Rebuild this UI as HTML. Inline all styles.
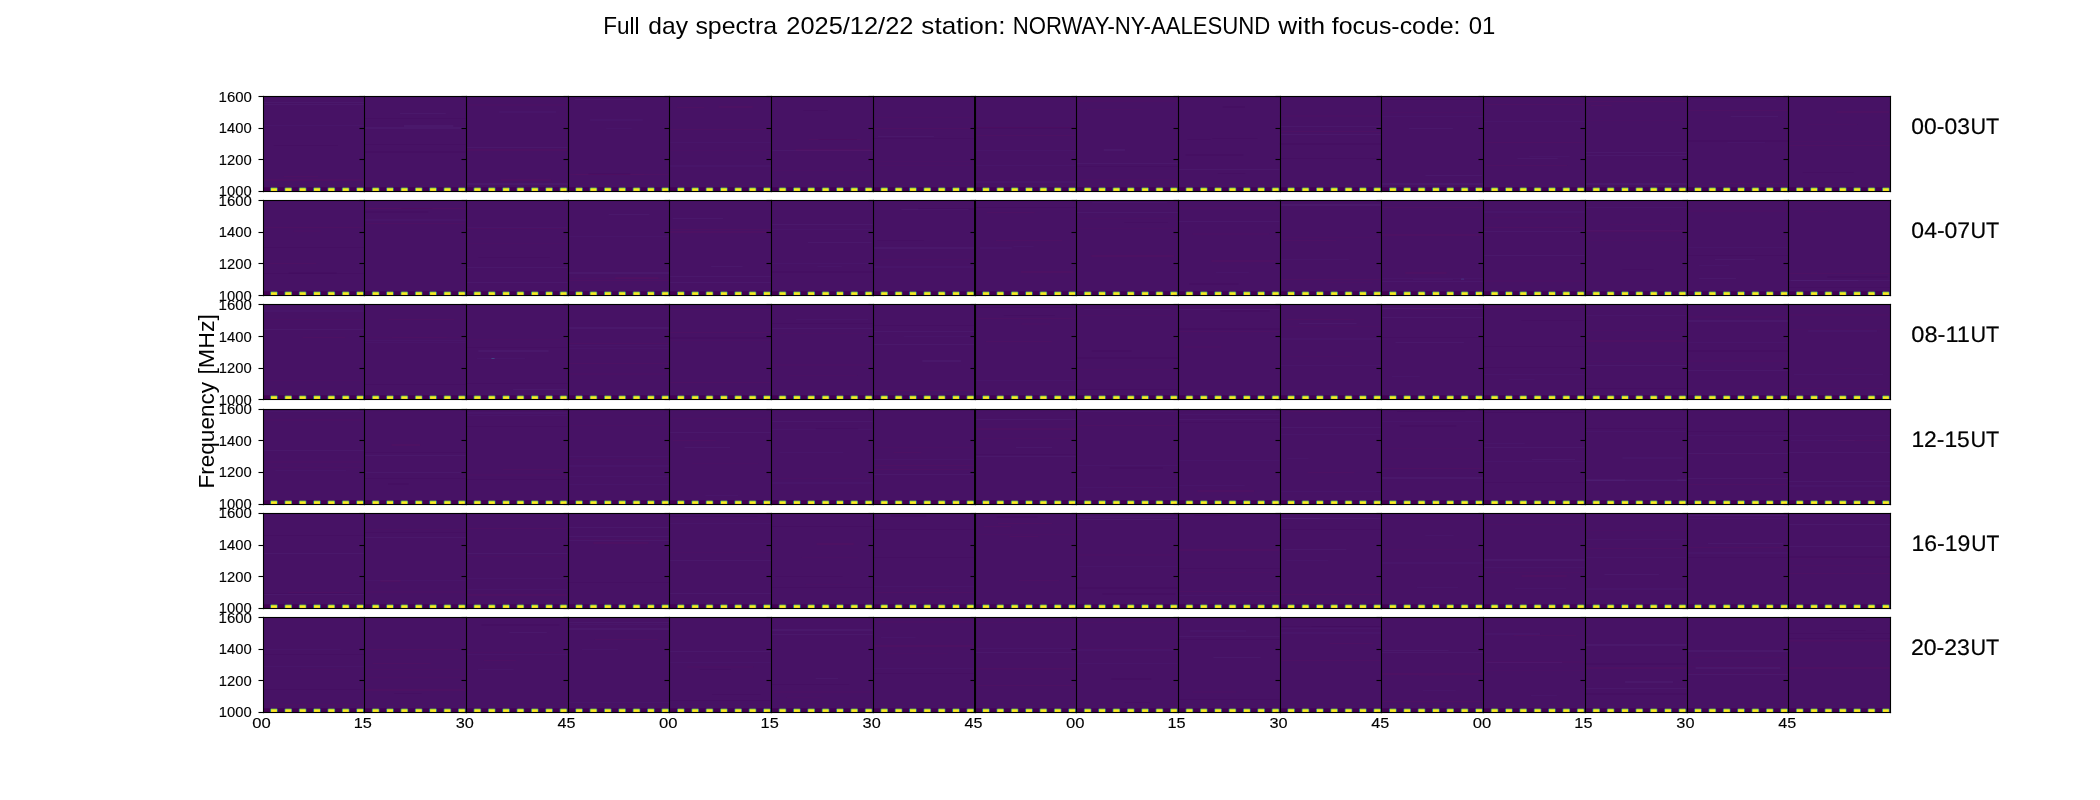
<!DOCTYPE html>
<html><head><meta charset="utf-8"><title>Full day spectra</title>
<style>html,body{margin:0;padding:0;background:#fff}body{width:2100px;height:800px;overflow:hidden;position:relative}svg{position:absolute;left:0;top:0;display:block}text{font-family:"Liberation Sans",sans-serif;fill:#000}</style>
</head><body>
<svg width="2100" height="800" viewBox="0 0 2100 800">
<rect x="0" y="0" width="2100" height="800" fill="#fff"/>
<g>
<rect x="263" y="96.5" width="1627.5" height="95" fill="#471265"/>
<rect x="263.5" y="125" width="100.7" height="1" fill="#6a5ab0" opacity="0.06"/>
<rect x="263.5" y="104" width="100.7" height="1" fill="#6a5ab0" opacity="0.09"/>
<rect x="283.4" y="176" width="34.6" height="1" fill="#8a0a58" opacity="0.1"/>
<rect x="273.7" y="145" width="64.3" height="1" fill="#3a0050" opacity="0.12"/>
<rect x="263.5" y="179" width="100.7" height="2" fill="#8a0a58" opacity="0.1"/>
<rect x="263.5" y="102" width="100.7" height="1" fill="#6a5ab0" opacity="0.09"/>
<rect x="364.2" y="144" width="101.7" height="1" fill="#3a0050" opacity="0.12"/>
<rect x="399.8" y="113" width="46.0" height="1" fill="#6a5ab0" opacity="0.09"/>
<rect x="364.2" y="151" width="101.7" height="2" fill="#3a0050" opacity="0.12"/>
<rect x="403.9" y="125" width="49.4" height="2" fill="#6a5ab0" opacity="0.09"/>
<rect x="364.2" y="118" width="101.7" height="1" fill="#3a0050" opacity="0.12"/>
<rect x="364.2" y="127" width="101.7" height="2" fill="#6a5ab0" opacity="0.09"/>
<rect x="465.9" y="104" width="101.7" height="2" fill="#8a0a58" opacity="0.06"/>
<rect x="499.3" y="111" width="56.9" height="2" fill="#6a5ab0" opacity="0.06"/>
<rect x="465.9" y="147" width="101.7" height="1" fill="#6a5ab0" opacity="0.09"/>
<rect x="465.9" y="149" width="101.7" height="2" fill="#8a0a58" opacity="0.1"/>
<rect x="501.0" y="179" width="50.2" height="2" fill="#8a0a58" opacity="0.1"/>
<rect x="465.9" y="183" width="101.7" height="2" fill="#6a5ab0" opacity="0.09"/>
<rect x="567.7" y="174" width="101.7" height="1" fill="#8a0a58" opacity="0.1"/>
<rect x="606.1" y="128" width="25.6" height="1" fill="#6a5ab0" opacity="0.06"/>
<rect x="590.1" y="119" width="52.6" height="2" fill="#6a5ab0" opacity="0.06"/>
<rect x="588.4" y="173" width="41.9" height="2" fill="#3a0050" opacity="0.12"/>
<rect x="575.2" y="174" width="68.8" height="1" fill="#8a0a58" opacity="0.06"/>
<rect x="574.9" y="99" width="59.8" height="1" fill="#6a5ab0" opacity="0.09"/>
<rect x="669.4" y="150" width="101.7" height="1" fill="#8a0a58" opacity="0.06"/>
<rect x="669.4" y="142" width="101.7" height="1" fill="#6a5ab0" opacity="0.06"/>
<rect x="669.4" y="165" width="101.7" height="2" fill="#6a5ab0" opacity="0.06"/>
<rect x="718.6" y="106" width="34.3" height="2" fill="#8a0a58" opacity="0.1"/>
<rect x="676.9" y="107" width="27.5" height="1" fill="#8a0a58" opacity="0.1"/>
<rect x="669.4" y="129" width="101.7" height="1" fill="#8a0a58" opacity="0.1"/>
<rect x="771.1" y="150" width="101.7" height="1" fill="#6a5ab0" opacity="0.09"/>
<rect x="795.5" y="149" width="76.0" height="2" fill="#8a0a58" opacity="0.1"/>
<rect x="808.6" y="139" width="52.7" height="1" fill="#8a0a58" opacity="0.1"/>
<rect x="818.6" y="139" width="38.1" height="1" fill="#3a0050" opacity="0.12"/>
<rect x="803.2" y="110" width="24.5" height="1" fill="#3a0050" opacity="0.12"/>
<rect x="771.1" y="170" width="101.7" height="1" fill="#8a0a58" opacity="0.06"/>
<rect x="872.8" y="117" width="101.7" height="1" fill="#8a0a58" opacity="0.06"/>
<rect x="872.8" y="165" width="101.7" height="1" fill="#8a0a58" opacity="0.06"/>
<rect x="872.8" y="161" width="101.7" height="1" fill="#8a0a58" opacity="0.06"/>
<rect x="872.8" y="128" width="101.7" height="1" fill="#8a0a58" opacity="0.1"/>
<rect x="872.8" y="138" width="101.7" height="1" fill="#3a0050" opacity="0.12"/>
<rect x="877.9" y="136" width="56.0" height="1" fill="#6a5ab0" opacity="0.09"/>
<rect x="974.5" y="127" width="101.7" height="2" fill="#3a0050" opacity="0.12"/>
<rect x="974.5" y="150" width="101.7" height="1" fill="#6a5ab0" opacity="0.06"/>
<rect x="974.5" y="127" width="101.7" height="1" fill="#8a0a58" opacity="0.1"/>
<rect x="974.5" y="165" width="101.7" height="1" fill="#6a5ab0" opacity="0.06"/>
<rect x="974.5" y="135" width="101.7" height="1" fill="#8a0a58" opacity="0.1"/>
<rect x="974.5" y="181" width="101.7" height="2" fill="#6a5ab0" opacity="0.06"/>
<rect x="1076.2" y="179" width="101.7" height="1" fill="#8a0a58" opacity="0.06"/>
<rect x="1076.2" y="100" width="101.7" height="2" fill="#8a0a58" opacity="0.06"/>
<rect x="1103.7" y="149" width="21.2" height="2" fill="#6a5ab0" opacity="0.09"/>
<rect x="1076.2" y="166" width="101.7" height="1" fill="#3a0050" opacity="0.12"/>
<rect x="1086.9" y="109" width="55.6" height="1" fill="#8a0a58" opacity="0.06"/>
<rect x="1076.2" y="163" width="101.7" height="1" fill="#6a5ab0" opacity="0.09"/>
<rect x="1178.0" y="169" width="101.7" height="1" fill="#6a5ab0" opacity="0.09"/>
<rect x="1185.6" y="154" width="57.8" height="2" fill="#3a0050" opacity="0.12"/>
<rect x="1217.9" y="173" width="27.2" height="1" fill="#3a0050" opacity="0.12"/>
<rect x="1212.1" y="138" width="45.3" height="1" fill="#3a0050" opacity="0.12"/>
<rect x="1187.5" y="139" width="23.0" height="1" fill="#3a0050" opacity="0.12"/>
<rect x="1222.7" y="106" width="22.3" height="2" fill="#3a0050" opacity="0.12"/>
<rect x="1279.7" y="126" width="101.7" height="1" fill="#6a5ab0" opacity="0.09"/>
<rect x="1279.7" y="143" width="101.7" height="2" fill="#3a0050" opacity="0.12"/>
<rect x="1279.7" y="158" width="101.7" height="1" fill="#3a0050" opacity="0.12"/>
<rect x="1279.7" y="115" width="101.7" height="2" fill="#8a0a58" opacity="0.06"/>
<rect x="1279.7" y="131" width="101.7" height="1" fill="#8a0a58" opacity="0.1"/>
<rect x="1279.7" y="134" width="101.7" height="1" fill="#6a5ab0" opacity="0.09"/>
<rect x="1425.5" y="175" width="56.4" height="1" fill="#6a5ab0" opacity="0.09"/>
<rect x="1381.4" y="116" width="101.7" height="1" fill="#6a5ab0" opacity="0.06"/>
<rect x="1381.4" y="112" width="101.7" height="1" fill="#8a0a58" opacity="0.06"/>
<rect x="1381.4" y="183" width="101.7" height="2" fill="#6a5ab0" opacity="0.09"/>
<rect x="1409.1" y="128" width="43.8" height="1" fill="#6a5ab0" opacity="0.09"/>
<rect x="1381.4" y="99" width="101.7" height="1" fill="#3a0050" opacity="0.12"/>
<rect x="1483.1" y="142" width="101.7" height="1" fill="#8a0a58" opacity="0.1"/>
<rect x="1485.1" y="165" width="82.1" height="1" fill="#8a0a58" opacity="0.1"/>
<rect x="1483.1" y="121" width="101.7" height="1" fill="#6a5ab0" opacity="0.06"/>
<rect x="1529.1" y="156" width="40.4" height="1" fill="#6a5ab0" opacity="0.06"/>
<rect x="1517.5" y="158" width="40.1" height="1" fill="#6a5ab0" opacity="0.09"/>
<rect x="1483.1" y="104" width="101.7" height="1" fill="#8a0a58" opacity="0.1"/>
<rect x="1590.9" y="105" width="20.9" height="1" fill="#8a0a58" opacity="0.1"/>
<rect x="1584.8" y="183" width="101.7" height="2" fill="#6a5ab0" opacity="0.09"/>
<rect x="1584.8" y="101" width="101.7" height="1" fill="#8a0a58" opacity="0.1"/>
<rect x="1584.8" y="120" width="101.7" height="1" fill="#8a0a58" opacity="0.06"/>
<rect x="1584.8" y="152" width="101.7" height="1" fill="#6a5ab0" opacity="0.09"/>
<rect x="1584.8" y="155" width="101.7" height="1" fill="#6a5ab0" opacity="0.09"/>
<rect x="1711.8" y="183" width="75.2" height="1" fill="#8a0a58" opacity="0.1"/>
<rect x="1727.5" y="142" width="37.6" height="1" fill="#6a5ab0" opacity="0.06"/>
<rect x="1686.6" y="140" width="101.7" height="2" fill="#3a0050" opacity="0.12"/>
<rect x="1730.7" y="116" width="47.4" height="1" fill="#6a5ab0" opacity="0.09"/>
<rect x="1686.6" y="110" width="101.7" height="1" fill="#8a0a58" opacity="0.1"/>
<rect x="1690.8" y="99" width="85.2" height="1" fill="#6a5ab0" opacity="0.06"/>
<rect x="1802.9" y="172" width="50.8" height="1" fill="#3a0050" opacity="0.12"/>
<rect x="1836.4" y="111" width="52.7" height="2" fill="#8a0a58" opacity="0.1"/>
<rect x="1788.3" y="145" width="101.7" height="1" fill="#8a0a58" opacity="0.1"/>
<rect x="1807.4" y="124" width="49.7" height="1" fill="#8a0a58" opacity="0.06"/>
<rect x="1788.3" y="141" width="101.7" height="1" fill="#8a0a58" opacity="0.06"/>
<rect x="1817.6" y="98" width="40.6" height="1" fill="#8a0a58" opacity="0.1"/>
<rect x="263" y="187" width="1627.5" height="1" fill="#45085b"/>
<rect x="263" y="187.8" width="1627.5" height="3.7" fill="#440154"/>
<path fill="#26828e" d="M270.15 187.80h7.55v3.7h-7.55zM284.50 187.80h7.55v3.7h-7.55zM298.85 187.80h7.55v3.7h-7.55zM313.20 187.80h7.55v3.7h-7.55zM327.55 187.80h7.55v3.7h-7.55zM341.90 187.80h7.55v3.7h-7.55zM356.25 187.80h7.55v3.7h-7.55zM371.87 187.80h7.55v3.7h-7.55zM386.22 187.80h7.55v3.7h-7.55zM400.57 187.80h7.55v3.7h-7.55zM414.92 187.80h7.55v3.7h-7.55zM429.27 187.80h7.55v3.7h-7.55zM443.62 187.80h7.55v3.7h-7.55zM457.97 187.80h7.55v3.7h-7.55zM473.59 187.80h7.55v3.7h-7.55zM487.94 187.80h7.55v3.7h-7.55zM502.29 187.80h7.55v3.7h-7.55zM516.64 187.80h7.55v3.7h-7.55zM530.99 187.80h7.55v3.7h-7.55zM545.34 187.80h7.55v3.7h-7.55zM559.69 187.80h7.55v3.7h-7.55zM575.31 187.80h7.55v3.7h-7.55zM589.66 187.80h7.55v3.7h-7.55zM604.01 187.80h7.55v3.7h-7.55zM618.36 187.80h7.55v3.7h-7.55zM632.71 187.80h7.55v3.7h-7.55zM647.06 187.80h7.55v3.7h-7.55zM661.41 187.80h7.55v3.7h-7.55zM677.02 187.80h7.55v3.7h-7.55zM691.38 187.80h7.55v3.7h-7.55zM705.73 187.80h7.55v3.7h-7.55zM720.07 187.80h7.55v3.7h-7.55zM734.42 187.80h7.55v3.7h-7.55zM748.77 187.80h7.55v3.7h-7.55zM763.12 187.80h7.55v3.7h-7.55zM778.74 187.80h7.55v3.7h-7.55zM793.09 187.80h7.55v3.7h-7.55zM807.44 187.80h7.55v3.7h-7.55zM821.79 187.80h7.55v3.7h-7.55zM836.14 187.80h7.55v3.7h-7.55zM850.49 187.80h7.55v3.7h-7.55zM864.84 187.80h7.55v3.7h-7.55zM880.46 187.80h7.55v3.7h-7.55zM894.81 187.80h7.55v3.7h-7.55zM909.16 187.80h7.55v3.7h-7.55zM923.51 187.80h7.55v3.7h-7.55zM937.86 187.80h7.55v3.7h-7.55zM952.21 187.80h7.55v3.7h-7.55zM966.56 187.80h7.55v3.7h-7.55zM982.18 187.80h7.55v3.7h-7.55zM996.53 187.80h7.55v3.7h-7.55zM1010.88 187.80h7.55v3.7h-7.55zM1025.23 187.80h7.55v3.7h-7.55zM1039.58 187.80h7.55v3.7h-7.55zM1053.93 187.80h7.55v3.7h-7.55zM1068.28 187.80h7.55v3.7h-7.55zM1083.90 187.80h7.55v3.7h-7.55zM1098.25 187.80h7.55v3.7h-7.55zM1112.60 187.80h7.55v3.7h-7.55zM1126.95 187.80h7.55v3.7h-7.55zM1141.30 187.80h7.55v3.7h-7.55zM1155.65 187.80h7.55v3.7h-7.55zM1170.00 187.80h7.55v3.7h-7.55zM1185.62 187.80h7.55v3.7h-7.55zM1199.97 187.80h7.55v3.7h-7.55zM1214.32 187.80h7.55v3.7h-7.55zM1228.67 187.80h7.55v3.7h-7.55zM1243.02 187.80h7.55v3.7h-7.55zM1257.37 187.80h7.55v3.7h-7.55zM1271.72 187.80h7.55v3.7h-7.55zM1287.34 187.80h7.55v3.7h-7.55zM1301.69 187.80h7.55v3.7h-7.55zM1316.04 187.80h7.55v3.7h-7.55zM1330.39 187.80h7.55v3.7h-7.55zM1344.74 187.80h7.55v3.7h-7.55zM1359.09 187.80h7.55v3.7h-7.55zM1373.44 187.80h7.55v3.7h-7.55zM1389.06 187.80h7.55v3.7h-7.55zM1403.41 187.80h7.55v3.7h-7.55zM1417.76 187.80h7.55v3.7h-7.55zM1432.11 187.80h7.55v3.7h-7.55zM1446.46 187.80h7.55v3.7h-7.55zM1460.81 187.80h7.55v3.7h-7.55zM1475.16 187.80h7.55v3.7h-7.55zM1490.78 187.80h7.55v3.7h-7.55zM1505.12 187.80h7.55v3.7h-7.55zM1519.48 187.80h7.55v3.7h-7.55zM1533.83 187.80h7.55v3.7h-7.55zM1548.18 187.80h7.55v3.7h-7.55zM1562.53 187.80h7.55v3.7h-7.55zM1576.88 187.80h7.55v3.7h-7.55zM1592.49 187.80h7.55v3.7h-7.55zM1606.84 187.80h7.55v3.7h-7.55zM1621.19 187.80h7.55v3.7h-7.55zM1635.54 187.80h7.55v3.7h-7.55zM1649.89 187.80h7.55v3.7h-7.55zM1664.24 187.80h7.55v3.7h-7.55zM1678.59 187.80h7.55v3.7h-7.55zM1694.21 187.80h7.55v3.7h-7.55zM1708.56 187.80h7.55v3.7h-7.55zM1722.91 187.80h7.55v3.7h-7.55zM1737.26 187.80h7.55v3.7h-7.55zM1751.61 187.80h7.55v3.7h-7.55zM1765.96 187.80h7.55v3.7h-7.55zM1780.31 187.80h7.55v3.7h-7.55zM1795.93 187.80h7.55v3.7h-7.55zM1810.28 187.80h7.55v3.7h-7.55zM1824.63 187.80h7.55v3.7h-7.55zM1838.98 187.80h7.55v3.7h-7.55zM1853.33 187.80h7.55v3.7h-7.55zM1867.68 187.80h7.55v3.7h-7.55zM1882.03 187.80h7.55v3.7h-7.55z"/><path fill="#a5db36" d="M271.00 187.80h5.95v3.7h-5.95zM285.35 187.80h5.95v3.7h-5.95zM299.70 187.80h5.95v3.7h-5.95zM314.05 187.80h5.95v3.7h-5.95zM328.40 187.80h5.95v3.7h-5.95zM342.75 187.80h5.95v3.7h-5.95zM357.10 187.80h5.95v3.7h-5.95zM372.72 187.80h5.95v3.7h-5.95zM387.07 187.80h5.95v3.7h-5.95zM401.42 187.80h5.95v3.7h-5.95zM415.77 187.80h5.95v3.7h-5.95zM430.12 187.80h5.95v3.7h-5.95zM444.47 187.80h5.95v3.7h-5.95zM458.82 187.80h5.95v3.7h-5.95zM474.44 187.80h5.95v3.7h-5.95zM488.79 187.80h5.95v3.7h-5.95zM503.14 187.80h5.95v3.7h-5.95zM517.49 187.80h5.95v3.7h-5.95zM531.84 187.80h5.95v3.7h-5.95zM546.19 187.80h5.95v3.7h-5.95zM560.54 187.80h5.95v3.7h-5.95zM576.16 187.80h5.95v3.7h-5.95zM590.51 187.80h5.95v3.7h-5.95zM604.86 187.80h5.95v3.7h-5.95zM619.21 187.80h5.95v3.7h-5.95zM633.56 187.80h5.95v3.7h-5.95zM647.91 187.80h5.95v3.7h-5.95zM662.26 187.80h5.95v3.7h-5.95zM677.88 187.80h5.95v3.7h-5.95zM692.23 187.80h5.95v3.7h-5.95zM706.58 187.80h5.95v3.7h-5.95zM720.92 187.80h5.95v3.7h-5.95zM735.27 187.80h5.95v3.7h-5.95zM749.62 187.80h5.95v3.7h-5.95zM763.98 187.80h5.95v3.7h-5.95zM779.59 187.80h5.95v3.7h-5.95zM793.94 187.80h5.95v3.7h-5.95zM808.29 187.80h5.95v3.7h-5.95zM822.64 187.80h5.95v3.7h-5.95zM836.99 187.80h5.95v3.7h-5.95zM851.34 187.80h5.95v3.7h-5.95zM865.69 187.80h5.95v3.7h-5.95zM881.31 187.80h5.95v3.7h-5.95zM895.66 187.80h5.95v3.7h-5.95zM910.01 187.80h5.95v3.7h-5.95zM924.36 187.80h5.95v3.7h-5.95zM938.71 187.80h5.95v3.7h-5.95zM953.06 187.80h5.95v3.7h-5.95zM967.41 187.80h5.95v3.7h-5.95zM983.03 187.80h5.95v3.7h-5.95zM997.38 187.80h5.95v3.7h-5.95zM1011.73 187.80h5.95v3.7h-5.95zM1026.08 187.80h5.95v3.7h-5.95zM1040.43 187.80h5.95v3.7h-5.95zM1054.78 187.80h5.95v3.7h-5.95zM1069.13 187.80h5.95v3.7h-5.95zM1084.75 187.80h5.95v3.7h-5.95zM1099.10 187.80h5.95v3.7h-5.95zM1113.45 187.80h5.95v3.7h-5.95zM1127.80 187.80h5.95v3.7h-5.95zM1142.15 187.80h5.95v3.7h-5.95zM1156.50 187.80h5.95v3.7h-5.95zM1170.85 187.80h5.95v3.7h-5.95zM1186.47 187.80h5.95v3.7h-5.95zM1200.82 187.80h5.95v3.7h-5.95zM1215.17 187.80h5.95v3.7h-5.95zM1229.52 187.80h5.95v3.7h-5.95zM1243.87 187.80h5.95v3.7h-5.95zM1258.22 187.80h5.95v3.7h-5.95zM1272.57 187.80h5.95v3.7h-5.95zM1288.19 187.80h5.95v3.7h-5.95zM1302.54 187.80h5.95v3.7h-5.95zM1316.89 187.80h5.95v3.7h-5.95zM1331.24 187.80h5.95v3.7h-5.95zM1345.59 187.80h5.95v3.7h-5.95zM1359.94 187.80h5.95v3.7h-5.95zM1374.29 187.80h5.95v3.7h-5.95zM1389.91 187.80h5.95v3.7h-5.95zM1404.26 187.80h5.95v3.7h-5.95zM1418.61 187.80h5.95v3.7h-5.95zM1432.96 187.80h5.95v3.7h-5.95zM1447.31 187.80h5.95v3.7h-5.95zM1461.66 187.80h5.95v3.7h-5.95zM1476.01 187.80h5.95v3.7h-5.95zM1491.62 187.80h5.95v3.7h-5.95zM1505.97 187.80h5.95v3.7h-5.95zM1520.33 187.80h5.95v3.7h-5.95zM1534.67 187.80h5.95v3.7h-5.95zM1549.03 187.80h5.95v3.7h-5.95zM1563.38 187.80h5.95v3.7h-5.95zM1577.72 187.80h5.95v3.7h-5.95zM1593.34 187.80h5.95v3.7h-5.95zM1607.69 187.80h5.95v3.7h-5.95zM1622.04 187.80h5.95v3.7h-5.95zM1636.39 187.80h5.95v3.7h-5.95zM1650.74 187.80h5.95v3.7h-5.95zM1665.09 187.80h5.95v3.7h-5.95zM1679.44 187.80h5.95v3.7h-5.95zM1695.06 187.80h5.95v3.7h-5.95zM1709.41 187.80h5.95v3.7h-5.95zM1723.76 187.80h5.95v3.7h-5.95zM1738.11 187.80h5.95v3.7h-5.95zM1752.46 187.80h5.95v3.7h-5.95zM1766.81 187.80h5.95v3.7h-5.95zM1781.16 187.80h5.95v3.7h-5.95zM1796.78 187.80h5.95v3.7h-5.95zM1811.13 187.80h5.95v3.7h-5.95zM1825.48 187.80h5.95v3.7h-5.95zM1839.83 187.80h5.95v3.7h-5.95zM1854.18 187.80h5.95v3.7h-5.95zM1868.53 187.80h5.95v3.7h-5.95zM1882.88 187.80h5.95v3.7h-5.95z"/><path fill="#fde725" d="M271.10 188.65h5.75v2.85h-5.75zM285.45 188.65h5.75v2.85h-5.75zM299.80 188.65h5.75v2.85h-5.75zM314.15 188.65h5.75v2.85h-5.75zM328.50 188.65h5.75v2.85h-5.75zM342.85 188.65h5.75v2.85h-5.75zM357.20 188.65h5.75v2.85h-5.75zM372.82 188.65h5.75v2.85h-5.75zM387.17 188.65h5.75v2.85h-5.75zM401.52 188.65h5.75v2.85h-5.75zM415.87 188.65h5.75v2.85h-5.75zM430.22 188.65h5.75v2.85h-5.75zM444.57 188.65h5.75v2.85h-5.75zM458.92 188.65h5.75v2.85h-5.75zM474.54 188.65h5.75v2.85h-5.75zM488.89 188.65h5.75v2.85h-5.75zM503.24 188.65h5.75v2.85h-5.75zM517.59 188.65h5.75v2.85h-5.75zM531.94 188.65h5.75v2.85h-5.75zM546.29 188.65h5.75v2.85h-5.75zM560.64 188.65h5.75v2.85h-5.75zM576.26 188.65h5.75v2.85h-5.75zM590.61 188.65h5.75v2.85h-5.75zM604.96 188.65h5.75v2.85h-5.75zM619.31 188.65h5.75v2.85h-5.75zM633.66 188.65h5.75v2.85h-5.75zM648.01 188.65h5.75v2.85h-5.75zM662.36 188.65h5.75v2.85h-5.75zM677.98 188.65h5.75v2.85h-5.75zM692.33 188.65h5.75v2.85h-5.75zM706.68 188.65h5.75v2.85h-5.75zM721.02 188.65h5.75v2.85h-5.75zM735.38 188.65h5.75v2.85h-5.75zM749.73 188.65h5.75v2.85h-5.75zM764.08 188.65h5.75v2.85h-5.75zM779.69 188.65h5.75v2.85h-5.75zM794.04 188.65h5.75v2.85h-5.75zM808.39 188.65h5.75v2.85h-5.75zM822.74 188.65h5.75v2.85h-5.75zM837.09 188.65h5.75v2.85h-5.75zM851.44 188.65h5.75v2.85h-5.75zM865.79 188.65h5.75v2.85h-5.75zM881.41 188.65h5.75v2.85h-5.75zM895.76 188.65h5.75v2.85h-5.75zM910.11 188.65h5.75v2.85h-5.75zM924.46 188.65h5.75v2.85h-5.75zM938.81 188.65h5.75v2.85h-5.75zM953.16 188.65h5.75v2.85h-5.75zM967.51 188.65h5.75v2.85h-5.75zM983.13 188.65h5.75v2.85h-5.75zM997.48 188.65h5.75v2.85h-5.75zM1011.83 188.65h5.75v2.85h-5.75zM1026.18 188.65h5.75v2.85h-5.75zM1040.53 188.65h5.75v2.85h-5.75zM1054.88 188.65h5.75v2.85h-5.75zM1069.23 188.65h5.75v2.85h-5.75zM1084.85 188.65h5.75v2.85h-5.75zM1099.20 188.65h5.75v2.85h-5.75zM1113.55 188.65h5.75v2.85h-5.75zM1127.90 188.65h5.75v2.85h-5.75zM1142.25 188.65h5.75v2.85h-5.75zM1156.60 188.65h5.75v2.85h-5.75zM1170.95 188.65h5.75v2.85h-5.75zM1186.57 188.65h5.75v2.85h-5.75zM1200.92 188.65h5.75v2.85h-5.75zM1215.27 188.65h5.75v2.85h-5.75zM1229.62 188.65h5.75v2.85h-5.75zM1243.97 188.65h5.75v2.85h-5.75zM1258.32 188.65h5.75v2.85h-5.75zM1272.67 188.65h5.75v2.85h-5.75zM1288.29 188.65h5.75v2.85h-5.75zM1302.64 188.65h5.75v2.85h-5.75zM1316.99 188.65h5.75v2.85h-5.75zM1331.34 188.65h5.75v2.85h-5.75zM1345.69 188.65h5.75v2.85h-5.75zM1360.04 188.65h5.75v2.85h-5.75zM1374.39 188.65h5.75v2.85h-5.75zM1390.01 188.65h5.75v2.85h-5.75zM1404.36 188.65h5.75v2.85h-5.75zM1418.71 188.65h5.75v2.85h-5.75zM1433.06 188.65h5.75v2.85h-5.75zM1447.41 188.65h5.75v2.85h-5.75zM1461.76 188.65h5.75v2.85h-5.75zM1476.11 188.65h5.75v2.85h-5.75zM1491.73 188.65h5.75v2.85h-5.75zM1506.08 188.65h5.75v2.85h-5.75zM1520.43 188.65h5.75v2.85h-5.75zM1534.78 188.65h5.75v2.85h-5.75zM1549.13 188.65h5.75v2.85h-5.75zM1563.48 188.65h5.75v2.85h-5.75zM1577.83 188.65h5.75v2.85h-5.75zM1593.44 188.65h5.75v2.85h-5.75zM1607.79 188.65h5.75v2.85h-5.75zM1622.14 188.65h5.75v2.85h-5.75zM1636.49 188.65h5.75v2.85h-5.75zM1650.84 188.65h5.75v2.85h-5.75zM1665.19 188.65h5.75v2.85h-5.75zM1679.54 188.65h5.75v2.85h-5.75zM1695.16 188.65h5.75v2.85h-5.75zM1709.51 188.65h5.75v2.85h-5.75zM1723.86 188.65h5.75v2.85h-5.75zM1738.21 188.65h5.75v2.85h-5.75zM1752.56 188.65h5.75v2.85h-5.75zM1766.91 188.65h5.75v2.85h-5.75zM1781.26 188.65h5.75v2.85h-5.75zM1796.88 188.65h5.75v2.85h-5.75zM1811.23 188.65h5.75v2.85h-5.75zM1825.58 188.65h5.75v2.85h-5.75zM1839.93 188.65h5.75v2.85h-5.75zM1854.28 188.65h5.75v2.85h-5.75zM1868.63 188.65h5.75v2.85h-5.75zM1882.98 188.65h5.75v2.85h-5.75z"/>
</g>
<g>
<rect x="263" y="200.5" width="1627.5" height="95" fill="#471265"/>
<rect x="263.5" y="227" width="100.7" height="1" fill="#8a0a58" opacity="0.1"/>
<rect x="263.5" y="247" width="100.7" height="1" fill="#3a0050" opacity="0.12"/>
<rect x="293.4" y="230" width="27.4" height="2" fill="#8a0a58" opacity="0.06"/>
<rect x="288.7" y="272" width="48.0" height="2" fill="#3a0050" opacity="0.12"/>
<rect x="263.5" y="273" width="100.7" height="1" fill="#3a0050" opacity="0.12"/>
<rect x="269.2" y="263" width="47.1" height="1" fill="#8a0a58" opacity="0.1"/>
<rect x="365.2" y="211" width="62.9" height="2" fill="#3a0050" opacity="0.12"/>
<rect x="364.2" y="223" width="101.7" height="1" fill="#8a0a58" opacity="0.1"/>
<rect x="401.1" y="208" width="31.3" height="1" fill="#3a0050" opacity="0.12"/>
<rect x="364.2" y="208" width="101.7" height="1" fill="#8a0a58" opacity="0.06"/>
<rect x="364.2" y="219" width="101.7" height="2" fill="#6a5ab0" opacity="0.06"/>
<rect x="364.2" y="208" width="101.7" height="1" fill="#8a0a58" opacity="0.1"/>
<rect x="478.6" y="257" width="71.3" height="1" fill="#3a0050" opacity="0.12"/>
<rect x="465.9" y="228" width="101.7" height="1" fill="#8a0a58" opacity="0.1"/>
<rect x="465.9" y="243" width="101.7" height="1" fill="#8a0a58" opacity="0.06"/>
<rect x="465.9" y="227" width="101.7" height="1" fill="#6a5ab0" opacity="0.06"/>
<rect x="465.9" y="267" width="101.7" height="1" fill="#6a5ab0" opacity="0.09"/>
<rect x="465.9" y="282" width="101.7" height="1" fill="#6a5ab0" opacity="0.09"/>
<rect x="567.7" y="272" width="101.7" height="2" fill="#6a5ab0" opacity="0.09"/>
<rect x="567.7" y="280" width="101.7" height="1" fill="#8a0a58" opacity="0.1"/>
<rect x="608.7" y="214" width="40.7" height="1" fill="#6a5ab0" opacity="0.09"/>
<rect x="567.7" y="278" width="101.7" height="1" fill="#8a0a58" opacity="0.06"/>
<rect x="615.2" y="277" width="43.3" height="2" fill="#8a0a58" opacity="0.1"/>
<rect x="567.7" y="236" width="101.7" height="1" fill="#6a5ab0" opacity="0.06"/>
<rect x="669.4" y="229" width="101.7" height="1" fill="#8a0a58" opacity="0.1"/>
<rect x="669.4" y="231" width="101.7" height="2" fill="#8a0a58" opacity="0.1"/>
<rect x="672.6" y="218" width="50.6" height="1" fill="#6a5ab0" opacity="0.09"/>
<rect x="669.4" y="276" width="101.7" height="1" fill="#6a5ab0" opacity="0.09"/>
<rect x="711.1" y="266" width="31.4" height="1" fill="#6a5ab0" opacity="0.09"/>
<rect x="669.4" y="282" width="101.7" height="1" fill="#6a5ab0" opacity="0.09"/>
<rect x="771.1" y="229" width="101.7" height="1" fill="#6a5ab0" opacity="0.06"/>
<rect x="771.1" y="271" width="101.7" height="2" fill="#3a0050" opacity="0.12"/>
<rect x="771.1" y="263" width="101.7" height="1" fill="#6a5ab0" opacity="0.06"/>
<rect x="817.4" y="266" width="24.5" height="1" fill="#6a5ab0" opacity="0.06"/>
<rect x="808.0" y="242" width="63.7" height="1" fill="#6a5ab0" opacity="0.09"/>
<rect x="771.1" y="224" width="101.7" height="1" fill="#6a5ab0" opacity="0.09"/>
<rect x="872.8" y="259" width="101.7" height="1" fill="#8a0a58" opacity="0.06"/>
<rect x="918.1" y="208" width="56.3" height="2" fill="#3a0050" opacity="0.12"/>
<rect x="877.3" y="240" width="46.4" height="1" fill="#3a0050" opacity="0.12"/>
<rect x="901.3" y="209" width="67.2" height="1" fill="#6a5ab0" opacity="0.09"/>
<rect x="872.8" y="266" width="101.7" height="2" fill="#6a5ab0" opacity="0.06"/>
<rect x="872.8" y="247" width="101.7" height="2" fill="#6a5ab0" opacity="0.09"/>
<rect x="974.5" y="207" width="101.7" height="1" fill="#3a0050" opacity="0.12"/>
<rect x="987.0" y="212" width="47.7" height="1" fill="#8a0a58" opacity="0.1"/>
<rect x="995.8" y="240" width="66.2" height="1" fill="#8a0a58" opacity="0.1"/>
<rect x="1021.0" y="271" width="52.7" height="2" fill="#8a0a58" opacity="0.1"/>
<rect x="980.0" y="247" width="31.8" height="2" fill="#6a5ab0" opacity="0.06"/>
<rect x="1013.4" y="246" width="20.1" height="1" fill="#6a5ab0" opacity="0.06"/>
<rect x="1076.2" y="212" width="101.7" height="1" fill="#6a5ab0" opacity="0.09"/>
<rect x="1091.3" y="255" width="82.9" height="2" fill="#8a0a58" opacity="0.1"/>
<rect x="1076.2" y="218" width="101.7" height="1" fill="#8a0a58" opacity="0.06"/>
<rect x="1092.1" y="202" width="75.3" height="1" fill="#6a5ab0" opacity="0.06"/>
<rect x="1124.3" y="222" width="43.7" height="1" fill="#3a0050" opacity="0.12"/>
<rect x="1076.2" y="228" width="101.7" height="1" fill="#8a0a58" opacity="0.06"/>
<rect x="1211.3" y="260" width="64.7" height="2" fill="#8a0a58" opacity="0.1"/>
<rect x="1178.0" y="221" width="101.7" height="1" fill="#6a5ab0" opacity="0.09"/>
<rect x="1192.6" y="233" width="76.7" height="2" fill="#8a0a58" opacity="0.06"/>
<rect x="1178.0" y="207" width="101.7" height="2" fill="#8a0a58" opacity="0.06"/>
<rect x="1216.0" y="272" width="32.9" height="1" fill="#6a5ab0" opacity="0.06"/>
<rect x="1189.1" y="283" width="49.4" height="2" fill="#3a0050" opacity="0.12"/>
<rect x="1280.9" y="259" width="68.0" height="1" fill="#6a5ab0" opacity="0.06"/>
<rect x="1279.7" y="237" width="101.7" height="1" fill="#8a0a58" opacity="0.06"/>
<rect x="1279.7" y="279" width="101.7" height="1" fill="#8a0a58" opacity="0.1"/>
<rect x="1326.5" y="282" width="46.1" height="1" fill="#8a0a58" opacity="0.06"/>
<rect x="1279.7" y="204" width="101.7" height="2" fill="#6a5ab0" opacity="0.09"/>
<rect x="1283.7" y="240" width="52.6" height="1" fill="#8a0a58" opacity="0.1"/>
<rect x="1381.4" y="278" width="101.7" height="1" fill="#6a5ab0" opacity="0.06"/>
<rect x="1405.1" y="272" width="41.6" height="2" fill="#8a0a58" opacity="0.1"/>
<rect x="1381.4" y="281" width="101.7" height="1" fill="#6a5ab0" opacity="0.09"/>
<rect x="1412.7" y="279" width="40.4" height="1" fill="#6a5ab0" opacity="0.06"/>
<rect x="1381.4" y="234" width="101.7" height="2" fill="#8a0a58" opacity="0.1"/>
<rect x="1381.4" y="207" width="101.7" height="1" fill="#8a0a58" opacity="0.1"/>
<rect x="1483.1" y="231" width="101.7" height="1" fill="#6a5ab0" opacity="0.09"/>
<rect x="1483.1" y="255" width="101.7" height="1" fill="#6a5ab0" opacity="0.09"/>
<rect x="1483.1" y="227" width="101.7" height="1" fill="#8a0a58" opacity="0.1"/>
<rect x="1483.1" y="211" width="101.7" height="2" fill="#6a5ab0" opacity="0.06"/>
<rect x="1483.1" y="280" width="101.7" height="2" fill="#8a0a58" opacity="0.06"/>
<rect x="1483.1" y="217" width="101.7" height="1" fill="#8a0a58" opacity="0.06"/>
<rect x="1584.8" y="230" width="101.7" height="1" fill="#6a5ab0" opacity="0.06"/>
<rect x="1622.5" y="269" width="30.9" height="1" fill="#3a0050" opacity="0.12"/>
<rect x="1584.8" y="207" width="101.7" height="1" fill="#6a5ab0" opacity="0.06"/>
<rect x="1584.8" y="230" width="101.7" height="2" fill="#8a0a58" opacity="0.1"/>
<rect x="1609.8" y="224" width="60.3" height="1" fill="#8a0a58" opacity="0.06"/>
<rect x="1584.8" y="240" width="101.7" height="1" fill="#8a0a58" opacity="0.06"/>
<rect x="1686.6" y="255" width="101.7" height="1" fill="#3a0050" opacity="0.12"/>
<rect x="1714.9" y="259" width="39.9" height="1" fill="#6a5ab0" opacity="0.09"/>
<rect x="1698.8" y="265" width="30.6" height="1" fill="#6a5ab0" opacity="0.06"/>
<rect x="1699.1" y="278" width="37.0" height="1" fill="#6a5ab0" opacity="0.09"/>
<rect x="1686.6" y="247" width="101.7" height="1" fill="#6a5ab0" opacity="0.06"/>
<rect x="1686.6" y="210" width="101.7" height="2" fill="#8a0a58" opacity="0.06"/>
<rect x="1790.8" y="280" width="67.6" height="1" fill="#6a5ab0" opacity="0.09"/>
<rect x="1788.3" y="273" width="101.7" height="1" fill="#8a0a58" opacity="0.1"/>
<rect x="1827.2" y="276" width="60.5" height="2" fill="#3a0050" opacity="0.12"/>
<rect x="1805.3" y="211" width="22.9" height="1" fill="#8a0a58" opacity="0.06"/>
<rect x="1788.3" y="287" width="101.7" height="1" fill="#3a0050" opacity="0.12"/>
<rect x="1788.3" y="280" width="101.7" height="1" fill="#6a5ab0" opacity="0.09"/>
<rect x="263" y="291" width="1627.5" height="1" fill="#45085b"/>
<rect x="263" y="291.8" width="1627.5" height="3.7" fill="#440154"/>
<path fill="#26828e" d="M270.15 291.80h7.55v3.7h-7.55zM284.50 291.80h7.55v3.7h-7.55zM298.85 291.80h7.55v3.7h-7.55zM313.20 291.80h7.55v3.7h-7.55zM327.55 291.80h7.55v3.7h-7.55zM341.90 291.80h7.55v3.7h-7.55zM356.25 291.80h7.55v3.7h-7.55zM371.87 291.80h7.55v3.7h-7.55zM386.22 291.80h7.55v3.7h-7.55zM400.57 291.80h7.55v3.7h-7.55zM414.92 291.80h7.55v3.7h-7.55zM429.27 291.80h7.55v3.7h-7.55zM443.62 291.80h7.55v3.7h-7.55zM457.97 291.80h7.55v3.7h-7.55zM473.59 291.80h7.55v3.7h-7.55zM487.94 291.80h7.55v3.7h-7.55zM502.29 291.80h7.55v3.7h-7.55zM516.64 291.80h7.55v3.7h-7.55zM530.99 291.80h7.55v3.7h-7.55zM545.34 291.80h7.55v3.7h-7.55zM559.69 291.80h7.55v3.7h-7.55zM575.31 291.80h7.55v3.7h-7.55zM589.66 291.80h7.55v3.7h-7.55zM604.01 291.80h7.55v3.7h-7.55zM618.36 291.80h7.55v3.7h-7.55zM632.71 291.80h7.55v3.7h-7.55zM647.06 291.80h7.55v3.7h-7.55zM661.41 291.80h7.55v3.7h-7.55zM677.02 291.80h7.55v3.7h-7.55zM691.38 291.80h7.55v3.7h-7.55zM705.73 291.80h7.55v3.7h-7.55zM720.07 291.80h7.55v3.7h-7.55zM734.42 291.80h7.55v3.7h-7.55zM748.77 291.80h7.55v3.7h-7.55zM763.12 291.80h7.55v3.7h-7.55zM778.74 291.80h7.55v3.7h-7.55zM793.09 291.80h7.55v3.7h-7.55zM807.44 291.80h7.55v3.7h-7.55zM821.79 291.80h7.55v3.7h-7.55zM836.14 291.80h7.55v3.7h-7.55zM850.49 291.80h7.55v3.7h-7.55zM864.84 291.80h7.55v3.7h-7.55zM880.46 291.80h7.55v3.7h-7.55zM894.81 291.80h7.55v3.7h-7.55zM909.16 291.80h7.55v3.7h-7.55zM923.51 291.80h7.55v3.7h-7.55zM937.86 291.80h7.55v3.7h-7.55zM952.21 291.80h7.55v3.7h-7.55zM966.56 291.80h7.55v3.7h-7.55zM982.18 291.80h7.55v3.7h-7.55zM996.53 291.80h7.55v3.7h-7.55zM1010.88 291.80h7.55v3.7h-7.55zM1025.23 291.80h7.55v3.7h-7.55zM1039.58 291.80h7.55v3.7h-7.55zM1053.93 291.80h7.55v3.7h-7.55zM1068.28 291.80h7.55v3.7h-7.55zM1083.90 291.80h7.55v3.7h-7.55zM1098.25 291.80h7.55v3.7h-7.55zM1112.60 291.80h7.55v3.7h-7.55zM1126.95 291.80h7.55v3.7h-7.55zM1141.30 291.80h7.55v3.7h-7.55zM1155.65 291.80h7.55v3.7h-7.55zM1170.00 291.80h7.55v3.7h-7.55zM1185.62 291.80h7.55v3.7h-7.55zM1199.97 291.80h7.55v3.7h-7.55zM1214.32 291.80h7.55v3.7h-7.55zM1228.67 291.80h7.55v3.7h-7.55zM1243.02 291.80h7.55v3.7h-7.55zM1257.37 291.80h7.55v3.7h-7.55zM1271.72 291.80h7.55v3.7h-7.55zM1287.34 291.80h7.55v3.7h-7.55zM1301.69 291.80h7.55v3.7h-7.55zM1316.04 291.80h7.55v3.7h-7.55zM1330.39 291.80h7.55v3.7h-7.55zM1344.74 291.80h7.55v3.7h-7.55zM1359.09 291.80h7.55v3.7h-7.55zM1373.44 291.80h7.55v3.7h-7.55zM1389.06 291.80h7.55v3.7h-7.55zM1403.41 291.80h7.55v3.7h-7.55zM1417.76 291.80h7.55v3.7h-7.55zM1432.11 291.80h7.55v3.7h-7.55zM1446.46 291.80h7.55v3.7h-7.55zM1460.81 291.80h7.55v3.7h-7.55zM1475.16 291.80h7.55v3.7h-7.55zM1490.78 291.80h7.55v3.7h-7.55zM1505.12 291.80h7.55v3.7h-7.55zM1519.48 291.80h7.55v3.7h-7.55zM1533.83 291.80h7.55v3.7h-7.55zM1548.18 291.80h7.55v3.7h-7.55zM1562.53 291.80h7.55v3.7h-7.55zM1576.88 291.80h7.55v3.7h-7.55zM1592.49 291.80h7.55v3.7h-7.55zM1606.84 291.80h7.55v3.7h-7.55zM1621.19 291.80h7.55v3.7h-7.55zM1635.54 291.80h7.55v3.7h-7.55zM1649.89 291.80h7.55v3.7h-7.55zM1664.24 291.80h7.55v3.7h-7.55zM1678.59 291.80h7.55v3.7h-7.55zM1694.21 291.80h7.55v3.7h-7.55zM1708.56 291.80h7.55v3.7h-7.55zM1722.91 291.80h7.55v3.7h-7.55zM1737.26 291.80h7.55v3.7h-7.55zM1751.61 291.80h7.55v3.7h-7.55zM1765.96 291.80h7.55v3.7h-7.55zM1780.31 291.80h7.55v3.7h-7.55zM1795.93 291.80h7.55v3.7h-7.55zM1810.28 291.80h7.55v3.7h-7.55zM1824.63 291.80h7.55v3.7h-7.55zM1838.98 291.80h7.55v3.7h-7.55zM1853.33 291.80h7.55v3.7h-7.55zM1867.68 291.80h7.55v3.7h-7.55zM1882.03 291.80h7.55v3.7h-7.55z"/><path fill="#a5db36" d="M271.00 291.80h5.95v3.7h-5.95zM285.35 291.80h5.95v3.7h-5.95zM299.70 291.80h5.95v3.7h-5.95zM314.05 291.80h5.95v3.7h-5.95zM328.40 291.80h5.95v3.7h-5.95zM342.75 291.80h5.95v3.7h-5.95zM357.10 291.80h5.95v3.7h-5.95zM372.72 291.80h5.95v3.7h-5.95zM387.07 291.80h5.95v3.7h-5.95zM401.42 291.80h5.95v3.7h-5.95zM415.77 291.80h5.95v3.7h-5.95zM430.12 291.80h5.95v3.7h-5.95zM444.47 291.80h5.95v3.7h-5.95zM458.82 291.80h5.95v3.7h-5.95zM474.44 291.80h5.95v3.7h-5.95zM488.79 291.80h5.95v3.7h-5.95zM503.14 291.80h5.95v3.7h-5.95zM517.49 291.80h5.95v3.7h-5.95zM531.84 291.80h5.95v3.7h-5.95zM546.19 291.80h5.95v3.7h-5.95zM560.54 291.80h5.95v3.7h-5.95zM576.16 291.80h5.95v3.7h-5.95zM590.51 291.80h5.95v3.7h-5.95zM604.86 291.80h5.95v3.7h-5.95zM619.21 291.80h5.95v3.7h-5.95zM633.56 291.80h5.95v3.7h-5.95zM647.91 291.80h5.95v3.7h-5.95zM662.26 291.80h5.95v3.7h-5.95zM677.88 291.80h5.95v3.7h-5.95zM692.23 291.80h5.95v3.7h-5.95zM706.58 291.80h5.95v3.7h-5.95zM720.92 291.80h5.95v3.7h-5.95zM735.27 291.80h5.95v3.7h-5.95zM749.62 291.80h5.95v3.7h-5.95zM763.98 291.80h5.95v3.7h-5.95zM779.59 291.80h5.95v3.7h-5.95zM793.94 291.80h5.95v3.7h-5.95zM808.29 291.80h5.95v3.7h-5.95zM822.64 291.80h5.95v3.7h-5.95zM836.99 291.80h5.95v3.7h-5.95zM851.34 291.80h5.95v3.7h-5.95zM865.69 291.80h5.95v3.7h-5.95zM881.31 291.80h5.95v3.7h-5.95zM895.66 291.80h5.95v3.7h-5.95zM910.01 291.80h5.95v3.7h-5.95zM924.36 291.80h5.95v3.7h-5.95zM938.71 291.80h5.95v3.7h-5.95zM953.06 291.80h5.95v3.7h-5.95zM967.41 291.80h5.95v3.7h-5.95zM983.03 291.80h5.95v3.7h-5.95zM997.38 291.80h5.95v3.7h-5.95zM1011.73 291.80h5.95v3.7h-5.95zM1026.08 291.80h5.95v3.7h-5.95zM1040.43 291.80h5.95v3.7h-5.95zM1054.78 291.80h5.95v3.7h-5.95zM1069.13 291.80h5.95v3.7h-5.95zM1084.75 291.80h5.95v3.7h-5.95zM1099.10 291.80h5.95v3.7h-5.95zM1113.45 291.80h5.95v3.7h-5.95zM1127.80 291.80h5.95v3.7h-5.95zM1142.15 291.80h5.95v3.7h-5.95zM1156.50 291.80h5.95v3.7h-5.95zM1170.85 291.80h5.95v3.7h-5.95zM1186.47 291.80h5.95v3.7h-5.95zM1200.82 291.80h5.95v3.7h-5.95zM1215.17 291.80h5.95v3.7h-5.95zM1229.52 291.80h5.95v3.7h-5.95zM1243.87 291.80h5.95v3.7h-5.95zM1258.22 291.80h5.95v3.7h-5.95zM1272.57 291.80h5.95v3.7h-5.95zM1288.19 291.80h5.95v3.7h-5.95zM1302.54 291.80h5.95v3.7h-5.95zM1316.89 291.80h5.95v3.7h-5.95zM1331.24 291.80h5.95v3.7h-5.95zM1345.59 291.80h5.95v3.7h-5.95zM1359.94 291.80h5.95v3.7h-5.95zM1374.29 291.80h5.95v3.7h-5.95zM1389.91 291.80h5.95v3.7h-5.95zM1404.26 291.80h5.95v3.7h-5.95zM1418.61 291.80h5.95v3.7h-5.95zM1432.96 291.80h5.95v3.7h-5.95zM1447.31 291.80h5.95v3.7h-5.95zM1461.66 291.80h5.95v3.7h-5.95zM1476.01 291.80h5.95v3.7h-5.95zM1491.62 291.80h5.95v3.7h-5.95zM1505.97 291.80h5.95v3.7h-5.95zM1520.33 291.80h5.95v3.7h-5.95zM1534.67 291.80h5.95v3.7h-5.95zM1549.03 291.80h5.95v3.7h-5.95zM1563.38 291.80h5.95v3.7h-5.95zM1577.72 291.80h5.95v3.7h-5.95zM1593.34 291.80h5.95v3.7h-5.95zM1607.69 291.80h5.95v3.7h-5.95zM1622.04 291.80h5.95v3.7h-5.95zM1636.39 291.80h5.95v3.7h-5.95zM1650.74 291.80h5.95v3.7h-5.95zM1665.09 291.80h5.95v3.7h-5.95zM1679.44 291.80h5.95v3.7h-5.95zM1695.06 291.80h5.95v3.7h-5.95zM1709.41 291.80h5.95v3.7h-5.95zM1723.76 291.80h5.95v3.7h-5.95zM1738.11 291.80h5.95v3.7h-5.95zM1752.46 291.80h5.95v3.7h-5.95zM1766.81 291.80h5.95v3.7h-5.95zM1781.16 291.80h5.95v3.7h-5.95zM1796.78 291.80h5.95v3.7h-5.95zM1811.13 291.80h5.95v3.7h-5.95zM1825.48 291.80h5.95v3.7h-5.95zM1839.83 291.80h5.95v3.7h-5.95zM1854.18 291.80h5.95v3.7h-5.95zM1868.53 291.80h5.95v3.7h-5.95zM1882.88 291.80h5.95v3.7h-5.95z"/><path fill="#fde725" d="M271.10 292.65h5.75v2.85h-5.75zM285.45 292.65h5.75v2.85h-5.75zM299.80 292.65h5.75v2.85h-5.75zM314.15 292.65h5.75v2.85h-5.75zM328.50 292.65h5.75v2.85h-5.75zM342.85 292.65h5.75v2.85h-5.75zM357.20 292.65h5.75v2.85h-5.75zM372.82 292.65h5.75v2.85h-5.75zM387.17 292.65h5.75v2.85h-5.75zM401.52 292.65h5.75v2.85h-5.75zM415.87 292.65h5.75v2.85h-5.75zM430.22 292.65h5.75v2.85h-5.75zM444.57 292.65h5.75v2.85h-5.75zM458.92 292.65h5.75v2.85h-5.75zM474.54 292.65h5.75v2.85h-5.75zM488.89 292.65h5.75v2.85h-5.75zM503.24 292.65h5.75v2.85h-5.75zM517.59 292.65h5.75v2.85h-5.75zM531.94 292.65h5.75v2.85h-5.75zM546.29 292.65h5.75v2.85h-5.75zM560.64 292.65h5.75v2.85h-5.75zM576.26 292.65h5.75v2.85h-5.75zM590.61 292.65h5.75v2.85h-5.75zM604.96 292.65h5.75v2.85h-5.75zM619.31 292.65h5.75v2.85h-5.75zM633.66 292.65h5.75v2.85h-5.75zM648.01 292.65h5.75v2.85h-5.75zM662.36 292.65h5.75v2.85h-5.75zM677.98 292.65h5.75v2.85h-5.75zM692.33 292.65h5.75v2.85h-5.75zM706.68 292.65h5.75v2.85h-5.75zM721.02 292.65h5.75v2.85h-5.75zM735.38 292.65h5.75v2.85h-5.75zM749.73 292.65h5.75v2.85h-5.75zM764.08 292.65h5.75v2.85h-5.75zM779.69 292.65h5.75v2.85h-5.75zM794.04 292.65h5.75v2.85h-5.75zM808.39 292.65h5.75v2.85h-5.75zM822.74 292.65h5.75v2.85h-5.75zM837.09 292.65h5.75v2.85h-5.75zM851.44 292.65h5.75v2.85h-5.75zM865.79 292.65h5.75v2.85h-5.75zM881.41 292.65h5.75v2.85h-5.75zM895.76 292.65h5.75v2.85h-5.75zM910.11 292.65h5.75v2.85h-5.75zM924.46 292.65h5.75v2.85h-5.75zM938.81 292.65h5.75v2.85h-5.75zM953.16 292.65h5.75v2.85h-5.75zM967.51 292.65h5.75v2.85h-5.75zM983.13 292.65h5.75v2.85h-5.75zM997.48 292.65h5.75v2.85h-5.75zM1011.83 292.65h5.75v2.85h-5.75zM1026.18 292.65h5.75v2.85h-5.75zM1040.53 292.65h5.75v2.85h-5.75zM1054.88 292.65h5.75v2.85h-5.75zM1069.23 292.65h5.75v2.85h-5.75zM1084.85 292.65h5.75v2.85h-5.75zM1099.20 292.65h5.75v2.85h-5.75zM1113.55 292.65h5.75v2.85h-5.75zM1127.90 292.65h5.75v2.85h-5.75zM1142.25 292.65h5.75v2.85h-5.75zM1156.60 292.65h5.75v2.85h-5.75zM1170.95 292.65h5.75v2.85h-5.75zM1186.57 292.65h5.75v2.85h-5.75zM1200.92 292.65h5.75v2.85h-5.75zM1215.27 292.65h5.75v2.85h-5.75zM1229.62 292.65h5.75v2.85h-5.75zM1243.97 292.65h5.75v2.85h-5.75zM1258.32 292.65h5.75v2.85h-5.75zM1272.67 292.65h5.75v2.85h-5.75zM1288.29 292.65h5.75v2.85h-5.75zM1302.64 292.65h5.75v2.85h-5.75zM1316.99 292.65h5.75v2.85h-5.75zM1331.34 292.65h5.75v2.85h-5.75zM1345.69 292.65h5.75v2.85h-5.75zM1360.04 292.65h5.75v2.85h-5.75zM1374.39 292.65h5.75v2.85h-5.75zM1390.01 292.65h5.75v2.85h-5.75zM1404.36 292.65h5.75v2.85h-5.75zM1418.71 292.65h5.75v2.85h-5.75zM1433.06 292.65h5.75v2.85h-5.75zM1447.41 292.65h5.75v2.85h-5.75zM1461.76 292.65h5.75v2.85h-5.75zM1476.11 292.65h5.75v2.85h-5.75zM1491.73 292.65h5.75v2.85h-5.75zM1506.08 292.65h5.75v2.85h-5.75zM1520.43 292.65h5.75v2.85h-5.75zM1534.78 292.65h5.75v2.85h-5.75zM1549.13 292.65h5.75v2.85h-5.75zM1563.48 292.65h5.75v2.85h-5.75zM1577.83 292.65h5.75v2.85h-5.75zM1593.44 292.65h5.75v2.85h-5.75zM1607.79 292.65h5.75v2.85h-5.75zM1622.14 292.65h5.75v2.85h-5.75zM1636.49 292.65h5.75v2.85h-5.75zM1650.84 292.65h5.75v2.85h-5.75zM1665.19 292.65h5.75v2.85h-5.75zM1679.54 292.65h5.75v2.85h-5.75zM1695.16 292.65h5.75v2.85h-5.75zM1709.51 292.65h5.75v2.85h-5.75zM1723.86 292.65h5.75v2.85h-5.75zM1738.21 292.65h5.75v2.85h-5.75zM1752.56 292.65h5.75v2.85h-5.75zM1766.91 292.65h5.75v2.85h-5.75zM1781.26 292.65h5.75v2.85h-5.75zM1796.88 292.65h5.75v2.85h-5.75zM1811.23 292.65h5.75v2.85h-5.75zM1825.58 292.65h5.75v2.85h-5.75zM1839.93 292.65h5.75v2.85h-5.75zM1854.28 292.65h5.75v2.85h-5.75zM1868.63 292.65h5.75v2.85h-5.75zM1882.98 292.65h5.75v2.85h-5.75z"/>
</g>
<g>
<rect x="263" y="304.5" width="1627.5" height="95" fill="#471265"/>
<rect x="302.3" y="337" width="43.0" height="1" fill="#8a0a58" opacity="0.1"/>
<rect x="263.5" y="311" width="100.7" height="1" fill="#6a5ab0" opacity="0.06"/>
<rect x="263.5" y="319" width="100.7" height="1" fill="#8a0a58" opacity="0.06"/>
<rect x="263.5" y="329" width="100.7" height="1" fill="#6a5ab0" opacity="0.09"/>
<rect x="263.5" y="310" width="100.7" height="1" fill="#6a5ab0" opacity="0.06"/>
<rect x="263.5" y="380" width="100.7" height="1" fill="#8a0a58" opacity="0.06"/>
<rect x="364.2" y="340" width="101.7" height="1" fill="#6a5ab0" opacity="0.06"/>
<rect x="364.2" y="342" width="101.7" height="1" fill="#6a5ab0" opacity="0.06"/>
<rect x="391.8" y="337" width="54.7" height="1" fill="#8a0a58" opacity="0.06"/>
<rect x="364.2" y="384" width="101.7" height="1" fill="#3a0050" opacity="0.12"/>
<rect x="364.2" y="337" width="101.7" height="1" fill="#8a0a58" opacity="0.06"/>
<rect x="388.7" y="319" width="66.0" height="1" fill="#8a0a58" opacity="0.1"/>
<rect x="513.1" y="389" width="53.7" height="1" fill="#6a5ab0" opacity="0.09"/>
<rect x="465.9" y="347" width="101.7" height="1" fill="#3a0050" opacity="0.12"/>
<rect x="465.9" y="339" width="101.7" height="1" fill="#8a0a58" opacity="0.06"/>
<rect x="476.8" y="358" width="48.3" height="1" fill="#6a5ab0" opacity="0.06"/>
<rect x="478.3" y="350" width="70.3" height="2" fill="#6a5ab0" opacity="0.09"/>
<rect x="465.9" y="383" width="101.7" height="1" fill="#3a0050" opacity="0.12"/>
<rect x="567.7" y="363" width="101.7" height="1" fill="#8a0a58" opacity="0.1"/>
<rect x="567.7" y="345" width="101.7" height="1" fill="#6a5ab0" opacity="0.06"/>
<rect x="567.7" y="327" width="101.7" height="2" fill="#6a5ab0" opacity="0.09"/>
<rect x="567.7" y="343" width="101.7" height="1" fill="#8a0a58" opacity="0.1"/>
<rect x="567.7" y="348" width="101.7" height="1" fill="#6a5ab0" opacity="0.06"/>
<rect x="567.7" y="373" width="101.7" height="2" fill="#8a0a58" opacity="0.06"/>
<rect x="669.4" y="340" width="101.7" height="1" fill="#8a0a58" opacity="0.06"/>
<rect x="669.4" y="337" width="101.7" height="2" fill="#3a0050" opacity="0.12"/>
<rect x="669.4" y="309" width="101.7" height="1" fill="#8a0a58" opacity="0.1"/>
<rect x="669.4" y="332" width="101.7" height="1" fill="#8a0a58" opacity="0.1"/>
<rect x="669.4" y="382" width="101.7" height="1" fill="#8a0a58" opacity="0.1"/>
<rect x="713.7" y="391" width="30.8" height="1" fill="#8a0a58" opacity="0.06"/>
<rect x="788.6" y="375" width="68.5" height="1" fill="#8a0a58" opacity="0.06"/>
<rect x="796.2" y="319" width="72.1" height="1" fill="#6a5ab0" opacity="0.06"/>
<rect x="771.1" y="323" width="101.7" height="1" fill="#3a0050" opacity="0.12"/>
<rect x="779.2" y="333" width="89.0" height="1" fill="#8a0a58" opacity="0.06"/>
<rect x="771.1" y="364" width="101.7" height="2" fill="#8a0a58" opacity="0.06"/>
<rect x="771.1" y="328" width="101.7" height="1" fill="#6a5ab0" opacity="0.09"/>
<rect x="872.8" y="344" width="101.7" height="1" fill="#6a5ab0" opacity="0.09"/>
<rect x="922.3" y="360" width="38.6" height="2" fill="#6a5ab0" opacity="0.09"/>
<rect x="903.6" y="336" width="68.8" height="1" fill="#6a5ab0" opacity="0.06"/>
<rect x="872.8" y="331" width="101.7" height="1" fill="#6a5ab0" opacity="0.09"/>
<rect x="872.8" y="390" width="101.7" height="1" fill="#8a0a58" opacity="0.1"/>
<rect x="872.8" y="325" width="101.7" height="1" fill="#3a0050" opacity="0.12"/>
<rect x="985.9" y="341" width="65.9" height="1" fill="#8a0a58" opacity="0.1"/>
<rect x="974.5" y="307" width="101.7" height="1" fill="#3a0050" opacity="0.12"/>
<rect x="1003.7" y="315" width="51.0" height="1" fill="#3a0050" opacity="0.12"/>
<rect x="1021.4" y="323" width="28.5" height="2" fill="#8a0a58" opacity="0.06"/>
<rect x="974.5" y="318" width="101.7" height="1" fill="#8a0a58" opacity="0.1"/>
<rect x="974.5" y="380" width="101.7" height="1" fill="#6a5ab0" opacity="0.06"/>
<rect x="1076.2" y="389" width="101.7" height="1" fill="#3a0050" opacity="0.12"/>
<rect x="1076.2" y="357" width="101.7" height="2" fill="#3a0050" opacity="0.12"/>
<rect x="1076.2" y="369" width="101.7" height="1" fill="#8a0a58" opacity="0.06"/>
<rect x="1084.2" y="309" width="87.2" height="1" fill="#6a5ab0" opacity="0.06"/>
<rect x="1076.2" y="315" width="101.7" height="1" fill="#8a0a58" opacity="0.06"/>
<rect x="1091.7" y="350" width="39.9" height="2" fill="#3a0050" opacity="0.12"/>
<rect x="1220.2" y="310" width="49.4" height="2" fill="#3a0050" opacity="0.12"/>
<rect x="1183.2" y="346" width="37.8" height="2" fill="#8a0a58" opacity="0.06"/>
<rect x="1178.0" y="309" width="101.7" height="1" fill="#6a5ab0" opacity="0.09"/>
<rect x="1178.0" y="328" width="101.7" height="2" fill="#3a0050" opacity="0.12"/>
<rect x="1178.0" y="331" width="101.7" height="1" fill="#8a0a58" opacity="0.1"/>
<rect x="1178.0" y="307" width="101.7" height="1" fill="#8a0a58" opacity="0.06"/>
<rect x="1299.1" y="323" width="57.4" height="1" fill="#6a5ab0" opacity="0.09"/>
<rect x="1279.7" y="338" width="101.7" height="2" fill="#6a5ab0" opacity="0.06"/>
<rect x="1279.7" y="365" width="101.7" height="1" fill="#6a5ab0" opacity="0.06"/>
<rect x="1279.7" y="326" width="101.7" height="1" fill="#8a0a58" opacity="0.06"/>
<rect x="1285.3" y="356" width="67.3" height="1" fill="#8a0a58" opacity="0.06"/>
<rect x="1286.6" y="319" width="68.1" height="1" fill="#8a0a58" opacity="0.1"/>
<rect x="1410.9" y="309" width="39.0" height="1" fill="#8a0a58" opacity="0.1"/>
<rect x="1391.7" y="376" width="28.0" height="1" fill="#6a5ab0" opacity="0.06"/>
<rect x="1381.4" y="308" width="101.7" height="1" fill="#6a5ab0" opacity="0.09"/>
<rect x="1381.4" y="317" width="101.7" height="1" fill="#6a5ab0" opacity="0.09"/>
<rect x="1395.5" y="342" width="68.4" height="1" fill="#6a5ab0" opacity="0.09"/>
<rect x="1381.4" y="337" width="101.7" height="1" fill="#3a0050" opacity="0.12"/>
<rect x="1509.1" y="379" width="25.5" height="1" fill="#6a5ab0" opacity="0.06"/>
<rect x="1483.1" y="346" width="101.7" height="1" fill="#3a0050" opacity="0.12"/>
<rect x="1483.1" y="367" width="101.7" height="1" fill="#3a0050" opacity="0.12"/>
<rect x="1521.2" y="320" width="62.6" height="1" fill="#3a0050" opacity="0.12"/>
<rect x="1483.1" y="306" width="101.7" height="2" fill="#8a0a58" opacity="0.1"/>
<rect x="1483.1" y="374" width="101.7" height="1" fill="#6a5ab0" opacity="0.06"/>
<rect x="1584.8" y="388" width="101.7" height="1" fill="#3a0050" opacity="0.12"/>
<rect x="1584.8" y="330" width="101.7" height="1" fill="#8a0a58" opacity="0.06"/>
<rect x="1584.8" y="315" width="101.7" height="1" fill="#6a5ab0" opacity="0.06"/>
<rect x="1584.8" y="365" width="101.7" height="1" fill="#6a5ab0" opacity="0.09"/>
<rect x="1584.8" y="340" width="101.7" height="2" fill="#8a0a58" opacity="0.1"/>
<rect x="1584.8" y="361" width="101.7" height="1" fill="#8a0a58" opacity="0.06"/>
<rect x="1686.6" y="342" width="101.7" height="1" fill="#6a5ab0" opacity="0.06"/>
<rect x="1686.6" y="360" width="101.7" height="2" fill="#8a0a58" opacity="0.06"/>
<rect x="1686.6" y="370" width="101.7" height="1" fill="#6a5ab0" opacity="0.09"/>
<rect x="1686.6" y="350" width="101.7" height="2" fill="#3a0050" opacity="0.12"/>
<rect x="1686.6" y="320" width="101.7" height="2" fill="#6a5ab0" opacity="0.09"/>
<rect x="1686.6" y="316" width="101.7" height="2" fill="#8a0a58" opacity="0.06"/>
<rect x="1788.3" y="329" width="101.7" height="1" fill="#8a0a58" opacity="0.06"/>
<rect x="1836.1" y="368" width="28.8" height="1" fill="#8a0a58" opacity="0.06"/>
<rect x="1788.3" y="388" width="101.7" height="1" fill="#8a0a58" opacity="0.06"/>
<rect x="1788.3" y="314" width="101.7" height="2" fill="#8a0a58" opacity="0.06"/>
<rect x="1793.7" y="374" width="89.5" height="1" fill="#6a5ab0" opacity="0.06"/>
<rect x="1808.2" y="330" width="68.9" height="2" fill="#6a5ab0" opacity="0.06"/>
<rect x="263" y="395" width="1627.5" height="1" fill="#45085b"/>
<rect x="263" y="395.8" width="1627.5" height="3.7" fill="#440154"/>
<path fill="#26828e" d="M270.15 395.80h7.55v3.7h-7.55zM284.50 395.80h7.55v3.7h-7.55zM298.85 395.80h7.55v3.7h-7.55zM313.20 395.80h7.55v3.7h-7.55zM327.55 395.80h7.55v3.7h-7.55zM341.90 395.80h7.55v3.7h-7.55zM356.25 395.80h7.55v3.7h-7.55zM371.87 395.80h7.55v3.7h-7.55zM386.22 395.80h7.55v3.7h-7.55zM400.57 395.80h7.55v3.7h-7.55zM414.92 395.80h7.55v3.7h-7.55zM429.27 395.80h7.55v3.7h-7.55zM443.62 395.80h7.55v3.7h-7.55zM457.97 395.80h7.55v3.7h-7.55zM473.59 395.80h7.55v3.7h-7.55zM487.94 395.80h7.55v3.7h-7.55zM502.29 395.80h7.55v3.7h-7.55zM516.64 395.80h7.55v3.7h-7.55zM530.99 395.80h7.55v3.7h-7.55zM545.34 395.80h7.55v3.7h-7.55zM559.69 395.80h7.55v3.7h-7.55zM575.31 395.80h7.55v3.7h-7.55zM589.66 395.80h7.55v3.7h-7.55zM604.01 395.80h7.55v3.7h-7.55zM618.36 395.80h7.55v3.7h-7.55zM632.71 395.80h7.55v3.7h-7.55zM647.06 395.80h7.55v3.7h-7.55zM661.41 395.80h7.55v3.7h-7.55zM677.02 395.80h7.55v3.7h-7.55zM691.38 395.80h7.55v3.7h-7.55zM705.73 395.80h7.55v3.7h-7.55zM720.07 395.80h7.55v3.7h-7.55zM734.42 395.80h7.55v3.7h-7.55zM748.77 395.80h7.55v3.7h-7.55zM763.12 395.80h7.55v3.7h-7.55zM778.74 395.80h7.55v3.7h-7.55zM793.09 395.80h7.55v3.7h-7.55zM807.44 395.80h7.55v3.7h-7.55zM821.79 395.80h7.55v3.7h-7.55zM836.14 395.80h7.55v3.7h-7.55zM850.49 395.80h7.55v3.7h-7.55zM864.84 395.80h7.55v3.7h-7.55zM880.46 395.80h7.55v3.7h-7.55zM894.81 395.80h7.55v3.7h-7.55zM909.16 395.80h7.55v3.7h-7.55zM923.51 395.80h7.55v3.7h-7.55zM937.86 395.80h7.55v3.7h-7.55zM952.21 395.80h7.55v3.7h-7.55zM966.56 395.80h7.55v3.7h-7.55zM982.18 395.80h7.55v3.7h-7.55zM996.53 395.80h7.55v3.7h-7.55zM1010.88 395.80h7.55v3.7h-7.55zM1025.23 395.80h7.55v3.7h-7.55zM1039.58 395.80h7.55v3.7h-7.55zM1053.93 395.80h7.55v3.7h-7.55zM1068.28 395.80h7.55v3.7h-7.55zM1083.90 395.80h7.55v3.7h-7.55zM1098.25 395.80h7.55v3.7h-7.55zM1112.60 395.80h7.55v3.7h-7.55zM1126.95 395.80h7.55v3.7h-7.55zM1141.30 395.80h7.55v3.7h-7.55zM1155.65 395.80h7.55v3.7h-7.55zM1170.00 395.80h7.55v3.7h-7.55zM1185.62 395.80h7.55v3.7h-7.55zM1199.97 395.80h7.55v3.7h-7.55zM1214.32 395.80h7.55v3.7h-7.55zM1228.67 395.80h7.55v3.7h-7.55zM1243.02 395.80h7.55v3.7h-7.55zM1257.37 395.80h7.55v3.7h-7.55zM1271.72 395.80h7.55v3.7h-7.55zM1287.34 395.80h7.55v3.7h-7.55zM1301.69 395.80h7.55v3.7h-7.55zM1316.04 395.80h7.55v3.7h-7.55zM1330.39 395.80h7.55v3.7h-7.55zM1344.74 395.80h7.55v3.7h-7.55zM1359.09 395.80h7.55v3.7h-7.55zM1373.44 395.80h7.55v3.7h-7.55zM1389.06 395.80h7.55v3.7h-7.55zM1403.41 395.80h7.55v3.7h-7.55zM1417.76 395.80h7.55v3.7h-7.55zM1432.11 395.80h7.55v3.7h-7.55zM1446.46 395.80h7.55v3.7h-7.55zM1460.81 395.80h7.55v3.7h-7.55zM1475.16 395.80h7.55v3.7h-7.55zM1490.78 395.80h7.55v3.7h-7.55zM1505.12 395.80h7.55v3.7h-7.55zM1519.48 395.80h7.55v3.7h-7.55zM1533.83 395.80h7.55v3.7h-7.55zM1548.18 395.80h7.55v3.7h-7.55zM1562.53 395.80h7.55v3.7h-7.55zM1576.88 395.80h7.55v3.7h-7.55zM1592.49 395.80h7.55v3.7h-7.55zM1606.84 395.80h7.55v3.7h-7.55zM1621.19 395.80h7.55v3.7h-7.55zM1635.54 395.80h7.55v3.7h-7.55zM1649.89 395.80h7.55v3.7h-7.55zM1664.24 395.80h7.55v3.7h-7.55zM1678.59 395.80h7.55v3.7h-7.55zM1694.21 395.80h7.55v3.7h-7.55zM1708.56 395.80h7.55v3.7h-7.55zM1722.91 395.80h7.55v3.7h-7.55zM1737.26 395.80h7.55v3.7h-7.55zM1751.61 395.80h7.55v3.7h-7.55zM1765.96 395.80h7.55v3.7h-7.55zM1780.31 395.80h7.55v3.7h-7.55zM1795.93 395.80h7.55v3.7h-7.55zM1810.28 395.80h7.55v3.7h-7.55zM1824.63 395.80h7.55v3.7h-7.55zM1838.98 395.80h7.55v3.7h-7.55zM1853.33 395.80h7.55v3.7h-7.55zM1867.68 395.80h7.55v3.7h-7.55zM1882.03 395.80h7.55v3.7h-7.55z"/><path fill="#a5db36" d="M271.00 395.80h5.95v3.7h-5.95zM285.35 395.80h5.95v3.7h-5.95zM299.70 395.80h5.95v3.7h-5.95zM314.05 395.80h5.95v3.7h-5.95zM328.40 395.80h5.95v3.7h-5.95zM342.75 395.80h5.95v3.7h-5.95zM357.10 395.80h5.95v3.7h-5.95zM372.72 395.80h5.95v3.7h-5.95zM387.07 395.80h5.95v3.7h-5.95zM401.42 395.80h5.95v3.7h-5.95zM415.77 395.80h5.95v3.7h-5.95zM430.12 395.80h5.95v3.7h-5.95zM444.47 395.80h5.95v3.7h-5.95zM458.82 395.80h5.95v3.7h-5.95zM474.44 395.80h5.95v3.7h-5.95zM488.79 395.80h5.95v3.7h-5.95zM503.14 395.80h5.95v3.7h-5.95zM517.49 395.80h5.95v3.7h-5.95zM531.84 395.80h5.95v3.7h-5.95zM546.19 395.80h5.95v3.7h-5.95zM560.54 395.80h5.95v3.7h-5.95zM576.16 395.80h5.95v3.7h-5.95zM590.51 395.80h5.95v3.7h-5.95zM604.86 395.80h5.95v3.7h-5.95zM619.21 395.80h5.95v3.7h-5.95zM633.56 395.80h5.95v3.7h-5.95zM647.91 395.80h5.95v3.7h-5.95zM662.26 395.80h5.95v3.7h-5.95zM677.88 395.80h5.95v3.7h-5.95zM692.23 395.80h5.95v3.7h-5.95zM706.58 395.80h5.95v3.7h-5.95zM720.92 395.80h5.95v3.7h-5.95zM735.27 395.80h5.95v3.7h-5.95zM749.62 395.80h5.95v3.7h-5.95zM763.98 395.80h5.95v3.7h-5.95zM779.59 395.80h5.95v3.7h-5.95zM793.94 395.80h5.95v3.7h-5.95zM808.29 395.80h5.95v3.7h-5.95zM822.64 395.80h5.95v3.7h-5.95zM836.99 395.80h5.95v3.7h-5.95zM851.34 395.80h5.95v3.7h-5.95zM865.69 395.80h5.95v3.7h-5.95zM881.31 395.80h5.95v3.7h-5.95zM895.66 395.80h5.95v3.7h-5.95zM910.01 395.80h5.95v3.7h-5.95zM924.36 395.80h5.95v3.7h-5.95zM938.71 395.80h5.95v3.7h-5.95zM953.06 395.80h5.95v3.7h-5.95zM967.41 395.80h5.95v3.7h-5.95zM983.03 395.80h5.95v3.7h-5.95zM997.38 395.80h5.95v3.7h-5.95zM1011.73 395.80h5.95v3.7h-5.95zM1026.08 395.80h5.95v3.7h-5.95zM1040.43 395.80h5.95v3.7h-5.95zM1054.78 395.80h5.95v3.7h-5.95zM1069.13 395.80h5.95v3.7h-5.95zM1084.75 395.80h5.95v3.7h-5.95zM1099.10 395.80h5.95v3.7h-5.95zM1113.45 395.80h5.95v3.7h-5.95zM1127.80 395.80h5.95v3.7h-5.95zM1142.15 395.80h5.95v3.7h-5.95zM1156.50 395.80h5.95v3.7h-5.95zM1170.85 395.80h5.95v3.7h-5.95zM1186.47 395.80h5.95v3.7h-5.95zM1200.82 395.80h5.95v3.7h-5.95zM1215.17 395.80h5.95v3.7h-5.95zM1229.52 395.80h5.95v3.7h-5.95zM1243.87 395.80h5.95v3.7h-5.95zM1258.22 395.80h5.95v3.7h-5.95zM1272.57 395.80h5.95v3.7h-5.95zM1288.19 395.80h5.95v3.7h-5.95zM1302.54 395.80h5.95v3.7h-5.95zM1316.89 395.80h5.95v3.7h-5.95zM1331.24 395.80h5.95v3.7h-5.95zM1345.59 395.80h5.95v3.7h-5.95zM1359.94 395.80h5.95v3.7h-5.95zM1374.29 395.80h5.95v3.7h-5.95zM1389.91 395.80h5.95v3.7h-5.95zM1404.26 395.80h5.95v3.7h-5.95zM1418.61 395.80h5.95v3.7h-5.95zM1432.96 395.80h5.95v3.7h-5.95zM1447.31 395.80h5.95v3.7h-5.95zM1461.66 395.80h5.95v3.7h-5.95zM1476.01 395.80h5.95v3.7h-5.95zM1491.62 395.80h5.95v3.7h-5.95zM1505.97 395.80h5.95v3.7h-5.95zM1520.33 395.80h5.95v3.7h-5.95zM1534.67 395.80h5.95v3.7h-5.95zM1549.03 395.80h5.95v3.7h-5.95zM1563.38 395.80h5.95v3.7h-5.95zM1577.72 395.80h5.95v3.7h-5.95zM1593.34 395.80h5.95v3.7h-5.95zM1607.69 395.80h5.95v3.7h-5.95zM1622.04 395.80h5.95v3.7h-5.95zM1636.39 395.80h5.95v3.7h-5.95zM1650.74 395.80h5.95v3.7h-5.95zM1665.09 395.80h5.95v3.7h-5.95zM1679.44 395.80h5.95v3.7h-5.95zM1695.06 395.80h5.95v3.7h-5.95zM1709.41 395.80h5.95v3.7h-5.95zM1723.76 395.80h5.95v3.7h-5.95zM1738.11 395.80h5.95v3.7h-5.95zM1752.46 395.80h5.95v3.7h-5.95zM1766.81 395.80h5.95v3.7h-5.95zM1781.16 395.80h5.95v3.7h-5.95zM1796.78 395.80h5.95v3.7h-5.95zM1811.13 395.80h5.95v3.7h-5.95zM1825.48 395.80h5.95v3.7h-5.95zM1839.83 395.80h5.95v3.7h-5.95zM1854.18 395.80h5.95v3.7h-5.95zM1868.53 395.80h5.95v3.7h-5.95zM1882.88 395.80h5.95v3.7h-5.95z"/><path fill="#fde725" d="M271.10 396.65h5.75v2.85h-5.75zM285.45 396.65h5.75v2.85h-5.75zM299.80 396.65h5.75v2.85h-5.75zM314.15 396.65h5.75v2.85h-5.75zM328.50 396.65h5.75v2.85h-5.75zM342.85 396.65h5.75v2.85h-5.75zM357.20 396.65h5.75v2.85h-5.75zM372.82 396.65h5.75v2.85h-5.75zM387.17 396.65h5.75v2.85h-5.75zM401.52 396.65h5.75v2.85h-5.75zM415.87 396.65h5.75v2.85h-5.75zM430.22 396.65h5.75v2.85h-5.75zM444.57 396.65h5.75v2.85h-5.75zM458.92 396.65h5.75v2.85h-5.75zM474.54 396.65h5.75v2.85h-5.75zM488.89 396.65h5.75v2.85h-5.75zM503.24 396.65h5.75v2.85h-5.75zM517.59 396.65h5.75v2.85h-5.75zM531.94 396.65h5.75v2.85h-5.75zM546.29 396.65h5.75v2.85h-5.75zM560.64 396.65h5.75v2.85h-5.75zM576.26 396.65h5.75v2.85h-5.75zM590.61 396.65h5.75v2.85h-5.75zM604.96 396.65h5.75v2.85h-5.75zM619.31 396.65h5.75v2.85h-5.75zM633.66 396.65h5.75v2.85h-5.75zM648.01 396.65h5.75v2.85h-5.75zM662.36 396.65h5.75v2.85h-5.75zM677.98 396.65h5.75v2.85h-5.75zM692.33 396.65h5.75v2.85h-5.75zM706.68 396.65h5.75v2.85h-5.75zM721.02 396.65h5.75v2.85h-5.75zM735.38 396.65h5.75v2.85h-5.75zM749.73 396.65h5.75v2.85h-5.75zM764.08 396.65h5.75v2.85h-5.75zM779.69 396.65h5.75v2.85h-5.75zM794.04 396.65h5.75v2.85h-5.75zM808.39 396.65h5.75v2.85h-5.75zM822.74 396.65h5.75v2.85h-5.75zM837.09 396.65h5.75v2.85h-5.75zM851.44 396.65h5.75v2.85h-5.75zM865.79 396.65h5.75v2.85h-5.75zM881.41 396.65h5.75v2.85h-5.75zM895.76 396.65h5.75v2.85h-5.75zM910.11 396.65h5.75v2.85h-5.75zM924.46 396.65h5.75v2.85h-5.75zM938.81 396.65h5.75v2.85h-5.75zM953.16 396.65h5.75v2.85h-5.75zM967.51 396.65h5.75v2.85h-5.75zM983.13 396.65h5.75v2.85h-5.75zM997.48 396.65h5.75v2.85h-5.75zM1011.83 396.65h5.75v2.85h-5.75zM1026.18 396.65h5.75v2.85h-5.75zM1040.53 396.65h5.75v2.85h-5.75zM1054.88 396.65h5.75v2.85h-5.75zM1069.23 396.65h5.75v2.85h-5.75zM1084.85 396.65h5.75v2.85h-5.75zM1099.20 396.65h5.75v2.85h-5.75zM1113.55 396.65h5.75v2.85h-5.75zM1127.90 396.65h5.75v2.85h-5.75zM1142.25 396.65h5.75v2.85h-5.75zM1156.60 396.65h5.75v2.85h-5.75zM1170.95 396.65h5.75v2.85h-5.75zM1186.57 396.65h5.75v2.85h-5.75zM1200.92 396.65h5.75v2.85h-5.75zM1215.27 396.65h5.75v2.85h-5.75zM1229.62 396.65h5.75v2.85h-5.75zM1243.97 396.65h5.75v2.85h-5.75zM1258.32 396.65h5.75v2.85h-5.75zM1272.67 396.65h5.75v2.85h-5.75zM1288.29 396.65h5.75v2.85h-5.75zM1302.64 396.65h5.75v2.85h-5.75zM1316.99 396.65h5.75v2.85h-5.75zM1331.34 396.65h5.75v2.85h-5.75zM1345.69 396.65h5.75v2.85h-5.75zM1360.04 396.65h5.75v2.85h-5.75zM1374.39 396.65h5.75v2.85h-5.75zM1390.01 396.65h5.75v2.85h-5.75zM1404.36 396.65h5.75v2.85h-5.75zM1418.71 396.65h5.75v2.85h-5.75zM1433.06 396.65h5.75v2.85h-5.75zM1447.41 396.65h5.75v2.85h-5.75zM1461.76 396.65h5.75v2.85h-5.75zM1476.11 396.65h5.75v2.85h-5.75zM1491.73 396.65h5.75v2.85h-5.75zM1506.08 396.65h5.75v2.85h-5.75zM1520.43 396.65h5.75v2.85h-5.75zM1534.78 396.65h5.75v2.85h-5.75zM1549.13 396.65h5.75v2.85h-5.75zM1563.48 396.65h5.75v2.85h-5.75zM1577.83 396.65h5.75v2.85h-5.75zM1593.44 396.65h5.75v2.85h-5.75zM1607.79 396.65h5.75v2.85h-5.75zM1622.14 396.65h5.75v2.85h-5.75zM1636.49 396.65h5.75v2.85h-5.75zM1650.84 396.65h5.75v2.85h-5.75zM1665.19 396.65h5.75v2.85h-5.75zM1679.54 396.65h5.75v2.85h-5.75zM1695.16 396.65h5.75v2.85h-5.75zM1709.51 396.65h5.75v2.85h-5.75zM1723.86 396.65h5.75v2.85h-5.75zM1738.21 396.65h5.75v2.85h-5.75zM1752.56 396.65h5.75v2.85h-5.75zM1766.91 396.65h5.75v2.85h-5.75zM1781.26 396.65h5.75v2.85h-5.75zM1796.88 396.65h5.75v2.85h-5.75zM1811.23 396.65h5.75v2.85h-5.75zM1825.58 396.65h5.75v2.85h-5.75zM1839.93 396.65h5.75v2.85h-5.75zM1854.28 396.65h5.75v2.85h-5.75zM1868.63 396.65h5.75v2.85h-5.75zM1882.98 396.65h5.75v2.85h-5.75z"/>
</g>
<g>
<rect x="263" y="409.5" width="1627.5" height="95" fill="#471265"/>
<rect x="275.4" y="470" width="70.8" height="1" fill="#6a5ab0" opacity="0.06"/>
<rect x="263.5" y="411" width="100.7" height="1" fill="#6a5ab0" opacity="0.06"/>
<rect x="263.5" y="461" width="100.7" height="2" fill="#8a0a58" opacity="0.06"/>
<rect x="263.5" y="467" width="100.7" height="1" fill="#8a0a58" opacity="0.06"/>
<rect x="263.5" y="450" width="100.7" height="1" fill="#6a5ab0" opacity="0.09"/>
<rect x="263.5" y="419" width="100.7" height="2" fill="#8a0a58" opacity="0.06"/>
<rect x="364.2" y="472" width="101.7" height="1" fill="#6a5ab0" opacity="0.09"/>
<rect x="364.2" y="452" width="101.7" height="1" fill="#3a0050" opacity="0.12"/>
<rect x="364.2" y="455" width="101.7" height="1" fill="#6a5ab0" opacity="0.09"/>
<rect x="391.4" y="444" width="28.8" height="2" fill="#8a0a58" opacity="0.1"/>
<rect x="364.2" y="478" width="101.7" height="1" fill="#3a0050" opacity="0.12"/>
<rect x="388.0" y="483" width="20.9" height="2" fill="#3a0050" opacity="0.12"/>
<rect x="465.9" y="479" width="101.7" height="1" fill="#3a0050" opacity="0.12"/>
<rect x="465.9" y="474" width="101.7" height="2" fill="#8a0a58" opacity="0.06"/>
<rect x="465.9" y="426" width="101.7" height="1" fill="#3a0050" opacity="0.12"/>
<rect x="465.9" y="415" width="101.7" height="1" fill="#6a5ab0" opacity="0.06"/>
<rect x="465.9" y="412" width="101.7" height="2" fill="#6a5ab0" opacity="0.06"/>
<rect x="503.0" y="469" width="62.0" height="1" fill="#8a0a58" opacity="0.1"/>
<rect x="567.7" y="456" width="101.7" height="1" fill="#6a5ab0" opacity="0.06"/>
<rect x="567.7" y="425" width="101.7" height="1" fill="#8a0a58" opacity="0.06"/>
<rect x="567.7" y="459" width="101.7" height="1" fill="#8a0a58" opacity="0.06"/>
<rect x="567.7" y="465" width="101.7" height="2" fill="#6a5ab0" opacity="0.06"/>
<rect x="567.7" y="476" width="101.7" height="1" fill="#6a5ab0" opacity="0.06"/>
<rect x="567.7" y="484" width="101.7" height="1" fill="#6a5ab0" opacity="0.06"/>
<rect x="705.5" y="495" width="32.8" height="1" fill="#6a5ab0" opacity="0.06"/>
<rect x="669.4" y="432" width="101.7" height="1" fill="#6a5ab0" opacity="0.09"/>
<rect x="684.5" y="447" width="45.6" height="1" fill="#6a5ab0" opacity="0.09"/>
<rect x="669.4" y="418" width="101.7" height="1" fill="#8a0a58" opacity="0.06"/>
<rect x="673.0" y="440" width="42.9" height="1" fill="#8a0a58" opacity="0.1"/>
<rect x="692.0" y="463" width="66.4" height="1" fill="#8a0a58" opacity="0.06"/>
<rect x="815.7" y="428" width="42.6" height="2" fill="#3a0050" opacity="0.12"/>
<rect x="771.1" y="478" width="101.7" height="1" fill="#8a0a58" opacity="0.06"/>
<rect x="771.1" y="429" width="101.7" height="1" fill="#6a5ab0" opacity="0.06"/>
<rect x="771.1" y="421" width="101.7" height="1" fill="#6a5ab0" opacity="0.09"/>
<rect x="771.1" y="482" width="101.7" height="2" fill="#6a5ab0" opacity="0.06"/>
<rect x="779.3" y="452" width="64.1" height="1" fill="#6a5ab0" opacity="0.06"/>
<rect x="872.8" y="474" width="101.7" height="1" fill="#6a5ab0" opacity="0.09"/>
<rect x="872.8" y="459" width="101.7" height="1" fill="#6a5ab0" opacity="0.06"/>
<rect x="872.8" y="447" width="101.7" height="1" fill="#8a0a58" opacity="0.06"/>
<rect x="872.8" y="465" width="101.7" height="1" fill="#8a0a58" opacity="0.1"/>
<rect x="872.8" y="469" width="101.7" height="1" fill="#8a0a58" opacity="0.1"/>
<rect x="893.6" y="452" width="27.7" height="1" fill="#8a0a58" opacity="0.1"/>
<rect x="974.5" y="419" width="101.7" height="1" fill="#6a5ab0" opacity="0.09"/>
<rect x="974.5" y="456" width="101.7" height="1" fill="#6a5ab0" opacity="0.09"/>
<rect x="1015.9" y="447" width="36.3" height="1" fill="#6a5ab0" opacity="0.09"/>
<rect x="974.5" y="454" width="101.7" height="1" fill="#3a0050" opacity="0.12"/>
<rect x="974.5" y="428" width="101.7" height="2" fill="#8a0a58" opacity="0.1"/>
<rect x="974.5" y="438" width="101.7" height="1" fill="#8a0a58" opacity="0.06"/>
<rect x="1076.2" y="465" width="101.7" height="1" fill="#6a5ab0" opacity="0.06"/>
<rect x="1076.2" y="487" width="101.7" height="1" fill="#6a5ab0" opacity="0.06"/>
<rect x="1076.2" y="411" width="101.7" height="1" fill="#6a5ab0" opacity="0.06"/>
<rect x="1109.9" y="467" width="53.1" height="2" fill="#3a0050" opacity="0.12"/>
<rect x="1107.9" y="486" width="51.3" height="1" fill="#8a0a58" opacity="0.06"/>
<rect x="1076.2" y="425" width="101.7" height="1" fill="#8a0a58" opacity="0.1"/>
<rect x="1178.0" y="419" width="101.7" height="1" fill="#6a5ab0" opacity="0.09"/>
<rect x="1178.0" y="422" width="101.7" height="1" fill="#3a0050" opacity="0.12"/>
<rect x="1179.0" y="485" width="65.7" height="1" fill="#6a5ab0" opacity="0.06"/>
<rect x="1178.0" y="460" width="101.7" height="1" fill="#6a5ab0" opacity="0.06"/>
<rect x="1178.0" y="414" width="101.7" height="1" fill="#6a5ab0" opacity="0.06"/>
<rect x="1197.3" y="490" width="56.9" height="2" fill="#8a0a58" opacity="0.1"/>
<rect x="1279.7" y="491" width="101.7" height="1" fill="#6a5ab0" opacity="0.06"/>
<rect x="1287.3" y="458" width="21.2" height="1" fill="#6a5ab0" opacity="0.06"/>
<rect x="1285.8" y="411" width="55.7" height="1" fill="#8a0a58" opacity="0.1"/>
<rect x="1279.7" y="434" width="101.7" height="1" fill="#6a5ab0" opacity="0.06"/>
<rect x="1279.7" y="427" width="101.7" height="1" fill="#6a5ab0" opacity="0.09"/>
<rect x="1307.6" y="472" width="46.8" height="1" fill="#8a0a58" opacity="0.1"/>
<rect x="1381.4" y="468" width="101.7" height="1" fill="#8a0a58" opacity="0.1"/>
<rect x="1397.0" y="411" width="68.3" height="1" fill="#3a0050" opacity="0.12"/>
<rect x="1399.8" y="425" width="56.4" height="2" fill="#3a0050" opacity="0.12"/>
<rect x="1381.4" y="448" width="101.7" height="1" fill="#8a0a58" opacity="0.06"/>
<rect x="1381.4" y="421" width="101.7" height="1" fill="#6a5ab0" opacity="0.06"/>
<rect x="1381.4" y="477" width="101.7" height="2" fill="#6a5ab0" opacity="0.09"/>
<rect x="1531.8" y="459" width="43.2" height="1" fill="#6a5ab0" opacity="0.09"/>
<rect x="1483.1" y="482" width="101.7" height="1" fill="#3a0050" opacity="0.12"/>
<rect x="1483.1" y="412" width="101.7" height="1" fill="#3a0050" opacity="0.12"/>
<rect x="1483.1" y="461" width="101.7" height="1" fill="#6a5ab0" opacity="0.06"/>
<rect x="1483.2" y="443" width="41.5" height="1" fill="#6a5ab0" opacity="0.06"/>
<rect x="1483.1" y="447" width="101.7" height="1" fill="#6a5ab0" opacity="0.09"/>
<rect x="1584.8" y="480" width="101.7" height="1" fill="#6a5ab0" opacity="0.09"/>
<rect x="1584.8" y="479" width="101.7" height="2" fill="#6a5ab0" opacity="0.09"/>
<rect x="1622.4" y="457" width="61.2" height="2" fill="#6a5ab0" opacity="0.06"/>
<rect x="1584.8" y="431" width="101.7" height="1" fill="#6a5ab0" opacity="0.06"/>
<rect x="1584.8" y="428" width="101.7" height="1" fill="#3a0050" opacity="0.12"/>
<rect x="1625.2" y="479" width="52.0" height="2" fill="#3a0050" opacity="0.12"/>
<rect x="1686.6" y="431" width="101.7" height="1" fill="#3a0050" opacity="0.12"/>
<rect x="1691.2" y="454" width="82.1" height="1" fill="#8a0a58" opacity="0.06"/>
<rect x="1686.6" y="435" width="101.7" height="1" fill="#6a5ab0" opacity="0.06"/>
<rect x="1686.6" y="484" width="101.7" height="1" fill="#8a0a58" opacity="0.1"/>
<rect x="1686.6" y="453" width="101.7" height="1" fill="#6a5ab0" opacity="0.09"/>
<rect x="1686.6" y="478" width="101.7" height="1" fill="#6a5ab0" opacity="0.09"/>
<rect x="1837.8" y="440" width="47.9" height="1" fill="#8a0a58" opacity="0.1"/>
<rect x="1788.3" y="452" width="101.7" height="1" fill="#6a5ab0" opacity="0.09"/>
<rect x="1788.3" y="435" width="101.7" height="1" fill="#6a5ab0" opacity="0.06"/>
<rect x="1788.3" y="481" width="101.7" height="1" fill="#6a5ab0" opacity="0.09"/>
<rect x="1790.8" y="440" width="64.1" height="1" fill="#6a5ab0" opacity="0.06"/>
<rect x="1788.3" y="485" width="101.7" height="2" fill="#6a5ab0" opacity="0.06"/>
<rect x="263" y="500" width="1627.5" height="1" fill="#45085b"/>
<rect x="263" y="500.8" width="1627.5" height="3.7" fill="#440154"/>
<path fill="#26828e" d="M270.15 500.80h7.55v3.7h-7.55zM284.50 500.80h7.55v3.7h-7.55zM298.85 500.80h7.55v3.7h-7.55zM313.20 500.80h7.55v3.7h-7.55zM327.55 500.80h7.55v3.7h-7.55zM341.90 500.80h7.55v3.7h-7.55zM356.25 500.80h7.55v3.7h-7.55zM371.87 500.80h7.55v3.7h-7.55zM386.22 500.80h7.55v3.7h-7.55zM400.57 500.80h7.55v3.7h-7.55zM414.92 500.80h7.55v3.7h-7.55zM429.27 500.80h7.55v3.7h-7.55zM443.62 500.80h7.55v3.7h-7.55zM457.97 500.80h7.55v3.7h-7.55zM473.59 500.80h7.55v3.7h-7.55zM487.94 500.80h7.55v3.7h-7.55zM502.29 500.80h7.55v3.7h-7.55zM516.64 500.80h7.55v3.7h-7.55zM530.99 500.80h7.55v3.7h-7.55zM545.34 500.80h7.55v3.7h-7.55zM559.69 500.80h7.55v3.7h-7.55zM575.31 500.80h7.55v3.7h-7.55zM589.66 500.80h7.55v3.7h-7.55zM604.01 500.80h7.55v3.7h-7.55zM618.36 500.80h7.55v3.7h-7.55zM632.71 500.80h7.55v3.7h-7.55zM647.06 500.80h7.55v3.7h-7.55zM661.41 500.80h7.55v3.7h-7.55zM677.02 500.80h7.55v3.7h-7.55zM691.38 500.80h7.55v3.7h-7.55zM705.73 500.80h7.55v3.7h-7.55zM720.07 500.80h7.55v3.7h-7.55zM734.42 500.80h7.55v3.7h-7.55zM748.77 500.80h7.55v3.7h-7.55zM763.12 500.80h7.55v3.7h-7.55zM778.74 500.80h7.55v3.7h-7.55zM793.09 500.80h7.55v3.7h-7.55zM807.44 500.80h7.55v3.7h-7.55zM821.79 500.80h7.55v3.7h-7.55zM836.14 500.80h7.55v3.7h-7.55zM850.49 500.80h7.55v3.7h-7.55zM864.84 500.80h7.55v3.7h-7.55zM880.46 500.80h7.55v3.7h-7.55zM894.81 500.80h7.55v3.7h-7.55zM909.16 500.80h7.55v3.7h-7.55zM923.51 500.80h7.55v3.7h-7.55zM937.86 500.80h7.55v3.7h-7.55zM952.21 500.80h7.55v3.7h-7.55zM966.56 500.80h7.55v3.7h-7.55zM982.18 500.80h7.55v3.7h-7.55zM996.53 500.80h7.55v3.7h-7.55zM1010.88 500.80h7.55v3.7h-7.55zM1025.23 500.80h7.55v3.7h-7.55zM1039.58 500.80h7.55v3.7h-7.55zM1053.93 500.80h7.55v3.7h-7.55zM1068.28 500.80h7.55v3.7h-7.55zM1083.90 500.80h7.55v3.7h-7.55zM1098.25 500.80h7.55v3.7h-7.55zM1112.60 500.80h7.55v3.7h-7.55zM1126.95 500.80h7.55v3.7h-7.55zM1141.30 500.80h7.55v3.7h-7.55zM1155.65 500.80h7.55v3.7h-7.55zM1170.00 500.80h7.55v3.7h-7.55zM1185.62 500.80h7.55v3.7h-7.55zM1199.97 500.80h7.55v3.7h-7.55zM1214.32 500.80h7.55v3.7h-7.55zM1228.67 500.80h7.55v3.7h-7.55zM1243.02 500.80h7.55v3.7h-7.55zM1257.37 500.80h7.55v3.7h-7.55zM1271.72 500.80h7.55v3.7h-7.55zM1287.34 500.80h7.55v3.7h-7.55zM1301.69 500.80h7.55v3.7h-7.55zM1316.04 500.80h7.55v3.7h-7.55zM1330.39 500.80h7.55v3.7h-7.55zM1344.74 500.80h7.55v3.7h-7.55zM1359.09 500.80h7.55v3.7h-7.55zM1373.44 500.80h7.55v3.7h-7.55zM1389.06 500.80h7.55v3.7h-7.55zM1403.41 500.80h7.55v3.7h-7.55zM1417.76 500.80h7.55v3.7h-7.55zM1432.11 500.80h7.55v3.7h-7.55zM1446.46 500.80h7.55v3.7h-7.55zM1460.81 500.80h7.55v3.7h-7.55zM1475.16 500.80h7.55v3.7h-7.55zM1490.78 500.80h7.55v3.7h-7.55zM1505.12 500.80h7.55v3.7h-7.55zM1519.48 500.80h7.55v3.7h-7.55zM1533.83 500.80h7.55v3.7h-7.55zM1548.18 500.80h7.55v3.7h-7.55zM1562.53 500.80h7.55v3.7h-7.55zM1576.88 500.80h7.55v3.7h-7.55zM1592.49 500.80h7.55v3.7h-7.55zM1606.84 500.80h7.55v3.7h-7.55zM1621.19 500.80h7.55v3.7h-7.55zM1635.54 500.80h7.55v3.7h-7.55zM1649.89 500.80h7.55v3.7h-7.55zM1664.24 500.80h7.55v3.7h-7.55zM1678.59 500.80h7.55v3.7h-7.55zM1694.21 500.80h7.55v3.7h-7.55zM1708.56 500.80h7.55v3.7h-7.55zM1722.91 500.80h7.55v3.7h-7.55zM1737.26 500.80h7.55v3.7h-7.55zM1751.61 500.80h7.55v3.7h-7.55zM1765.96 500.80h7.55v3.7h-7.55zM1780.31 500.80h7.55v3.7h-7.55zM1795.93 500.80h7.55v3.7h-7.55zM1810.28 500.80h7.55v3.7h-7.55zM1824.63 500.80h7.55v3.7h-7.55zM1838.98 500.80h7.55v3.7h-7.55zM1853.33 500.80h7.55v3.7h-7.55zM1867.68 500.80h7.55v3.7h-7.55zM1882.03 500.80h7.55v3.7h-7.55z"/><path fill="#a5db36" d="M271.00 500.80h5.95v3.7h-5.95zM285.35 500.80h5.95v3.7h-5.95zM299.70 500.80h5.95v3.7h-5.95zM314.05 500.80h5.95v3.7h-5.95zM328.40 500.80h5.95v3.7h-5.95zM342.75 500.80h5.95v3.7h-5.95zM357.10 500.80h5.95v3.7h-5.95zM372.72 500.80h5.95v3.7h-5.95zM387.07 500.80h5.95v3.7h-5.95zM401.42 500.80h5.95v3.7h-5.95zM415.77 500.80h5.95v3.7h-5.95zM430.12 500.80h5.95v3.7h-5.95zM444.47 500.80h5.95v3.7h-5.95zM458.82 500.80h5.95v3.7h-5.95zM474.44 500.80h5.95v3.7h-5.95zM488.79 500.80h5.95v3.7h-5.95zM503.14 500.80h5.95v3.7h-5.95zM517.49 500.80h5.95v3.7h-5.95zM531.84 500.80h5.95v3.7h-5.95zM546.19 500.80h5.95v3.7h-5.95zM560.54 500.80h5.95v3.7h-5.95zM576.16 500.80h5.95v3.7h-5.95zM590.51 500.80h5.95v3.7h-5.95zM604.86 500.80h5.95v3.7h-5.95zM619.21 500.80h5.95v3.7h-5.95zM633.56 500.80h5.95v3.7h-5.95zM647.91 500.80h5.95v3.7h-5.95zM662.26 500.80h5.95v3.7h-5.95zM677.88 500.80h5.95v3.7h-5.95zM692.23 500.80h5.95v3.7h-5.95zM706.58 500.80h5.95v3.7h-5.95zM720.92 500.80h5.95v3.7h-5.95zM735.27 500.80h5.95v3.7h-5.95zM749.62 500.80h5.95v3.7h-5.95zM763.98 500.80h5.95v3.7h-5.95zM779.59 500.80h5.95v3.7h-5.95zM793.94 500.80h5.95v3.7h-5.95zM808.29 500.80h5.95v3.7h-5.95zM822.64 500.80h5.95v3.7h-5.95zM836.99 500.80h5.95v3.7h-5.95zM851.34 500.80h5.95v3.7h-5.95zM865.69 500.80h5.95v3.7h-5.95zM881.31 500.80h5.95v3.7h-5.95zM895.66 500.80h5.95v3.7h-5.95zM910.01 500.80h5.95v3.7h-5.95zM924.36 500.80h5.95v3.7h-5.95zM938.71 500.80h5.95v3.7h-5.95zM953.06 500.80h5.95v3.7h-5.95zM967.41 500.80h5.95v3.7h-5.95zM983.03 500.80h5.95v3.7h-5.95zM997.38 500.80h5.95v3.7h-5.95zM1011.73 500.80h5.95v3.7h-5.95zM1026.08 500.80h5.95v3.7h-5.95zM1040.43 500.80h5.95v3.7h-5.95zM1054.78 500.80h5.95v3.7h-5.95zM1069.13 500.80h5.95v3.7h-5.95zM1084.75 500.80h5.95v3.7h-5.95zM1099.10 500.80h5.95v3.7h-5.95zM1113.45 500.80h5.95v3.7h-5.95zM1127.80 500.80h5.95v3.7h-5.95zM1142.15 500.80h5.95v3.7h-5.95zM1156.50 500.80h5.95v3.7h-5.95zM1170.85 500.80h5.95v3.7h-5.95zM1186.47 500.80h5.95v3.7h-5.95zM1200.82 500.80h5.95v3.7h-5.95zM1215.17 500.80h5.95v3.7h-5.95zM1229.52 500.80h5.95v3.7h-5.95zM1243.87 500.80h5.95v3.7h-5.95zM1258.22 500.80h5.95v3.7h-5.95zM1272.57 500.80h5.95v3.7h-5.95zM1288.19 500.80h5.95v3.7h-5.95zM1302.54 500.80h5.95v3.7h-5.95zM1316.89 500.80h5.95v3.7h-5.95zM1331.24 500.80h5.95v3.7h-5.95zM1345.59 500.80h5.95v3.7h-5.95zM1359.94 500.80h5.95v3.7h-5.95zM1374.29 500.80h5.95v3.7h-5.95zM1389.91 500.80h5.95v3.7h-5.95zM1404.26 500.80h5.95v3.7h-5.95zM1418.61 500.80h5.95v3.7h-5.95zM1432.96 500.80h5.95v3.7h-5.95zM1447.31 500.80h5.95v3.7h-5.95zM1461.66 500.80h5.95v3.7h-5.95zM1476.01 500.80h5.95v3.7h-5.95zM1491.62 500.80h5.95v3.7h-5.95zM1505.97 500.80h5.95v3.7h-5.95zM1520.33 500.80h5.95v3.7h-5.95zM1534.67 500.80h5.95v3.7h-5.95zM1549.03 500.80h5.95v3.7h-5.95zM1563.38 500.80h5.95v3.7h-5.95zM1577.72 500.80h5.95v3.7h-5.95zM1593.34 500.80h5.95v3.7h-5.95zM1607.69 500.80h5.95v3.7h-5.95zM1622.04 500.80h5.95v3.7h-5.95zM1636.39 500.80h5.95v3.7h-5.95zM1650.74 500.80h5.95v3.7h-5.95zM1665.09 500.80h5.95v3.7h-5.95zM1679.44 500.80h5.95v3.7h-5.95zM1695.06 500.80h5.95v3.7h-5.95zM1709.41 500.80h5.95v3.7h-5.95zM1723.76 500.80h5.95v3.7h-5.95zM1738.11 500.80h5.95v3.7h-5.95zM1752.46 500.80h5.95v3.7h-5.95zM1766.81 500.80h5.95v3.7h-5.95zM1781.16 500.80h5.95v3.7h-5.95zM1796.78 500.80h5.95v3.7h-5.95zM1811.13 500.80h5.95v3.7h-5.95zM1825.48 500.80h5.95v3.7h-5.95zM1839.83 500.80h5.95v3.7h-5.95zM1854.18 500.80h5.95v3.7h-5.95zM1868.53 500.80h5.95v3.7h-5.95zM1882.88 500.80h5.95v3.7h-5.95z"/><path fill="#fde725" d="M271.10 501.65h5.75v2.85h-5.75zM285.45 501.65h5.75v2.85h-5.75zM299.80 501.65h5.75v2.85h-5.75zM314.15 501.65h5.75v2.85h-5.75zM328.50 501.65h5.75v2.85h-5.75zM342.85 501.65h5.75v2.85h-5.75zM357.20 501.65h5.75v2.85h-5.75zM372.82 501.65h5.75v2.85h-5.75zM387.17 501.65h5.75v2.85h-5.75zM401.52 501.65h5.75v2.85h-5.75zM415.87 501.65h5.75v2.85h-5.75zM430.22 501.65h5.75v2.85h-5.75zM444.57 501.65h5.75v2.85h-5.75zM458.92 501.65h5.75v2.85h-5.75zM474.54 501.65h5.75v2.85h-5.75zM488.89 501.65h5.75v2.85h-5.75zM503.24 501.65h5.75v2.85h-5.75zM517.59 501.65h5.75v2.85h-5.75zM531.94 501.65h5.75v2.85h-5.75zM546.29 501.65h5.75v2.85h-5.75zM560.64 501.65h5.75v2.85h-5.75zM576.26 501.65h5.75v2.85h-5.75zM590.61 501.65h5.75v2.85h-5.75zM604.96 501.65h5.75v2.85h-5.75zM619.31 501.65h5.75v2.85h-5.75zM633.66 501.65h5.75v2.85h-5.75zM648.01 501.65h5.75v2.85h-5.75zM662.36 501.65h5.75v2.85h-5.75zM677.98 501.65h5.75v2.85h-5.75zM692.33 501.65h5.75v2.85h-5.75zM706.68 501.65h5.75v2.85h-5.75zM721.02 501.65h5.75v2.85h-5.75zM735.38 501.65h5.75v2.85h-5.75zM749.73 501.65h5.75v2.85h-5.75zM764.08 501.65h5.75v2.85h-5.75zM779.69 501.65h5.75v2.85h-5.75zM794.04 501.65h5.75v2.85h-5.75zM808.39 501.65h5.75v2.85h-5.75zM822.74 501.65h5.75v2.85h-5.75zM837.09 501.65h5.75v2.85h-5.75zM851.44 501.65h5.75v2.85h-5.75zM865.79 501.65h5.75v2.85h-5.75zM881.41 501.65h5.75v2.85h-5.75zM895.76 501.65h5.75v2.85h-5.75zM910.11 501.65h5.75v2.85h-5.75zM924.46 501.65h5.75v2.85h-5.75zM938.81 501.65h5.75v2.85h-5.75zM953.16 501.65h5.75v2.85h-5.75zM967.51 501.65h5.75v2.85h-5.75zM983.13 501.65h5.75v2.85h-5.75zM997.48 501.65h5.75v2.85h-5.75zM1011.83 501.65h5.75v2.85h-5.75zM1026.18 501.65h5.75v2.85h-5.75zM1040.53 501.65h5.75v2.85h-5.75zM1054.88 501.65h5.75v2.85h-5.75zM1069.23 501.65h5.75v2.85h-5.75zM1084.85 501.65h5.75v2.85h-5.75zM1099.20 501.65h5.75v2.85h-5.75zM1113.55 501.65h5.75v2.85h-5.75zM1127.90 501.65h5.75v2.85h-5.75zM1142.25 501.65h5.75v2.85h-5.75zM1156.60 501.65h5.75v2.85h-5.75zM1170.95 501.65h5.75v2.85h-5.75zM1186.57 501.65h5.75v2.85h-5.75zM1200.92 501.65h5.75v2.85h-5.75zM1215.27 501.65h5.75v2.85h-5.75zM1229.62 501.65h5.75v2.85h-5.75zM1243.97 501.65h5.75v2.85h-5.75zM1258.32 501.65h5.75v2.85h-5.75zM1272.67 501.65h5.75v2.85h-5.75zM1288.29 501.65h5.75v2.85h-5.75zM1302.64 501.65h5.75v2.85h-5.75zM1316.99 501.65h5.75v2.85h-5.75zM1331.34 501.65h5.75v2.85h-5.75zM1345.69 501.65h5.75v2.85h-5.75zM1360.04 501.65h5.75v2.85h-5.75zM1374.39 501.65h5.75v2.85h-5.75zM1390.01 501.65h5.75v2.85h-5.75zM1404.36 501.65h5.75v2.85h-5.75zM1418.71 501.65h5.75v2.85h-5.75zM1433.06 501.65h5.75v2.85h-5.75zM1447.41 501.65h5.75v2.85h-5.75zM1461.76 501.65h5.75v2.85h-5.75zM1476.11 501.65h5.75v2.85h-5.75zM1491.73 501.65h5.75v2.85h-5.75zM1506.08 501.65h5.75v2.85h-5.75zM1520.43 501.65h5.75v2.85h-5.75zM1534.78 501.65h5.75v2.85h-5.75zM1549.13 501.65h5.75v2.85h-5.75zM1563.48 501.65h5.75v2.85h-5.75zM1577.83 501.65h5.75v2.85h-5.75zM1593.44 501.65h5.75v2.85h-5.75zM1607.79 501.65h5.75v2.85h-5.75zM1622.14 501.65h5.75v2.85h-5.75zM1636.49 501.65h5.75v2.85h-5.75zM1650.84 501.65h5.75v2.85h-5.75zM1665.19 501.65h5.75v2.85h-5.75zM1679.54 501.65h5.75v2.85h-5.75zM1695.16 501.65h5.75v2.85h-5.75zM1709.51 501.65h5.75v2.85h-5.75zM1723.86 501.65h5.75v2.85h-5.75zM1738.21 501.65h5.75v2.85h-5.75zM1752.56 501.65h5.75v2.85h-5.75zM1766.91 501.65h5.75v2.85h-5.75zM1781.26 501.65h5.75v2.85h-5.75zM1796.88 501.65h5.75v2.85h-5.75zM1811.23 501.65h5.75v2.85h-5.75zM1825.58 501.65h5.75v2.85h-5.75zM1839.93 501.65h5.75v2.85h-5.75zM1854.28 501.65h5.75v2.85h-5.75zM1868.63 501.65h5.75v2.85h-5.75zM1882.98 501.65h5.75v2.85h-5.75z"/>
</g>
<g>
<rect x="263" y="513.5" width="1627.5" height="95" fill="#471265"/>
<rect x="263.5" y="593" width="100.7" height="1" fill="#3a0050" opacity="0.12"/>
<rect x="263.5" y="594" width="100.7" height="1" fill="#6a5ab0" opacity="0.09"/>
<rect x="263.5" y="535" width="100.7" height="1" fill="#3a0050" opacity="0.12"/>
<rect x="263.5" y="553" width="100.7" height="1" fill="#6a5ab0" opacity="0.09"/>
<rect x="275.3" y="600" width="44.3" height="1" fill="#8a0a58" opacity="0.06"/>
<rect x="288.2" y="592" width="61.5" height="1" fill="#8a0a58" opacity="0.1"/>
<rect x="380.1" y="580" width="20.4" height="2" fill="#8a0a58" opacity="0.1"/>
<rect x="364.2" y="532" width="101.7" height="1" fill="#3a0050" opacity="0.12"/>
<rect x="364.2" y="580" width="101.7" height="1" fill="#6a5ab0" opacity="0.06"/>
<rect x="364.2" y="537" width="101.7" height="1" fill="#6a5ab0" opacity="0.09"/>
<rect x="364.2" y="529" width="101.7" height="1" fill="#8a0a58" opacity="0.06"/>
<rect x="364.2" y="591" width="101.7" height="2" fill="#8a0a58" opacity="0.06"/>
<rect x="465.9" y="528" width="101.7" height="1" fill="#8a0a58" opacity="0.1"/>
<rect x="465.9" y="589" width="101.7" height="1" fill="#6a5ab0" opacity="0.06"/>
<rect x="465.9" y="594" width="101.7" height="2" fill="#8a0a58" opacity="0.1"/>
<rect x="465.9" y="553" width="101.7" height="1" fill="#6a5ab0" opacity="0.09"/>
<rect x="465.9" y="556" width="101.7" height="1" fill="#8a0a58" opacity="0.06"/>
<rect x="465.9" y="578" width="101.7" height="1" fill="#6a5ab0" opacity="0.06"/>
<rect x="567.7" y="527" width="101.7" height="1" fill="#6a5ab0" opacity="0.09"/>
<rect x="567.7" y="536" width="101.7" height="1" fill="#6a5ab0" opacity="0.09"/>
<rect x="567.7" y="540" width="101.7" height="1" fill="#6a5ab0" opacity="0.09"/>
<rect x="593.3" y="542" width="55.4" height="2" fill="#8a0a58" opacity="0.1"/>
<rect x="567.7" y="582" width="101.7" height="1" fill="#3a0050" opacity="0.12"/>
<rect x="567.7" y="539" width="101.7" height="1" fill="#8a0a58" opacity="0.06"/>
<rect x="669.4" y="552" width="101.7" height="1" fill="#8a0a58" opacity="0.06"/>
<rect x="669.4" y="523" width="101.7" height="1" fill="#6a5ab0" opacity="0.06"/>
<rect x="669.4" y="519" width="101.7" height="1" fill="#8a0a58" opacity="0.06"/>
<rect x="669.5" y="516" width="87.9" height="1" fill="#3a0050" opacity="0.12"/>
<rect x="669.4" y="560" width="101.7" height="1" fill="#6a5ab0" opacity="0.09"/>
<rect x="669.4" y="593" width="101.7" height="1" fill="#6a5ab0" opacity="0.09"/>
<rect x="771.1" y="526" width="101.7" height="1" fill="#3a0050" opacity="0.12"/>
<rect x="775.5" y="576" width="67.1" height="1" fill="#3a0050" opacity="0.12"/>
<rect x="801.7" y="557" width="56.2" height="1" fill="#8a0a58" opacity="0.06"/>
<rect x="805.7" y="584" width="44.5" height="1" fill="#8a0a58" opacity="0.06"/>
<rect x="771.1" y="587" width="101.7" height="1" fill="#3a0050" opacity="0.12"/>
<rect x="816.6" y="543" width="37.3" height="2" fill="#8a0a58" opacity="0.1"/>
<rect x="914.4" y="589" width="34.7" height="1" fill="#8a0a58" opacity="0.06"/>
<rect x="872.8" y="529" width="101.7" height="1" fill="#3a0050" opacity="0.12"/>
<rect x="890.6" y="515" width="35.6" height="2" fill="#3a0050" opacity="0.12"/>
<rect x="872.8" y="586" width="101.7" height="1" fill="#6a5ab0" opacity="0.06"/>
<rect x="872.8" y="592" width="101.7" height="1" fill="#8a0a58" opacity="0.1"/>
<rect x="872.8" y="557" width="101.7" height="1" fill="#3a0050" opacity="0.12"/>
<rect x="983.7" y="526" width="27.5" height="1" fill="#8a0a58" opacity="0.1"/>
<rect x="1009.5" y="536" width="29.1" height="1" fill="#8a0a58" opacity="0.1"/>
<rect x="996.7" y="516" width="40.9" height="2" fill="#3a0050" opacity="0.12"/>
<rect x="997.8" y="523" width="54.3" height="1" fill="#8a0a58" opacity="0.1"/>
<rect x="1018.8" y="580" width="40.3" height="1" fill="#8a0a58" opacity="0.1"/>
<rect x="974.5" y="534" width="101.7" height="1" fill="#8a0a58" opacity="0.06"/>
<rect x="1076.2" y="554" width="101.7" height="2" fill="#8a0a58" opacity="0.06"/>
<rect x="1076.2" y="516" width="101.7" height="2" fill="#6a5ab0" opacity="0.06"/>
<rect x="1076.2" y="566" width="101.7" height="1" fill="#6a5ab0" opacity="0.06"/>
<rect x="1076.2" y="519" width="101.7" height="1" fill="#6a5ab0" opacity="0.09"/>
<rect x="1076.2" y="587" width="101.7" height="2" fill="#3a0050" opacity="0.12"/>
<rect x="1102.1" y="593" width="73.5" height="2" fill="#3a0050" opacity="0.12"/>
<rect x="1178.0" y="595" width="101.7" height="1" fill="#6a5ab0" opacity="0.06"/>
<rect x="1194.2" y="515" width="33.2" height="1" fill="#3a0050" opacity="0.12"/>
<rect x="1178.0" y="572" width="101.7" height="1" fill="#8a0a58" opacity="0.06"/>
<rect x="1178.0" y="549" width="101.7" height="2" fill="#8a0a58" opacity="0.1"/>
<rect x="1178.0" y="591" width="101.7" height="1" fill="#8a0a58" opacity="0.1"/>
<rect x="1178.0" y="568" width="101.7" height="1" fill="#3a0050" opacity="0.12"/>
<rect x="1280.4" y="518" width="39.2" height="1" fill="#6a5ab0" opacity="0.09"/>
<rect x="1279.7" y="518" width="101.7" height="1" fill="#6a5ab0" opacity="0.09"/>
<rect x="1279.7" y="529" width="101.7" height="1" fill="#3a0050" opacity="0.12"/>
<rect x="1279.7" y="594" width="101.7" height="1" fill="#8a0a58" opacity="0.1"/>
<rect x="1286.3" y="560" width="42.1" height="1" fill="#6a5ab0" opacity="0.06"/>
<rect x="1284.1" y="549" width="62.2" height="1" fill="#6a5ab0" opacity="0.09"/>
<rect x="1416.9" y="587" width="41.3" height="1" fill="#6a5ab0" opacity="0.06"/>
<rect x="1381.4" y="562" width="101.7" height="2" fill="#6a5ab0" opacity="0.06"/>
<rect x="1408.7" y="517" width="72.8" height="1" fill="#8a0a58" opacity="0.06"/>
<rect x="1381.4" y="549" width="101.7" height="1" fill="#8a0a58" opacity="0.06"/>
<rect x="1425.3" y="535" width="28.2" height="1" fill="#6a5ab0" opacity="0.06"/>
<rect x="1381.4" y="519" width="101.7" height="1" fill="#8a0a58" opacity="0.06"/>
<rect x="1483.1" y="567" width="101.7" height="1" fill="#6a5ab0" opacity="0.06"/>
<rect x="1483.1" y="559" width="101.7" height="2" fill="#6a5ab0" opacity="0.09"/>
<rect x="1483.1" y="524" width="101.7" height="1" fill="#8a0a58" opacity="0.06"/>
<rect x="1483.1" y="572" width="101.7" height="1" fill="#8a0a58" opacity="0.06"/>
<rect x="1514.7" y="588" width="51.7" height="1" fill="#6a5ab0" opacity="0.06"/>
<rect x="1521.4" y="575" width="45.4" height="2" fill="#8a0a58" opacity="0.1"/>
<rect x="1584.8" y="557" width="101.7" height="1" fill="#6a5ab0" opacity="0.06"/>
<rect x="1584.8" y="539" width="101.7" height="1" fill="#6a5ab0" opacity="0.06"/>
<rect x="1604.4" y="574" width="54.5" height="1" fill="#6a5ab0" opacity="0.09"/>
<rect x="1584.8" y="548" width="101.7" height="1" fill="#8a0a58" opacity="0.1"/>
<rect x="1584.8" y="588" width="101.7" height="2" fill="#6a5ab0" opacity="0.06"/>
<rect x="1584.8" y="530" width="101.7" height="1" fill="#8a0a58" opacity="0.06"/>
<rect x="1686.6" y="547" width="101.7" height="1" fill="#8a0a58" opacity="0.1"/>
<rect x="1707.9" y="543" width="75.0" height="1" fill="#6a5ab0" opacity="0.09"/>
<rect x="1686.6" y="515" width="101.7" height="1" fill="#6a5ab0" opacity="0.09"/>
<rect x="1686.6" y="557" width="101.7" height="1" fill="#3a0050" opacity="0.12"/>
<rect x="1686.6" y="552" width="101.7" height="2" fill="#6a5ab0" opacity="0.06"/>
<rect x="1686.6" y="518" width="101.7" height="1" fill="#6a5ab0" opacity="0.06"/>
<rect x="1788.3" y="573" width="101.7" height="1" fill="#8a0a58" opacity="0.1"/>
<rect x="1788.3" y="558" width="101.7" height="1" fill="#8a0a58" opacity="0.06"/>
<rect x="1788.3" y="556" width="101.7" height="2" fill="#3a0050" opacity="0.12"/>
<rect x="1788.3" y="565" width="101.7" height="1" fill="#8a0a58" opacity="0.06"/>
<rect x="1788.3" y="546" width="101.7" height="1" fill="#6a5ab0" opacity="0.09"/>
<rect x="1788.3" y="524" width="101.7" height="1" fill="#6a5ab0" opacity="0.09"/>
<rect x="263" y="604" width="1627.5" height="1" fill="#45085b"/>
<rect x="263" y="604.8" width="1627.5" height="3.7" fill="#440154"/>
<path fill="#26828e" d="M270.15 604.80h7.55v3.7h-7.55zM284.50 604.80h7.55v3.7h-7.55zM298.85 604.80h7.55v3.7h-7.55zM313.20 604.80h7.55v3.7h-7.55zM327.55 604.80h7.55v3.7h-7.55zM341.90 604.80h7.55v3.7h-7.55zM356.25 604.80h7.55v3.7h-7.55zM371.87 604.80h7.55v3.7h-7.55zM386.22 604.80h7.55v3.7h-7.55zM400.57 604.80h7.55v3.7h-7.55zM414.92 604.80h7.55v3.7h-7.55zM429.27 604.80h7.55v3.7h-7.55zM443.62 604.80h7.55v3.7h-7.55zM457.97 604.80h7.55v3.7h-7.55zM473.59 604.80h7.55v3.7h-7.55zM487.94 604.80h7.55v3.7h-7.55zM502.29 604.80h7.55v3.7h-7.55zM516.64 604.80h7.55v3.7h-7.55zM530.99 604.80h7.55v3.7h-7.55zM545.34 604.80h7.55v3.7h-7.55zM559.69 604.80h7.55v3.7h-7.55zM575.31 604.80h7.55v3.7h-7.55zM589.66 604.80h7.55v3.7h-7.55zM604.01 604.80h7.55v3.7h-7.55zM618.36 604.80h7.55v3.7h-7.55zM632.71 604.80h7.55v3.7h-7.55zM647.06 604.80h7.55v3.7h-7.55zM661.41 604.80h7.55v3.7h-7.55zM677.02 604.80h7.55v3.7h-7.55zM691.38 604.80h7.55v3.7h-7.55zM705.73 604.80h7.55v3.7h-7.55zM720.07 604.80h7.55v3.7h-7.55zM734.42 604.80h7.55v3.7h-7.55zM748.77 604.80h7.55v3.7h-7.55zM763.12 604.80h7.55v3.7h-7.55zM778.74 604.80h7.55v3.7h-7.55zM793.09 604.80h7.55v3.7h-7.55zM807.44 604.80h7.55v3.7h-7.55zM821.79 604.80h7.55v3.7h-7.55zM836.14 604.80h7.55v3.7h-7.55zM850.49 604.80h7.55v3.7h-7.55zM864.84 604.80h7.55v3.7h-7.55zM880.46 604.80h7.55v3.7h-7.55zM894.81 604.80h7.55v3.7h-7.55zM909.16 604.80h7.55v3.7h-7.55zM923.51 604.80h7.55v3.7h-7.55zM937.86 604.80h7.55v3.7h-7.55zM952.21 604.80h7.55v3.7h-7.55zM966.56 604.80h7.55v3.7h-7.55zM982.18 604.80h7.55v3.7h-7.55zM996.53 604.80h7.55v3.7h-7.55zM1010.88 604.80h7.55v3.7h-7.55zM1025.23 604.80h7.55v3.7h-7.55zM1039.58 604.80h7.55v3.7h-7.55zM1053.93 604.80h7.55v3.7h-7.55zM1068.28 604.80h7.55v3.7h-7.55zM1083.90 604.80h7.55v3.7h-7.55zM1098.25 604.80h7.55v3.7h-7.55zM1112.60 604.80h7.55v3.7h-7.55zM1126.95 604.80h7.55v3.7h-7.55zM1141.30 604.80h7.55v3.7h-7.55zM1155.65 604.80h7.55v3.7h-7.55zM1170.00 604.80h7.55v3.7h-7.55zM1185.62 604.80h7.55v3.7h-7.55zM1199.97 604.80h7.55v3.7h-7.55zM1214.32 604.80h7.55v3.7h-7.55zM1228.67 604.80h7.55v3.7h-7.55zM1243.02 604.80h7.55v3.7h-7.55zM1257.37 604.80h7.55v3.7h-7.55zM1271.72 604.80h7.55v3.7h-7.55zM1287.34 604.80h7.55v3.7h-7.55zM1301.69 604.80h7.55v3.7h-7.55zM1316.04 604.80h7.55v3.7h-7.55zM1330.39 604.80h7.55v3.7h-7.55zM1344.74 604.80h7.55v3.7h-7.55zM1359.09 604.80h7.55v3.7h-7.55zM1373.44 604.80h7.55v3.7h-7.55zM1389.06 604.80h7.55v3.7h-7.55zM1403.41 604.80h7.55v3.7h-7.55zM1417.76 604.80h7.55v3.7h-7.55zM1432.11 604.80h7.55v3.7h-7.55zM1446.46 604.80h7.55v3.7h-7.55zM1460.81 604.80h7.55v3.7h-7.55zM1475.16 604.80h7.55v3.7h-7.55zM1490.78 604.80h7.55v3.7h-7.55zM1505.12 604.80h7.55v3.7h-7.55zM1519.48 604.80h7.55v3.7h-7.55zM1533.83 604.80h7.55v3.7h-7.55zM1548.18 604.80h7.55v3.7h-7.55zM1562.53 604.80h7.55v3.7h-7.55zM1576.88 604.80h7.55v3.7h-7.55zM1592.49 604.80h7.55v3.7h-7.55zM1606.84 604.80h7.55v3.7h-7.55zM1621.19 604.80h7.55v3.7h-7.55zM1635.54 604.80h7.55v3.7h-7.55zM1649.89 604.80h7.55v3.7h-7.55zM1664.24 604.80h7.55v3.7h-7.55zM1678.59 604.80h7.55v3.7h-7.55zM1694.21 604.80h7.55v3.7h-7.55zM1708.56 604.80h7.55v3.7h-7.55zM1722.91 604.80h7.55v3.7h-7.55zM1737.26 604.80h7.55v3.7h-7.55zM1751.61 604.80h7.55v3.7h-7.55zM1765.96 604.80h7.55v3.7h-7.55zM1780.31 604.80h7.55v3.7h-7.55zM1795.93 604.80h7.55v3.7h-7.55zM1810.28 604.80h7.55v3.7h-7.55zM1824.63 604.80h7.55v3.7h-7.55zM1838.98 604.80h7.55v3.7h-7.55zM1853.33 604.80h7.55v3.7h-7.55zM1867.68 604.80h7.55v3.7h-7.55zM1882.03 604.80h7.55v3.7h-7.55z"/><path fill="#a5db36" d="M271.00 604.80h5.95v3.7h-5.95zM285.35 604.80h5.95v3.7h-5.95zM299.70 604.80h5.95v3.7h-5.95zM314.05 604.80h5.95v3.7h-5.95zM328.40 604.80h5.95v3.7h-5.95zM342.75 604.80h5.95v3.7h-5.95zM357.10 604.80h5.95v3.7h-5.95zM372.72 604.80h5.95v3.7h-5.95zM387.07 604.80h5.95v3.7h-5.95zM401.42 604.80h5.95v3.7h-5.95zM415.77 604.80h5.95v3.7h-5.95zM430.12 604.80h5.95v3.7h-5.95zM444.47 604.80h5.95v3.7h-5.95zM458.82 604.80h5.95v3.7h-5.95zM474.44 604.80h5.95v3.7h-5.95zM488.79 604.80h5.95v3.7h-5.95zM503.14 604.80h5.95v3.7h-5.95zM517.49 604.80h5.95v3.7h-5.95zM531.84 604.80h5.95v3.7h-5.95zM546.19 604.80h5.95v3.7h-5.95zM560.54 604.80h5.95v3.7h-5.95zM576.16 604.80h5.95v3.7h-5.95zM590.51 604.80h5.95v3.7h-5.95zM604.86 604.80h5.95v3.7h-5.95zM619.21 604.80h5.95v3.7h-5.95zM633.56 604.80h5.95v3.7h-5.95zM647.91 604.80h5.95v3.7h-5.95zM662.26 604.80h5.95v3.7h-5.95zM677.88 604.80h5.95v3.7h-5.95zM692.23 604.80h5.95v3.7h-5.95zM706.58 604.80h5.95v3.7h-5.95zM720.92 604.80h5.95v3.7h-5.95zM735.27 604.80h5.95v3.7h-5.95zM749.62 604.80h5.95v3.7h-5.95zM763.98 604.80h5.95v3.7h-5.95zM779.59 604.80h5.95v3.7h-5.95zM793.94 604.80h5.95v3.7h-5.95zM808.29 604.80h5.95v3.7h-5.95zM822.64 604.80h5.95v3.7h-5.95zM836.99 604.80h5.95v3.7h-5.95zM851.34 604.80h5.95v3.7h-5.95zM865.69 604.80h5.95v3.7h-5.95zM881.31 604.80h5.95v3.7h-5.95zM895.66 604.80h5.95v3.7h-5.95zM910.01 604.80h5.95v3.7h-5.95zM924.36 604.80h5.95v3.7h-5.95zM938.71 604.80h5.95v3.7h-5.95zM953.06 604.80h5.95v3.7h-5.95zM967.41 604.80h5.95v3.7h-5.95zM983.03 604.80h5.95v3.7h-5.95zM997.38 604.80h5.95v3.7h-5.95zM1011.73 604.80h5.95v3.7h-5.95zM1026.08 604.80h5.95v3.7h-5.95zM1040.43 604.80h5.95v3.7h-5.95zM1054.78 604.80h5.95v3.7h-5.95zM1069.13 604.80h5.95v3.7h-5.95zM1084.75 604.80h5.95v3.7h-5.95zM1099.10 604.80h5.95v3.7h-5.95zM1113.45 604.80h5.95v3.7h-5.95zM1127.80 604.80h5.95v3.7h-5.95zM1142.15 604.80h5.95v3.7h-5.95zM1156.50 604.80h5.95v3.7h-5.95zM1170.85 604.80h5.95v3.7h-5.95zM1186.47 604.80h5.95v3.7h-5.95zM1200.82 604.80h5.95v3.7h-5.95zM1215.17 604.80h5.95v3.7h-5.95zM1229.52 604.80h5.95v3.7h-5.95zM1243.87 604.80h5.95v3.7h-5.95zM1258.22 604.80h5.95v3.7h-5.95zM1272.57 604.80h5.95v3.7h-5.95zM1288.19 604.80h5.95v3.7h-5.95zM1302.54 604.80h5.95v3.7h-5.95zM1316.89 604.80h5.95v3.7h-5.95zM1331.24 604.80h5.95v3.7h-5.95zM1345.59 604.80h5.95v3.7h-5.95zM1359.94 604.80h5.95v3.7h-5.95zM1374.29 604.80h5.95v3.7h-5.95zM1389.91 604.80h5.95v3.7h-5.95zM1404.26 604.80h5.95v3.7h-5.95zM1418.61 604.80h5.95v3.7h-5.95zM1432.96 604.80h5.95v3.7h-5.95zM1447.31 604.80h5.95v3.7h-5.95zM1461.66 604.80h5.95v3.7h-5.95zM1476.01 604.80h5.95v3.7h-5.95zM1491.62 604.80h5.95v3.7h-5.95zM1505.97 604.80h5.95v3.7h-5.95zM1520.33 604.80h5.95v3.7h-5.95zM1534.67 604.80h5.95v3.7h-5.95zM1549.03 604.80h5.95v3.7h-5.95zM1563.38 604.80h5.95v3.7h-5.95zM1577.72 604.80h5.95v3.7h-5.95zM1593.34 604.80h5.95v3.7h-5.95zM1607.69 604.80h5.95v3.7h-5.95zM1622.04 604.80h5.95v3.7h-5.95zM1636.39 604.80h5.95v3.7h-5.95zM1650.74 604.80h5.95v3.7h-5.95zM1665.09 604.80h5.95v3.7h-5.95zM1679.44 604.80h5.95v3.7h-5.95zM1695.06 604.80h5.95v3.7h-5.95zM1709.41 604.80h5.95v3.7h-5.95zM1723.76 604.80h5.95v3.7h-5.95zM1738.11 604.80h5.95v3.7h-5.95zM1752.46 604.80h5.95v3.7h-5.95zM1766.81 604.80h5.95v3.7h-5.95zM1781.16 604.80h5.95v3.7h-5.95zM1796.78 604.80h5.95v3.7h-5.95zM1811.13 604.80h5.95v3.7h-5.95zM1825.48 604.80h5.95v3.7h-5.95zM1839.83 604.80h5.95v3.7h-5.95zM1854.18 604.80h5.95v3.7h-5.95zM1868.53 604.80h5.95v3.7h-5.95zM1882.88 604.80h5.95v3.7h-5.95z"/><path fill="#fde725" d="M271.10 605.65h5.75v2.85h-5.75zM285.45 605.65h5.75v2.85h-5.75zM299.80 605.65h5.75v2.85h-5.75zM314.15 605.65h5.75v2.85h-5.75zM328.50 605.65h5.75v2.85h-5.75zM342.85 605.65h5.75v2.85h-5.75zM357.20 605.65h5.75v2.85h-5.75zM372.82 605.65h5.75v2.85h-5.75zM387.17 605.65h5.75v2.85h-5.75zM401.52 605.65h5.75v2.85h-5.75zM415.87 605.65h5.75v2.85h-5.75zM430.22 605.65h5.75v2.85h-5.75zM444.57 605.65h5.75v2.85h-5.75zM458.92 605.65h5.75v2.85h-5.75zM474.54 605.65h5.75v2.85h-5.75zM488.89 605.65h5.75v2.85h-5.75zM503.24 605.65h5.75v2.85h-5.75zM517.59 605.65h5.75v2.85h-5.75zM531.94 605.65h5.75v2.85h-5.75zM546.29 605.65h5.75v2.85h-5.75zM560.64 605.65h5.75v2.85h-5.75zM576.26 605.65h5.75v2.85h-5.75zM590.61 605.65h5.75v2.85h-5.75zM604.96 605.65h5.75v2.85h-5.75zM619.31 605.65h5.75v2.85h-5.75zM633.66 605.65h5.75v2.85h-5.75zM648.01 605.65h5.75v2.85h-5.75zM662.36 605.65h5.75v2.85h-5.75zM677.98 605.65h5.75v2.85h-5.75zM692.33 605.65h5.75v2.85h-5.75zM706.68 605.65h5.75v2.85h-5.75zM721.02 605.65h5.75v2.85h-5.75zM735.38 605.65h5.75v2.85h-5.75zM749.73 605.65h5.75v2.85h-5.75zM764.08 605.65h5.75v2.85h-5.75zM779.69 605.65h5.75v2.85h-5.75zM794.04 605.65h5.75v2.85h-5.75zM808.39 605.65h5.75v2.85h-5.75zM822.74 605.65h5.75v2.85h-5.75zM837.09 605.65h5.75v2.85h-5.75zM851.44 605.65h5.75v2.85h-5.75zM865.79 605.65h5.75v2.85h-5.75zM881.41 605.65h5.75v2.85h-5.75zM895.76 605.65h5.75v2.85h-5.75zM910.11 605.65h5.75v2.85h-5.75zM924.46 605.65h5.75v2.85h-5.75zM938.81 605.65h5.75v2.85h-5.75zM953.16 605.65h5.75v2.85h-5.75zM967.51 605.65h5.75v2.85h-5.75zM983.13 605.65h5.75v2.85h-5.75zM997.48 605.65h5.75v2.85h-5.75zM1011.83 605.65h5.75v2.85h-5.75zM1026.18 605.65h5.75v2.85h-5.75zM1040.53 605.65h5.75v2.85h-5.75zM1054.88 605.65h5.75v2.85h-5.75zM1069.23 605.65h5.75v2.85h-5.75zM1084.85 605.65h5.75v2.85h-5.75zM1099.20 605.65h5.75v2.85h-5.75zM1113.55 605.65h5.75v2.85h-5.75zM1127.90 605.65h5.75v2.85h-5.75zM1142.25 605.65h5.75v2.85h-5.75zM1156.60 605.65h5.75v2.85h-5.75zM1170.95 605.65h5.75v2.85h-5.75zM1186.57 605.65h5.75v2.85h-5.75zM1200.92 605.65h5.75v2.85h-5.75zM1215.27 605.65h5.75v2.85h-5.75zM1229.62 605.65h5.75v2.85h-5.75zM1243.97 605.65h5.75v2.85h-5.75zM1258.32 605.65h5.75v2.85h-5.75zM1272.67 605.65h5.75v2.85h-5.75zM1288.29 605.65h5.75v2.85h-5.75zM1302.64 605.65h5.75v2.85h-5.75zM1316.99 605.65h5.75v2.85h-5.75zM1331.34 605.65h5.75v2.85h-5.75zM1345.69 605.65h5.75v2.85h-5.75zM1360.04 605.65h5.75v2.85h-5.75zM1374.39 605.65h5.75v2.85h-5.75zM1390.01 605.65h5.75v2.85h-5.75zM1404.36 605.65h5.75v2.85h-5.75zM1418.71 605.65h5.75v2.85h-5.75zM1433.06 605.65h5.75v2.85h-5.75zM1447.41 605.65h5.75v2.85h-5.75zM1461.76 605.65h5.75v2.85h-5.75zM1476.11 605.65h5.75v2.85h-5.75zM1491.73 605.65h5.75v2.85h-5.75zM1506.08 605.65h5.75v2.85h-5.75zM1520.43 605.65h5.75v2.85h-5.75zM1534.78 605.65h5.75v2.85h-5.75zM1549.13 605.65h5.75v2.85h-5.75zM1563.48 605.65h5.75v2.85h-5.75zM1577.83 605.65h5.75v2.85h-5.75zM1593.44 605.65h5.75v2.85h-5.75zM1607.79 605.65h5.75v2.85h-5.75zM1622.14 605.65h5.75v2.85h-5.75zM1636.49 605.65h5.75v2.85h-5.75zM1650.84 605.65h5.75v2.85h-5.75zM1665.19 605.65h5.75v2.85h-5.75zM1679.54 605.65h5.75v2.85h-5.75zM1695.16 605.65h5.75v2.85h-5.75zM1709.51 605.65h5.75v2.85h-5.75zM1723.86 605.65h5.75v2.85h-5.75zM1738.21 605.65h5.75v2.85h-5.75zM1752.56 605.65h5.75v2.85h-5.75zM1766.91 605.65h5.75v2.85h-5.75zM1781.26 605.65h5.75v2.85h-5.75zM1796.88 605.65h5.75v2.85h-5.75zM1811.23 605.65h5.75v2.85h-5.75zM1825.58 605.65h5.75v2.85h-5.75zM1839.93 605.65h5.75v2.85h-5.75zM1854.28 605.65h5.75v2.85h-5.75zM1868.63 605.65h5.75v2.85h-5.75zM1882.98 605.65h5.75v2.85h-5.75z"/>
</g>
<g>
<rect x="263" y="617.5" width="1627.5" height="95" fill="#471265"/>
<rect x="263.5" y="704" width="100.7" height="2" fill="#8a0a58" opacity="0.06"/>
<rect x="263.5" y="689" width="100.7" height="1" fill="#3a0050" opacity="0.12"/>
<rect x="263.5" y="654" width="100.7" height="1" fill="#3a0050" opacity="0.12"/>
<rect x="263.5" y="649" width="77.1" height="1" fill="#6a5ab0" opacity="0.06"/>
<rect x="263.5" y="666" width="100.7" height="1" fill="#6a5ab0" opacity="0.06"/>
<rect x="300.9" y="669" width="44.5" height="1" fill="#8a0a58" opacity="0.06"/>
<rect x="394.3" y="693" width="27.5" height="1" fill="#3a0050" opacity="0.12"/>
<rect x="372.7" y="663" width="58.2" height="1" fill="#8a0a58" opacity="0.1"/>
<rect x="364.2" y="689" width="101.7" height="2" fill="#8a0a58" opacity="0.1"/>
<rect x="364.2" y="677" width="101.7" height="1" fill="#8a0a58" opacity="0.06"/>
<rect x="369.2" y="649" width="89.4" height="1" fill="#8a0a58" opacity="0.1"/>
<rect x="364.2" y="669" width="101.7" height="1" fill="#8a0a58" opacity="0.06"/>
<rect x="465.9" y="652" width="101.7" height="1" fill="#8a0a58" opacity="0.06"/>
<rect x="477.9" y="669" width="35.6" height="1" fill="#6a5ab0" opacity="0.06"/>
<rect x="509.3" y="632" width="37.5" height="1" fill="#6a5ab0" opacity="0.09"/>
<rect x="465.9" y="654" width="101.7" height="1" fill="#6a5ab0" opacity="0.06"/>
<rect x="481.4" y="624" width="78.0" height="2" fill="#3a0050" opacity="0.12"/>
<rect x="483.9" y="660" width="31.9" height="1" fill="#8a0a58" opacity="0.1"/>
<rect x="567.7" y="702" width="101.7" height="1" fill="#6a5ab0" opacity="0.06"/>
<rect x="567.7" y="628" width="101.7" height="2" fill="#6a5ab0" opacity="0.09"/>
<rect x="567.7" y="624" width="101.7" height="1" fill="#6a5ab0" opacity="0.06"/>
<rect x="581.8" y="649" width="36.0" height="1" fill="#6a5ab0" opacity="0.06"/>
<rect x="567.7" y="622" width="101.7" height="1" fill="#6a5ab0" opacity="0.09"/>
<rect x="594.9" y="639" width="62.9" height="1" fill="#8a0a58" opacity="0.1"/>
<rect x="687.0" y="666" width="66.3" height="2" fill="#8a0a58" opacity="0.06"/>
<rect x="669.4" y="651" width="101.7" height="1" fill="#6a5ab0" opacity="0.09"/>
<rect x="669.4" y="662" width="101.7" height="1" fill="#6a5ab0" opacity="0.06"/>
<rect x="669.4" y="700" width="101.7" height="1" fill="#3a0050" opacity="0.12"/>
<rect x="699.8" y="669" width="30.9" height="1" fill="#3a0050" opacity="0.12"/>
<rect x="712.0" y="694" width="48.8" height="1" fill="#3a0050" opacity="0.12"/>
<rect x="771.8" y="684" width="77.5" height="1" fill="#3a0050" opacity="0.12"/>
<rect x="815.7" y="678" width="22.5" height="1" fill="#6a5ab0" opacity="0.09"/>
<rect x="786.7" y="697" width="35.0" height="1" fill="#8a0a58" opacity="0.06"/>
<rect x="771.1" y="629" width="101.7" height="2" fill="#6a5ab0" opacity="0.09"/>
<rect x="771.1" y="691" width="101.7" height="2" fill="#8a0a58" opacity="0.06"/>
<rect x="771.1" y="634" width="101.7" height="1" fill="#6a5ab0" opacity="0.09"/>
<rect x="872.8" y="621" width="101.7" height="2" fill="#8a0a58" opacity="0.06"/>
<rect x="886.4" y="653" width="61.5" height="1" fill="#8a0a58" opacity="0.06"/>
<rect x="880.9" y="637" width="34.6" height="1" fill="#6a5ab0" opacity="0.06"/>
<rect x="872.8" y="645" width="101.7" height="2" fill="#8a0a58" opacity="0.1"/>
<rect x="872.8" y="673" width="101.7" height="1" fill="#3a0050" opacity="0.12"/>
<rect x="872.8" y="668" width="101.7" height="1" fill="#6a5ab0" opacity="0.06"/>
<rect x="974.5" y="668" width="101.7" height="1" fill="#8a0a58" opacity="0.1"/>
<rect x="974.5" y="685" width="101.7" height="1" fill="#8a0a58" opacity="0.1"/>
<rect x="974.5" y="669" width="101.7" height="1" fill="#8a0a58" opacity="0.06"/>
<rect x="974.5" y="622" width="101.7" height="1" fill="#8a0a58" opacity="0.06"/>
<rect x="974.5" y="648" width="101.7" height="1" fill="#6a5ab0" opacity="0.06"/>
<rect x="974.5" y="652" width="101.7" height="1" fill="#6a5ab0" opacity="0.09"/>
<rect x="1076.2" y="649" width="101.7" height="2" fill="#6a5ab0" opacity="0.06"/>
<rect x="1111.2" y="678" width="40.0" height="2" fill="#3a0050" opacity="0.12"/>
<rect x="1076.2" y="663" width="101.7" height="1" fill="#6a5ab0" opacity="0.06"/>
<rect x="1076.2" y="622" width="101.7" height="1" fill="#8a0a58" opacity="0.06"/>
<rect x="1124.4" y="702" width="25.6" height="1" fill="#3a0050" opacity="0.12"/>
<rect x="1076.2" y="648" width="101.7" height="1" fill="#8a0a58" opacity="0.06"/>
<rect x="1190.1" y="630" width="55.9" height="2" fill="#6a5ab0" opacity="0.06"/>
<rect x="1213.4" y="657" width="47.2" height="1" fill="#6a5ab0" opacity="0.09"/>
<rect x="1178.0" y="639" width="101.7" height="1" fill="#3a0050" opacity="0.12"/>
<rect x="1178.0" y="699" width="101.7" height="1" fill="#3a0050" opacity="0.12"/>
<rect x="1192.4" y="691" width="44.2" height="2" fill="#8a0a58" opacity="0.06"/>
<rect x="1178.0" y="636" width="101.7" height="1" fill="#6a5ab0" opacity="0.09"/>
<rect x="1279.7" y="628" width="101.7" height="1" fill="#6a5ab0" opacity="0.06"/>
<rect x="1279.7" y="632" width="101.7" height="2" fill="#6a5ab0" opacity="0.06"/>
<rect x="1329.3" y="643" width="44.1" height="1" fill="#8a0a58" opacity="0.1"/>
<rect x="1311.9" y="626" width="67.3" height="1" fill="#3a0050" opacity="0.12"/>
<rect x="1279.7" y="660" width="101.7" height="1" fill="#8a0a58" opacity="0.1"/>
<rect x="1279.7" y="626" width="101.7" height="1" fill="#3a0050" opacity="0.12"/>
<rect x="1418.8" y="675" width="21.1" height="1" fill="#8a0a58" opacity="0.06"/>
<rect x="1381.4" y="652" width="101.7" height="1" fill="#6a5ab0" opacity="0.09"/>
<rect x="1381.4" y="701" width="101.7" height="1" fill="#8a0a58" opacity="0.1"/>
<rect x="1422.7" y="690" width="33.0" height="1" fill="#6a5ab0" opacity="0.06"/>
<rect x="1383.5" y="650" width="65.2" height="1" fill="#6a5ab0" opacity="0.09"/>
<rect x="1381.4" y="673" width="101.7" height="2" fill="#8a0a58" opacity="0.1"/>
<rect x="1483.1" y="661" width="101.7" height="2" fill="#8a0a58" opacity="0.06"/>
<rect x="1483.1" y="670" width="101.7" height="1" fill="#8a0a58" opacity="0.06"/>
<rect x="1485.1" y="633" width="55.0" height="2" fill="#6a5ab0" opacity="0.06"/>
<rect x="1513.7" y="635" width="62.7" height="1" fill="#8a0a58" opacity="0.1"/>
<rect x="1485.9" y="662" width="76.1" height="1" fill="#6a5ab0" opacity="0.09"/>
<rect x="1530.9" y="695" width="26.0" height="1" fill="#6a5ab0" opacity="0.06"/>
<rect x="1625.1" y="681" width="48.0" height="2" fill="#6a5ab0" opacity="0.09"/>
<rect x="1584.8" y="667" width="101.7" height="2" fill="#8a0a58" opacity="0.1"/>
<rect x="1584.8" y="663" width="101.7" height="2" fill="#3a0050" opacity="0.12"/>
<rect x="1584.8" y="693" width="101.7" height="2" fill="#3a0050" opacity="0.12"/>
<rect x="1584.8" y="688" width="101.7" height="1" fill="#6a5ab0" opacity="0.09"/>
<rect x="1584.8" y="644" width="101.7" height="2" fill="#6a5ab0" opacity="0.09"/>
<rect x="1686.6" y="674" width="101.7" height="1" fill="#6a5ab0" opacity="0.09"/>
<rect x="1686.6" y="673" width="101.7" height="1" fill="#8a0a58" opacity="0.06"/>
<rect x="1686.6" y="657" width="101.7" height="1" fill="#8a0a58" opacity="0.06"/>
<rect x="1686.6" y="650" width="101.7" height="2" fill="#6a5ab0" opacity="0.09"/>
<rect x="1695.6" y="667" width="84.7" height="2" fill="#6a5ab0" opacity="0.09"/>
<rect x="1686.6" y="666" width="101.7" height="1" fill="#8a0a58" opacity="0.06"/>
<rect x="1788.3" y="640" width="101.7" height="1" fill="#8a0a58" opacity="0.06"/>
<rect x="1788.3" y="640" width="101.7" height="2" fill="#8a0a58" opacity="0.06"/>
<rect x="1788.3" y="638" width="101.7" height="1" fill="#3a0050" opacity="0.12"/>
<rect x="1788.3" y="667" width="101.7" height="2" fill="#8a0a58" opacity="0.1"/>
<rect x="1829.8" y="630" width="35.8" height="1" fill="#3a0050" opacity="0.12"/>
<rect x="1788.3" y="633" width="101.7" height="1" fill="#3a0050" opacity="0.12"/>
<rect x="263" y="708" width="1627.5" height="1" fill="#45085b"/>
<rect x="263" y="708.8" width="1627.5" height="3.7" fill="#440154"/>
<path fill="#26828e" d="M270.15 708.80h7.55v3.7h-7.55zM284.50 708.80h7.55v3.7h-7.55zM298.85 708.80h7.55v3.7h-7.55zM313.20 708.80h7.55v3.7h-7.55zM327.55 708.80h7.55v3.7h-7.55zM341.90 708.80h7.55v3.7h-7.55zM356.25 708.80h7.55v3.7h-7.55zM371.87 708.80h7.55v3.7h-7.55zM386.22 708.80h7.55v3.7h-7.55zM400.57 708.80h7.55v3.7h-7.55zM414.92 708.80h7.55v3.7h-7.55zM429.27 708.80h7.55v3.7h-7.55zM443.62 708.80h7.55v3.7h-7.55zM457.97 708.80h7.55v3.7h-7.55zM473.59 708.80h7.55v3.7h-7.55zM487.94 708.80h7.55v3.7h-7.55zM502.29 708.80h7.55v3.7h-7.55zM516.64 708.80h7.55v3.7h-7.55zM530.99 708.80h7.55v3.7h-7.55zM545.34 708.80h7.55v3.7h-7.55zM559.69 708.80h7.55v3.7h-7.55zM575.31 708.80h7.55v3.7h-7.55zM589.66 708.80h7.55v3.7h-7.55zM604.01 708.80h7.55v3.7h-7.55zM618.36 708.80h7.55v3.7h-7.55zM632.71 708.80h7.55v3.7h-7.55zM647.06 708.80h7.55v3.7h-7.55zM661.41 708.80h7.55v3.7h-7.55zM677.02 708.80h7.55v3.7h-7.55zM691.38 708.80h7.55v3.7h-7.55zM705.73 708.80h7.55v3.7h-7.55zM720.07 708.80h7.55v3.7h-7.55zM734.42 708.80h7.55v3.7h-7.55zM748.77 708.80h7.55v3.7h-7.55zM763.12 708.80h7.55v3.7h-7.55zM778.74 708.80h7.55v3.7h-7.55zM793.09 708.80h7.55v3.7h-7.55zM807.44 708.80h7.55v3.7h-7.55zM821.79 708.80h7.55v3.7h-7.55zM836.14 708.80h7.55v3.7h-7.55zM850.49 708.80h7.55v3.7h-7.55zM864.84 708.80h7.55v3.7h-7.55zM880.46 708.80h7.55v3.7h-7.55zM894.81 708.80h7.55v3.7h-7.55zM909.16 708.80h7.55v3.7h-7.55zM923.51 708.80h7.55v3.7h-7.55zM937.86 708.80h7.55v3.7h-7.55zM952.21 708.80h7.55v3.7h-7.55zM966.56 708.80h7.55v3.7h-7.55zM982.18 708.80h7.55v3.7h-7.55zM996.53 708.80h7.55v3.7h-7.55zM1010.88 708.80h7.55v3.7h-7.55zM1025.23 708.80h7.55v3.7h-7.55zM1039.58 708.80h7.55v3.7h-7.55zM1053.93 708.80h7.55v3.7h-7.55zM1068.28 708.80h7.55v3.7h-7.55zM1083.90 708.80h7.55v3.7h-7.55zM1098.25 708.80h7.55v3.7h-7.55zM1112.60 708.80h7.55v3.7h-7.55zM1126.95 708.80h7.55v3.7h-7.55zM1141.30 708.80h7.55v3.7h-7.55zM1155.65 708.80h7.55v3.7h-7.55zM1170.00 708.80h7.55v3.7h-7.55zM1185.62 708.80h7.55v3.7h-7.55zM1199.97 708.80h7.55v3.7h-7.55zM1214.32 708.80h7.55v3.7h-7.55zM1228.67 708.80h7.55v3.7h-7.55zM1243.02 708.80h7.55v3.7h-7.55zM1257.37 708.80h7.55v3.7h-7.55zM1271.72 708.80h7.55v3.7h-7.55zM1287.34 708.80h7.55v3.7h-7.55zM1301.69 708.80h7.55v3.7h-7.55zM1316.04 708.80h7.55v3.7h-7.55zM1330.39 708.80h7.55v3.7h-7.55zM1344.74 708.80h7.55v3.7h-7.55zM1359.09 708.80h7.55v3.7h-7.55zM1373.44 708.80h7.55v3.7h-7.55zM1389.06 708.80h7.55v3.7h-7.55zM1403.41 708.80h7.55v3.7h-7.55zM1417.76 708.80h7.55v3.7h-7.55zM1432.11 708.80h7.55v3.7h-7.55zM1446.46 708.80h7.55v3.7h-7.55zM1460.81 708.80h7.55v3.7h-7.55zM1475.16 708.80h7.55v3.7h-7.55zM1490.78 708.80h7.55v3.7h-7.55zM1505.12 708.80h7.55v3.7h-7.55zM1519.48 708.80h7.55v3.7h-7.55zM1533.83 708.80h7.55v3.7h-7.55zM1548.18 708.80h7.55v3.7h-7.55zM1562.53 708.80h7.55v3.7h-7.55zM1576.88 708.80h7.55v3.7h-7.55zM1592.49 708.80h7.55v3.7h-7.55zM1606.84 708.80h7.55v3.7h-7.55zM1621.19 708.80h7.55v3.7h-7.55zM1635.54 708.80h7.55v3.7h-7.55zM1649.89 708.80h7.55v3.7h-7.55zM1664.24 708.80h7.55v3.7h-7.55zM1678.59 708.80h7.55v3.7h-7.55zM1694.21 708.80h7.55v3.7h-7.55zM1708.56 708.80h7.55v3.7h-7.55zM1722.91 708.80h7.55v3.7h-7.55zM1737.26 708.80h7.55v3.7h-7.55zM1751.61 708.80h7.55v3.7h-7.55zM1765.96 708.80h7.55v3.7h-7.55zM1780.31 708.80h7.55v3.7h-7.55zM1795.93 708.80h7.55v3.7h-7.55zM1810.28 708.80h7.55v3.7h-7.55zM1824.63 708.80h7.55v3.7h-7.55zM1838.98 708.80h7.55v3.7h-7.55zM1853.33 708.80h7.55v3.7h-7.55zM1867.68 708.80h7.55v3.7h-7.55zM1882.03 708.80h7.55v3.7h-7.55z"/><path fill="#a5db36" d="M271.00 708.80h5.95v3.7h-5.95zM285.35 708.80h5.95v3.7h-5.95zM299.70 708.80h5.95v3.7h-5.95zM314.05 708.80h5.95v3.7h-5.95zM328.40 708.80h5.95v3.7h-5.95zM342.75 708.80h5.95v3.7h-5.95zM357.10 708.80h5.95v3.7h-5.95zM372.72 708.80h5.95v3.7h-5.95zM387.07 708.80h5.95v3.7h-5.95zM401.42 708.80h5.95v3.7h-5.95zM415.77 708.80h5.95v3.7h-5.95zM430.12 708.80h5.95v3.7h-5.95zM444.47 708.80h5.95v3.7h-5.95zM458.82 708.80h5.95v3.7h-5.95zM474.44 708.80h5.95v3.7h-5.95zM488.79 708.80h5.95v3.7h-5.95zM503.14 708.80h5.95v3.7h-5.95zM517.49 708.80h5.95v3.7h-5.95zM531.84 708.80h5.95v3.7h-5.95zM546.19 708.80h5.95v3.7h-5.95zM560.54 708.80h5.95v3.7h-5.95zM576.16 708.80h5.95v3.7h-5.95zM590.51 708.80h5.95v3.7h-5.95zM604.86 708.80h5.95v3.7h-5.95zM619.21 708.80h5.95v3.7h-5.95zM633.56 708.80h5.95v3.7h-5.95zM647.91 708.80h5.95v3.7h-5.95zM662.26 708.80h5.95v3.7h-5.95zM677.88 708.80h5.95v3.7h-5.95zM692.23 708.80h5.95v3.7h-5.95zM706.58 708.80h5.95v3.7h-5.95zM720.92 708.80h5.95v3.7h-5.95zM735.27 708.80h5.95v3.7h-5.95zM749.62 708.80h5.95v3.7h-5.95zM763.98 708.80h5.95v3.7h-5.95zM779.59 708.80h5.95v3.7h-5.95zM793.94 708.80h5.95v3.7h-5.95zM808.29 708.80h5.95v3.7h-5.95zM822.64 708.80h5.95v3.7h-5.95zM836.99 708.80h5.95v3.7h-5.95zM851.34 708.80h5.95v3.7h-5.95zM865.69 708.80h5.95v3.7h-5.95zM881.31 708.80h5.95v3.7h-5.95zM895.66 708.80h5.95v3.7h-5.95zM910.01 708.80h5.95v3.7h-5.95zM924.36 708.80h5.95v3.7h-5.95zM938.71 708.80h5.95v3.7h-5.95zM953.06 708.80h5.95v3.7h-5.95zM967.41 708.80h5.95v3.7h-5.95zM983.03 708.80h5.95v3.7h-5.95zM997.38 708.80h5.95v3.7h-5.95zM1011.73 708.80h5.95v3.7h-5.95zM1026.08 708.80h5.95v3.7h-5.95zM1040.43 708.80h5.95v3.7h-5.95zM1054.78 708.80h5.95v3.7h-5.95zM1069.13 708.80h5.95v3.7h-5.95zM1084.75 708.80h5.95v3.7h-5.95zM1099.10 708.80h5.95v3.7h-5.95zM1113.45 708.80h5.95v3.7h-5.95zM1127.80 708.80h5.95v3.7h-5.95zM1142.15 708.80h5.95v3.7h-5.95zM1156.50 708.80h5.95v3.7h-5.95zM1170.85 708.80h5.95v3.7h-5.95zM1186.47 708.80h5.95v3.7h-5.95zM1200.82 708.80h5.95v3.7h-5.95zM1215.17 708.80h5.95v3.7h-5.95zM1229.52 708.80h5.95v3.7h-5.95zM1243.87 708.80h5.95v3.7h-5.95zM1258.22 708.80h5.95v3.7h-5.95zM1272.57 708.80h5.95v3.7h-5.95zM1288.19 708.80h5.95v3.7h-5.95zM1302.54 708.80h5.95v3.7h-5.95zM1316.89 708.80h5.95v3.7h-5.95zM1331.24 708.80h5.95v3.7h-5.95zM1345.59 708.80h5.95v3.7h-5.95zM1359.94 708.80h5.95v3.7h-5.95zM1374.29 708.80h5.95v3.7h-5.95zM1389.91 708.80h5.95v3.7h-5.95zM1404.26 708.80h5.95v3.7h-5.95zM1418.61 708.80h5.95v3.7h-5.95zM1432.96 708.80h5.95v3.7h-5.95zM1447.31 708.80h5.95v3.7h-5.95zM1461.66 708.80h5.95v3.7h-5.95zM1476.01 708.80h5.95v3.7h-5.95zM1491.62 708.80h5.95v3.7h-5.95zM1505.97 708.80h5.95v3.7h-5.95zM1520.33 708.80h5.95v3.7h-5.95zM1534.67 708.80h5.95v3.7h-5.95zM1549.03 708.80h5.95v3.7h-5.95zM1563.38 708.80h5.95v3.7h-5.95zM1577.72 708.80h5.95v3.7h-5.95zM1593.34 708.80h5.95v3.7h-5.95zM1607.69 708.80h5.95v3.7h-5.95zM1622.04 708.80h5.95v3.7h-5.95zM1636.39 708.80h5.95v3.7h-5.95zM1650.74 708.80h5.95v3.7h-5.95zM1665.09 708.80h5.95v3.7h-5.95zM1679.44 708.80h5.95v3.7h-5.95zM1695.06 708.80h5.95v3.7h-5.95zM1709.41 708.80h5.95v3.7h-5.95zM1723.76 708.80h5.95v3.7h-5.95zM1738.11 708.80h5.95v3.7h-5.95zM1752.46 708.80h5.95v3.7h-5.95zM1766.81 708.80h5.95v3.7h-5.95zM1781.16 708.80h5.95v3.7h-5.95zM1796.78 708.80h5.95v3.7h-5.95zM1811.13 708.80h5.95v3.7h-5.95zM1825.48 708.80h5.95v3.7h-5.95zM1839.83 708.80h5.95v3.7h-5.95zM1854.18 708.80h5.95v3.7h-5.95zM1868.53 708.80h5.95v3.7h-5.95zM1882.88 708.80h5.95v3.7h-5.95z"/><path fill="#fde725" d="M271.10 709.65h5.75v2.85h-5.75zM285.45 709.65h5.75v2.85h-5.75zM299.80 709.65h5.75v2.85h-5.75zM314.15 709.65h5.75v2.85h-5.75zM328.50 709.65h5.75v2.85h-5.75zM342.85 709.65h5.75v2.85h-5.75zM357.20 709.65h5.75v2.85h-5.75zM372.82 709.65h5.75v2.85h-5.75zM387.17 709.65h5.75v2.85h-5.75zM401.52 709.65h5.75v2.85h-5.75zM415.87 709.65h5.75v2.85h-5.75zM430.22 709.65h5.75v2.85h-5.75zM444.57 709.65h5.75v2.85h-5.75zM458.92 709.65h5.75v2.85h-5.75zM474.54 709.65h5.75v2.85h-5.75zM488.89 709.65h5.75v2.85h-5.75zM503.24 709.65h5.75v2.85h-5.75zM517.59 709.65h5.75v2.85h-5.75zM531.94 709.65h5.75v2.85h-5.75zM546.29 709.65h5.75v2.85h-5.75zM560.64 709.65h5.75v2.85h-5.75zM576.26 709.65h5.75v2.85h-5.75zM590.61 709.65h5.75v2.85h-5.75zM604.96 709.65h5.75v2.85h-5.75zM619.31 709.65h5.75v2.85h-5.75zM633.66 709.65h5.75v2.85h-5.75zM648.01 709.65h5.75v2.85h-5.75zM662.36 709.65h5.75v2.85h-5.75zM677.98 709.65h5.75v2.85h-5.75zM692.33 709.65h5.75v2.85h-5.75zM706.68 709.65h5.75v2.85h-5.75zM721.02 709.65h5.75v2.85h-5.75zM735.38 709.65h5.75v2.85h-5.75zM749.73 709.65h5.75v2.85h-5.75zM764.08 709.65h5.75v2.85h-5.75zM779.69 709.65h5.75v2.85h-5.75zM794.04 709.65h5.75v2.85h-5.75zM808.39 709.65h5.75v2.85h-5.75zM822.74 709.65h5.75v2.85h-5.75zM837.09 709.65h5.75v2.85h-5.75zM851.44 709.65h5.75v2.85h-5.75zM865.79 709.65h5.75v2.85h-5.75zM881.41 709.65h5.75v2.85h-5.75zM895.76 709.65h5.75v2.85h-5.75zM910.11 709.65h5.75v2.85h-5.75zM924.46 709.65h5.75v2.85h-5.75zM938.81 709.65h5.75v2.85h-5.75zM953.16 709.65h5.75v2.85h-5.75zM967.51 709.65h5.75v2.85h-5.75zM983.13 709.65h5.75v2.85h-5.75zM997.48 709.65h5.75v2.85h-5.75zM1011.83 709.65h5.75v2.85h-5.75zM1026.18 709.65h5.75v2.85h-5.75zM1040.53 709.65h5.75v2.85h-5.75zM1054.88 709.65h5.75v2.85h-5.75zM1069.23 709.65h5.75v2.85h-5.75zM1084.85 709.65h5.75v2.85h-5.75zM1099.20 709.65h5.75v2.85h-5.75zM1113.55 709.65h5.75v2.85h-5.75zM1127.90 709.65h5.75v2.85h-5.75zM1142.25 709.65h5.75v2.85h-5.75zM1156.60 709.65h5.75v2.85h-5.75zM1170.95 709.65h5.75v2.85h-5.75zM1186.57 709.65h5.75v2.85h-5.75zM1200.92 709.65h5.75v2.85h-5.75zM1215.27 709.65h5.75v2.85h-5.75zM1229.62 709.65h5.75v2.85h-5.75zM1243.97 709.65h5.75v2.85h-5.75zM1258.32 709.65h5.75v2.85h-5.75zM1272.67 709.65h5.75v2.85h-5.75zM1288.29 709.65h5.75v2.85h-5.75zM1302.64 709.65h5.75v2.85h-5.75zM1316.99 709.65h5.75v2.85h-5.75zM1331.34 709.65h5.75v2.85h-5.75zM1345.69 709.65h5.75v2.85h-5.75zM1360.04 709.65h5.75v2.85h-5.75zM1374.39 709.65h5.75v2.85h-5.75zM1390.01 709.65h5.75v2.85h-5.75zM1404.36 709.65h5.75v2.85h-5.75zM1418.71 709.65h5.75v2.85h-5.75zM1433.06 709.65h5.75v2.85h-5.75zM1447.41 709.65h5.75v2.85h-5.75zM1461.76 709.65h5.75v2.85h-5.75zM1476.11 709.65h5.75v2.85h-5.75zM1491.73 709.65h5.75v2.85h-5.75zM1506.08 709.65h5.75v2.85h-5.75zM1520.43 709.65h5.75v2.85h-5.75zM1534.78 709.65h5.75v2.85h-5.75zM1549.13 709.65h5.75v2.85h-5.75zM1563.48 709.65h5.75v2.85h-5.75zM1577.83 709.65h5.75v2.85h-5.75zM1593.44 709.65h5.75v2.85h-5.75zM1607.79 709.65h5.75v2.85h-5.75zM1622.14 709.65h5.75v2.85h-5.75zM1636.49 709.65h5.75v2.85h-5.75zM1650.84 709.65h5.75v2.85h-5.75zM1665.19 709.65h5.75v2.85h-5.75zM1679.54 709.65h5.75v2.85h-5.75zM1695.16 709.65h5.75v2.85h-5.75zM1709.51 709.65h5.75v2.85h-5.75zM1723.86 709.65h5.75v2.85h-5.75zM1738.21 709.65h5.75v2.85h-5.75zM1752.56 709.65h5.75v2.85h-5.75zM1766.91 709.65h5.75v2.85h-5.75zM1781.26 709.65h5.75v2.85h-5.75zM1796.88 709.65h5.75v2.85h-5.75zM1811.23 709.65h5.75v2.85h-5.75zM1825.58 709.65h5.75v2.85h-5.75zM1839.93 709.65h5.75v2.85h-5.75zM1854.28 709.65h5.75v2.85h-5.75zM1868.63 709.65h5.75v2.85h-5.75zM1882.98 709.65h5.75v2.85h-5.75z"/>
</g>
<rect x="491.3" y="357.9" width="3.4" height="1.2" rx="0.6" fill="#3f6f9f" opacity="0.55"/>
<rect x="1461" y="278.6" width="3.2" height="1.1" rx="0.5" fill="#4a3f8f" opacity="0.6"/>
<g fill="#000">
<rect x="262.945" y="95.945" width="1628.110" height="1.111"/>
<rect x="262.945" y="190.945" width="1628.110" height="1.111"/>
<rect x="262.945" y="95.900" width="1.111" height="96.250"/>
<rect x="363.945" y="95.900" width="1.111" height="96.250"/>
<rect x="465.945" y="95.900" width="1.111" height="96.250"/>
<rect x="567.944" y="95.900" width="1.111" height="96.250"/>
<rect x="668.944" y="95.900" width="1.111" height="96.250"/>
<rect x="770.944" y="95.900" width="1.111" height="96.250"/>
<rect x="872.944" y="95.900" width="1.111" height="96.250"/>
<rect x="974.944" y="95.900" width="1.111" height="96.250"/>
<rect x="1075.945" y="95.900" width="1.111" height="96.250"/>
<rect x="1177.945" y="95.900" width="1.111" height="96.250"/>
<rect x="1279.945" y="95.900" width="1.111" height="96.250"/>
<rect x="1380.945" y="95.900" width="1.111" height="96.250"/>
<rect x="1482.945" y="95.900" width="1.111" height="96.250"/>
<rect x="1584.945" y="95.900" width="1.111" height="96.250"/>
<rect x="1686.945" y="95.900" width="1.111" height="96.250"/>
<rect x="1787.945" y="95.900" width="1.111" height="96.250"/>
<rect x="1889.945" y="95.900" width="1.111" height="96.250"/>
<rect x="974" y="96" width="1.3" height="96"/>
<rect x="258.50" y="95.945" width="5" height="1.111"/>
<rect x="258.50" y="127.945" width="5" height="1.111"/>
<rect x="258.50" y="158.945" width="5" height="1.111"/>
<rect x="258.50" y="190.945" width="5" height="1.111"/>
<rect x="359.50" y="95.945" width="5" height="1.111"/>
<rect x="359.50" y="127.945" width="5" height="1.111"/>
<rect x="359.50" y="158.945" width="5" height="1.111"/>
<rect x="359.50" y="190.945" width="5" height="1.111"/>
<rect x="461.50" y="95.945" width="5" height="1.111"/>
<rect x="461.50" y="127.945" width="5" height="1.111"/>
<rect x="461.50" y="158.945" width="5" height="1.111"/>
<rect x="461.50" y="190.945" width="5" height="1.111"/>
<rect x="563.50" y="95.945" width="5" height="1.111"/>
<rect x="563.50" y="127.945" width="5" height="1.111"/>
<rect x="563.50" y="158.945" width="5" height="1.111"/>
<rect x="563.50" y="190.945" width="5" height="1.111"/>
<rect x="664.50" y="95.945" width="5" height="1.111"/>
<rect x="664.50" y="127.945" width="5" height="1.111"/>
<rect x="664.50" y="158.945" width="5" height="1.111"/>
<rect x="664.50" y="190.945" width="5" height="1.111"/>
<rect x="766.50" y="95.945" width="5" height="1.111"/>
<rect x="766.50" y="127.945" width="5" height="1.111"/>
<rect x="766.50" y="158.945" width="5" height="1.111"/>
<rect x="766.50" y="190.945" width="5" height="1.111"/>
<rect x="868.50" y="95.945" width="5" height="1.111"/>
<rect x="868.50" y="127.945" width="5" height="1.111"/>
<rect x="868.50" y="158.945" width="5" height="1.111"/>
<rect x="868.50" y="190.945" width="5" height="1.111"/>
<rect x="970.50" y="95.945" width="5" height="1.111"/>
<rect x="970.50" y="127.945" width="5" height="1.111"/>
<rect x="970.50" y="158.945" width="5" height="1.111"/>
<rect x="970.50" y="190.945" width="5" height="1.111"/>
<rect x="1071.50" y="95.945" width="5" height="1.111"/>
<rect x="1071.50" y="127.945" width="5" height="1.111"/>
<rect x="1071.50" y="158.945" width="5" height="1.111"/>
<rect x="1071.50" y="190.945" width="5" height="1.111"/>
<rect x="1173.50" y="95.945" width="5" height="1.111"/>
<rect x="1173.50" y="127.945" width="5" height="1.111"/>
<rect x="1173.50" y="158.945" width="5" height="1.111"/>
<rect x="1173.50" y="190.945" width="5" height="1.111"/>
<rect x="1275.50" y="95.945" width="5" height="1.111"/>
<rect x="1275.50" y="127.945" width="5" height="1.111"/>
<rect x="1275.50" y="158.945" width="5" height="1.111"/>
<rect x="1275.50" y="190.945" width="5" height="1.111"/>
<rect x="1376.50" y="95.945" width="5" height="1.111"/>
<rect x="1376.50" y="127.945" width="5" height="1.111"/>
<rect x="1376.50" y="158.945" width="5" height="1.111"/>
<rect x="1376.50" y="190.945" width="5" height="1.111"/>
<rect x="1478.50" y="95.945" width="5" height="1.111"/>
<rect x="1478.50" y="127.945" width="5" height="1.111"/>
<rect x="1478.50" y="158.945" width="5" height="1.111"/>
<rect x="1478.50" y="190.945" width="5" height="1.111"/>
<rect x="1580.50" y="95.945" width="5" height="1.111"/>
<rect x="1580.50" y="127.945" width="5" height="1.111"/>
<rect x="1580.50" y="158.945" width="5" height="1.111"/>
<rect x="1580.50" y="190.945" width="5" height="1.111"/>
<rect x="1682.50" y="95.945" width="5" height="1.111"/>
<rect x="1682.50" y="127.945" width="5" height="1.111"/>
<rect x="1682.50" y="158.945" width="5" height="1.111"/>
<rect x="1682.50" y="190.945" width="5" height="1.111"/>
<rect x="1783.50" y="95.945" width="5" height="1.111"/>
<rect x="1783.50" y="127.945" width="5" height="1.111"/>
<rect x="1783.50" y="158.945" width="5" height="1.111"/>
<rect x="1783.50" y="190.945" width="5" height="1.111"/>
<rect x="262.945" y="199.945" width="1628.110" height="1.111"/>
<rect x="262.945" y="294.945" width="1628.110" height="1.111"/>
<rect x="262.945" y="199.900" width="1.111" height="96.250"/>
<rect x="363.945" y="199.900" width="1.111" height="96.250"/>
<rect x="465.945" y="199.900" width="1.111" height="96.250"/>
<rect x="567.944" y="199.900" width="1.111" height="96.250"/>
<rect x="668.944" y="199.900" width="1.111" height="96.250"/>
<rect x="770.944" y="199.900" width="1.111" height="96.250"/>
<rect x="872.944" y="199.900" width="1.111" height="96.250"/>
<rect x="974.944" y="199.900" width="1.111" height="96.250"/>
<rect x="1075.945" y="199.900" width="1.111" height="96.250"/>
<rect x="1177.945" y="199.900" width="1.111" height="96.250"/>
<rect x="1279.945" y="199.900" width="1.111" height="96.250"/>
<rect x="1380.945" y="199.900" width="1.111" height="96.250"/>
<rect x="1482.945" y="199.900" width="1.111" height="96.250"/>
<rect x="1584.945" y="199.900" width="1.111" height="96.250"/>
<rect x="1686.945" y="199.900" width="1.111" height="96.250"/>
<rect x="1787.945" y="199.900" width="1.111" height="96.250"/>
<rect x="1889.945" y="199.900" width="1.111" height="96.250"/>
<rect x="974" y="200" width="1.3" height="96"/>
<rect x="258.50" y="199.945" width="5" height="1.111"/>
<rect x="258.50" y="231.945" width="5" height="1.111"/>
<rect x="258.50" y="262.945" width="5" height="1.111"/>
<rect x="258.50" y="294.945" width="5" height="1.111"/>
<rect x="359.50" y="199.945" width="5" height="1.111"/>
<rect x="359.50" y="231.945" width="5" height="1.111"/>
<rect x="359.50" y="262.945" width="5" height="1.111"/>
<rect x="359.50" y="294.945" width="5" height="1.111"/>
<rect x="461.50" y="199.945" width="5" height="1.111"/>
<rect x="461.50" y="231.945" width="5" height="1.111"/>
<rect x="461.50" y="262.945" width="5" height="1.111"/>
<rect x="461.50" y="294.945" width="5" height="1.111"/>
<rect x="563.50" y="199.945" width="5" height="1.111"/>
<rect x="563.50" y="231.945" width="5" height="1.111"/>
<rect x="563.50" y="262.945" width="5" height="1.111"/>
<rect x="563.50" y="294.945" width="5" height="1.111"/>
<rect x="664.50" y="199.945" width="5" height="1.111"/>
<rect x="664.50" y="231.945" width="5" height="1.111"/>
<rect x="664.50" y="262.945" width="5" height="1.111"/>
<rect x="664.50" y="294.945" width="5" height="1.111"/>
<rect x="766.50" y="199.945" width="5" height="1.111"/>
<rect x="766.50" y="231.945" width="5" height="1.111"/>
<rect x="766.50" y="262.945" width="5" height="1.111"/>
<rect x="766.50" y="294.945" width="5" height="1.111"/>
<rect x="868.50" y="199.945" width="5" height="1.111"/>
<rect x="868.50" y="231.945" width="5" height="1.111"/>
<rect x="868.50" y="262.945" width="5" height="1.111"/>
<rect x="868.50" y="294.945" width="5" height="1.111"/>
<rect x="970.50" y="199.945" width="5" height="1.111"/>
<rect x="970.50" y="231.945" width="5" height="1.111"/>
<rect x="970.50" y="262.945" width="5" height="1.111"/>
<rect x="970.50" y="294.945" width="5" height="1.111"/>
<rect x="1071.50" y="199.945" width="5" height="1.111"/>
<rect x="1071.50" y="231.945" width="5" height="1.111"/>
<rect x="1071.50" y="262.945" width="5" height="1.111"/>
<rect x="1071.50" y="294.945" width="5" height="1.111"/>
<rect x="1173.50" y="199.945" width="5" height="1.111"/>
<rect x="1173.50" y="231.945" width="5" height="1.111"/>
<rect x="1173.50" y="262.945" width="5" height="1.111"/>
<rect x="1173.50" y="294.945" width="5" height="1.111"/>
<rect x="1275.50" y="199.945" width="5" height="1.111"/>
<rect x="1275.50" y="231.945" width="5" height="1.111"/>
<rect x="1275.50" y="262.945" width="5" height="1.111"/>
<rect x="1275.50" y="294.945" width="5" height="1.111"/>
<rect x="1376.50" y="199.945" width="5" height="1.111"/>
<rect x="1376.50" y="231.945" width="5" height="1.111"/>
<rect x="1376.50" y="262.945" width="5" height="1.111"/>
<rect x="1376.50" y="294.945" width="5" height="1.111"/>
<rect x="1478.50" y="199.945" width="5" height="1.111"/>
<rect x="1478.50" y="231.945" width="5" height="1.111"/>
<rect x="1478.50" y="262.945" width="5" height="1.111"/>
<rect x="1478.50" y="294.945" width="5" height="1.111"/>
<rect x="1580.50" y="199.945" width="5" height="1.111"/>
<rect x="1580.50" y="231.945" width="5" height="1.111"/>
<rect x="1580.50" y="262.945" width="5" height="1.111"/>
<rect x="1580.50" y="294.945" width="5" height="1.111"/>
<rect x="1682.50" y="199.945" width="5" height="1.111"/>
<rect x="1682.50" y="231.945" width="5" height="1.111"/>
<rect x="1682.50" y="262.945" width="5" height="1.111"/>
<rect x="1682.50" y="294.945" width="5" height="1.111"/>
<rect x="1783.50" y="199.945" width="5" height="1.111"/>
<rect x="1783.50" y="231.945" width="5" height="1.111"/>
<rect x="1783.50" y="262.945" width="5" height="1.111"/>
<rect x="1783.50" y="294.945" width="5" height="1.111"/>
<rect x="262.945" y="303.945" width="1628.110" height="1.111"/>
<rect x="262.945" y="398.945" width="1628.110" height="1.111"/>
<rect x="262.945" y="303.900" width="1.111" height="96.250"/>
<rect x="363.945" y="303.900" width="1.111" height="96.250"/>
<rect x="465.945" y="303.900" width="1.111" height="96.250"/>
<rect x="567.944" y="303.900" width="1.111" height="96.250"/>
<rect x="668.944" y="303.900" width="1.111" height="96.250"/>
<rect x="770.944" y="303.900" width="1.111" height="96.250"/>
<rect x="872.944" y="303.900" width="1.111" height="96.250"/>
<rect x="974.944" y="303.900" width="1.111" height="96.250"/>
<rect x="1075.945" y="303.900" width="1.111" height="96.250"/>
<rect x="1177.945" y="303.900" width="1.111" height="96.250"/>
<rect x="1279.945" y="303.900" width="1.111" height="96.250"/>
<rect x="1380.945" y="303.900" width="1.111" height="96.250"/>
<rect x="1482.945" y="303.900" width="1.111" height="96.250"/>
<rect x="1584.945" y="303.900" width="1.111" height="96.250"/>
<rect x="1686.945" y="303.900" width="1.111" height="96.250"/>
<rect x="1787.945" y="303.900" width="1.111" height="96.250"/>
<rect x="1889.945" y="303.900" width="1.111" height="96.250"/>
<rect x="974" y="304" width="1.3" height="96"/>
<rect x="258.50" y="303.945" width="5" height="1.111"/>
<rect x="258.50" y="335.945" width="5" height="1.111"/>
<rect x="258.50" y="367.945" width="5" height="1.111"/>
<rect x="258.50" y="398.945" width="5" height="1.111"/>
<rect x="359.50" y="303.945" width="5" height="1.111"/>
<rect x="359.50" y="335.945" width="5" height="1.111"/>
<rect x="359.50" y="367.945" width="5" height="1.111"/>
<rect x="359.50" y="398.945" width="5" height="1.111"/>
<rect x="461.50" y="303.945" width="5" height="1.111"/>
<rect x="461.50" y="335.945" width="5" height="1.111"/>
<rect x="461.50" y="367.945" width="5" height="1.111"/>
<rect x="461.50" y="398.945" width="5" height="1.111"/>
<rect x="563.50" y="303.945" width="5" height="1.111"/>
<rect x="563.50" y="335.945" width="5" height="1.111"/>
<rect x="563.50" y="367.945" width="5" height="1.111"/>
<rect x="563.50" y="398.945" width="5" height="1.111"/>
<rect x="664.50" y="303.945" width="5" height="1.111"/>
<rect x="664.50" y="335.945" width="5" height="1.111"/>
<rect x="664.50" y="367.945" width="5" height="1.111"/>
<rect x="664.50" y="398.945" width="5" height="1.111"/>
<rect x="766.50" y="303.945" width="5" height="1.111"/>
<rect x="766.50" y="335.945" width="5" height="1.111"/>
<rect x="766.50" y="367.945" width="5" height="1.111"/>
<rect x="766.50" y="398.945" width="5" height="1.111"/>
<rect x="868.50" y="303.945" width="5" height="1.111"/>
<rect x="868.50" y="335.945" width="5" height="1.111"/>
<rect x="868.50" y="367.945" width="5" height="1.111"/>
<rect x="868.50" y="398.945" width="5" height="1.111"/>
<rect x="970.50" y="303.945" width="5" height="1.111"/>
<rect x="970.50" y="335.945" width="5" height="1.111"/>
<rect x="970.50" y="367.945" width="5" height="1.111"/>
<rect x="970.50" y="398.945" width="5" height="1.111"/>
<rect x="1071.50" y="303.945" width="5" height="1.111"/>
<rect x="1071.50" y="335.945" width="5" height="1.111"/>
<rect x="1071.50" y="367.945" width="5" height="1.111"/>
<rect x="1071.50" y="398.945" width="5" height="1.111"/>
<rect x="1173.50" y="303.945" width="5" height="1.111"/>
<rect x="1173.50" y="335.945" width="5" height="1.111"/>
<rect x="1173.50" y="367.945" width="5" height="1.111"/>
<rect x="1173.50" y="398.945" width="5" height="1.111"/>
<rect x="1275.50" y="303.945" width="5" height="1.111"/>
<rect x="1275.50" y="335.945" width="5" height="1.111"/>
<rect x="1275.50" y="367.945" width="5" height="1.111"/>
<rect x="1275.50" y="398.945" width="5" height="1.111"/>
<rect x="1376.50" y="303.945" width="5" height="1.111"/>
<rect x="1376.50" y="335.945" width="5" height="1.111"/>
<rect x="1376.50" y="367.945" width="5" height="1.111"/>
<rect x="1376.50" y="398.945" width="5" height="1.111"/>
<rect x="1478.50" y="303.945" width="5" height="1.111"/>
<rect x="1478.50" y="335.945" width="5" height="1.111"/>
<rect x="1478.50" y="367.945" width="5" height="1.111"/>
<rect x="1478.50" y="398.945" width="5" height="1.111"/>
<rect x="1580.50" y="303.945" width="5" height="1.111"/>
<rect x="1580.50" y="335.945" width="5" height="1.111"/>
<rect x="1580.50" y="367.945" width="5" height="1.111"/>
<rect x="1580.50" y="398.945" width="5" height="1.111"/>
<rect x="1682.50" y="303.945" width="5" height="1.111"/>
<rect x="1682.50" y="335.945" width="5" height="1.111"/>
<rect x="1682.50" y="367.945" width="5" height="1.111"/>
<rect x="1682.50" y="398.945" width="5" height="1.111"/>
<rect x="1783.50" y="303.945" width="5" height="1.111"/>
<rect x="1783.50" y="335.945" width="5" height="1.111"/>
<rect x="1783.50" y="367.945" width="5" height="1.111"/>
<rect x="1783.50" y="398.945" width="5" height="1.111"/>
<rect x="262.945" y="408.945" width="1628.110" height="1.111"/>
<rect x="262.945" y="503.945" width="1628.110" height="1.111"/>
<rect x="262.945" y="408.900" width="1.111" height="96.250"/>
<rect x="363.945" y="408.900" width="1.111" height="96.250"/>
<rect x="465.945" y="408.900" width="1.111" height="96.250"/>
<rect x="567.944" y="408.900" width="1.111" height="96.250"/>
<rect x="668.944" y="408.900" width="1.111" height="96.250"/>
<rect x="770.944" y="408.900" width="1.111" height="96.250"/>
<rect x="872.944" y="408.900" width="1.111" height="96.250"/>
<rect x="974.944" y="408.900" width="1.111" height="96.250"/>
<rect x="1075.945" y="408.900" width="1.111" height="96.250"/>
<rect x="1177.945" y="408.900" width="1.111" height="96.250"/>
<rect x="1279.945" y="408.900" width="1.111" height="96.250"/>
<rect x="1380.945" y="408.900" width="1.111" height="96.250"/>
<rect x="1482.945" y="408.900" width="1.111" height="96.250"/>
<rect x="1584.945" y="408.900" width="1.111" height="96.250"/>
<rect x="1686.945" y="408.900" width="1.111" height="96.250"/>
<rect x="1787.945" y="408.900" width="1.111" height="96.250"/>
<rect x="1889.945" y="408.900" width="1.111" height="96.250"/>
<rect x="974" y="409" width="1.3" height="96"/>
<rect x="258.50" y="408.945" width="5" height="1.111"/>
<rect x="258.50" y="439.945" width="5" height="1.111"/>
<rect x="258.50" y="471.945" width="5" height="1.111"/>
<rect x="258.50" y="503.945" width="5" height="1.111"/>
<rect x="359.50" y="408.945" width="5" height="1.111"/>
<rect x="359.50" y="439.945" width="5" height="1.111"/>
<rect x="359.50" y="471.945" width="5" height="1.111"/>
<rect x="359.50" y="503.945" width="5" height="1.111"/>
<rect x="461.50" y="408.945" width="5" height="1.111"/>
<rect x="461.50" y="439.945" width="5" height="1.111"/>
<rect x="461.50" y="471.945" width="5" height="1.111"/>
<rect x="461.50" y="503.945" width="5" height="1.111"/>
<rect x="563.50" y="408.945" width="5" height="1.111"/>
<rect x="563.50" y="439.945" width="5" height="1.111"/>
<rect x="563.50" y="471.945" width="5" height="1.111"/>
<rect x="563.50" y="503.945" width="5" height="1.111"/>
<rect x="664.50" y="408.945" width="5" height="1.111"/>
<rect x="664.50" y="439.945" width="5" height="1.111"/>
<rect x="664.50" y="471.945" width="5" height="1.111"/>
<rect x="664.50" y="503.945" width="5" height="1.111"/>
<rect x="766.50" y="408.945" width="5" height="1.111"/>
<rect x="766.50" y="439.945" width="5" height="1.111"/>
<rect x="766.50" y="471.945" width="5" height="1.111"/>
<rect x="766.50" y="503.945" width="5" height="1.111"/>
<rect x="868.50" y="408.945" width="5" height="1.111"/>
<rect x="868.50" y="439.945" width="5" height="1.111"/>
<rect x="868.50" y="471.945" width="5" height="1.111"/>
<rect x="868.50" y="503.945" width="5" height="1.111"/>
<rect x="970.50" y="408.945" width="5" height="1.111"/>
<rect x="970.50" y="439.945" width="5" height="1.111"/>
<rect x="970.50" y="471.945" width="5" height="1.111"/>
<rect x="970.50" y="503.945" width="5" height="1.111"/>
<rect x="1071.50" y="408.945" width="5" height="1.111"/>
<rect x="1071.50" y="439.945" width="5" height="1.111"/>
<rect x="1071.50" y="471.945" width="5" height="1.111"/>
<rect x="1071.50" y="503.945" width="5" height="1.111"/>
<rect x="1173.50" y="408.945" width="5" height="1.111"/>
<rect x="1173.50" y="439.945" width="5" height="1.111"/>
<rect x="1173.50" y="471.945" width="5" height="1.111"/>
<rect x="1173.50" y="503.945" width="5" height="1.111"/>
<rect x="1275.50" y="408.945" width="5" height="1.111"/>
<rect x="1275.50" y="439.945" width="5" height="1.111"/>
<rect x="1275.50" y="471.945" width="5" height="1.111"/>
<rect x="1275.50" y="503.945" width="5" height="1.111"/>
<rect x="1376.50" y="408.945" width="5" height="1.111"/>
<rect x="1376.50" y="439.945" width="5" height="1.111"/>
<rect x="1376.50" y="471.945" width="5" height="1.111"/>
<rect x="1376.50" y="503.945" width="5" height="1.111"/>
<rect x="1478.50" y="408.945" width="5" height="1.111"/>
<rect x="1478.50" y="439.945" width="5" height="1.111"/>
<rect x="1478.50" y="471.945" width="5" height="1.111"/>
<rect x="1478.50" y="503.945" width="5" height="1.111"/>
<rect x="1580.50" y="408.945" width="5" height="1.111"/>
<rect x="1580.50" y="439.945" width="5" height="1.111"/>
<rect x="1580.50" y="471.945" width="5" height="1.111"/>
<rect x="1580.50" y="503.945" width="5" height="1.111"/>
<rect x="1682.50" y="408.945" width="5" height="1.111"/>
<rect x="1682.50" y="439.945" width="5" height="1.111"/>
<rect x="1682.50" y="471.945" width="5" height="1.111"/>
<rect x="1682.50" y="503.945" width="5" height="1.111"/>
<rect x="1783.50" y="408.945" width="5" height="1.111"/>
<rect x="1783.50" y="439.945" width="5" height="1.111"/>
<rect x="1783.50" y="471.945" width="5" height="1.111"/>
<rect x="1783.50" y="503.945" width="5" height="1.111"/>
<rect x="262.945" y="512.944" width="1628.110" height="1.111"/>
<rect x="262.945" y="607.944" width="1628.110" height="1.111"/>
<rect x="262.945" y="512.900" width="1.111" height="96.250"/>
<rect x="363.945" y="512.900" width="1.111" height="96.250"/>
<rect x="465.945" y="512.900" width="1.111" height="96.250"/>
<rect x="567.944" y="512.900" width="1.111" height="96.250"/>
<rect x="668.944" y="512.900" width="1.111" height="96.250"/>
<rect x="770.944" y="512.900" width="1.111" height="96.250"/>
<rect x="872.944" y="512.900" width="1.111" height="96.250"/>
<rect x="974.944" y="512.900" width="1.111" height="96.250"/>
<rect x="1075.945" y="512.900" width="1.111" height="96.250"/>
<rect x="1177.945" y="512.900" width="1.111" height="96.250"/>
<rect x="1279.945" y="512.900" width="1.111" height="96.250"/>
<rect x="1380.945" y="512.900" width="1.111" height="96.250"/>
<rect x="1482.945" y="512.900" width="1.111" height="96.250"/>
<rect x="1584.945" y="512.900" width="1.111" height="96.250"/>
<rect x="1686.945" y="512.900" width="1.111" height="96.250"/>
<rect x="1787.945" y="512.900" width="1.111" height="96.250"/>
<rect x="1889.945" y="512.900" width="1.111" height="96.250"/>
<rect x="974" y="513" width="1.3" height="96"/>
<rect x="258.50" y="512.944" width="5" height="1.111"/>
<rect x="258.50" y="544.944" width="5" height="1.111"/>
<rect x="258.50" y="575.944" width="5" height="1.111"/>
<rect x="258.50" y="607.944" width="5" height="1.111"/>
<rect x="359.50" y="512.944" width="5" height="1.111"/>
<rect x="359.50" y="544.944" width="5" height="1.111"/>
<rect x="359.50" y="575.944" width="5" height="1.111"/>
<rect x="359.50" y="607.944" width="5" height="1.111"/>
<rect x="461.50" y="512.944" width="5" height="1.111"/>
<rect x="461.50" y="544.944" width="5" height="1.111"/>
<rect x="461.50" y="575.944" width="5" height="1.111"/>
<rect x="461.50" y="607.944" width="5" height="1.111"/>
<rect x="563.50" y="512.944" width="5" height="1.111"/>
<rect x="563.50" y="544.944" width="5" height="1.111"/>
<rect x="563.50" y="575.944" width="5" height="1.111"/>
<rect x="563.50" y="607.944" width="5" height="1.111"/>
<rect x="664.50" y="512.944" width="5" height="1.111"/>
<rect x="664.50" y="544.944" width="5" height="1.111"/>
<rect x="664.50" y="575.944" width="5" height="1.111"/>
<rect x="664.50" y="607.944" width="5" height="1.111"/>
<rect x="766.50" y="512.944" width="5" height="1.111"/>
<rect x="766.50" y="544.944" width="5" height="1.111"/>
<rect x="766.50" y="575.944" width="5" height="1.111"/>
<rect x="766.50" y="607.944" width="5" height="1.111"/>
<rect x="868.50" y="512.944" width="5" height="1.111"/>
<rect x="868.50" y="544.944" width="5" height="1.111"/>
<rect x="868.50" y="575.944" width="5" height="1.111"/>
<rect x="868.50" y="607.944" width="5" height="1.111"/>
<rect x="970.50" y="512.944" width="5" height="1.111"/>
<rect x="970.50" y="544.944" width="5" height="1.111"/>
<rect x="970.50" y="575.944" width="5" height="1.111"/>
<rect x="970.50" y="607.944" width="5" height="1.111"/>
<rect x="1071.50" y="512.944" width="5" height="1.111"/>
<rect x="1071.50" y="544.944" width="5" height="1.111"/>
<rect x="1071.50" y="575.944" width="5" height="1.111"/>
<rect x="1071.50" y="607.944" width="5" height="1.111"/>
<rect x="1173.50" y="512.944" width="5" height="1.111"/>
<rect x="1173.50" y="544.944" width="5" height="1.111"/>
<rect x="1173.50" y="575.944" width="5" height="1.111"/>
<rect x="1173.50" y="607.944" width="5" height="1.111"/>
<rect x="1275.50" y="512.944" width="5" height="1.111"/>
<rect x="1275.50" y="544.944" width="5" height="1.111"/>
<rect x="1275.50" y="575.944" width="5" height="1.111"/>
<rect x="1275.50" y="607.944" width="5" height="1.111"/>
<rect x="1376.50" y="512.944" width="5" height="1.111"/>
<rect x="1376.50" y="544.944" width="5" height="1.111"/>
<rect x="1376.50" y="575.944" width="5" height="1.111"/>
<rect x="1376.50" y="607.944" width="5" height="1.111"/>
<rect x="1478.50" y="512.944" width="5" height="1.111"/>
<rect x="1478.50" y="544.944" width="5" height="1.111"/>
<rect x="1478.50" y="575.944" width="5" height="1.111"/>
<rect x="1478.50" y="607.944" width="5" height="1.111"/>
<rect x="1580.50" y="512.944" width="5" height="1.111"/>
<rect x="1580.50" y="544.944" width="5" height="1.111"/>
<rect x="1580.50" y="575.944" width="5" height="1.111"/>
<rect x="1580.50" y="607.944" width="5" height="1.111"/>
<rect x="1682.50" y="512.944" width="5" height="1.111"/>
<rect x="1682.50" y="544.944" width="5" height="1.111"/>
<rect x="1682.50" y="575.944" width="5" height="1.111"/>
<rect x="1682.50" y="607.944" width="5" height="1.111"/>
<rect x="1783.50" y="512.944" width="5" height="1.111"/>
<rect x="1783.50" y="544.944" width="5" height="1.111"/>
<rect x="1783.50" y="575.944" width="5" height="1.111"/>
<rect x="1783.50" y="607.944" width="5" height="1.111"/>
<rect x="262.945" y="616.944" width="1628.110" height="1.111"/>
<rect x="262.945" y="711.944" width="1628.110" height="1.111"/>
<rect x="262.945" y="616.900" width="1.111" height="96.250"/>
<rect x="363.945" y="616.900" width="1.111" height="96.250"/>
<rect x="465.945" y="616.900" width="1.111" height="96.250"/>
<rect x="567.944" y="616.900" width="1.111" height="96.250"/>
<rect x="668.944" y="616.900" width="1.111" height="96.250"/>
<rect x="770.944" y="616.900" width="1.111" height="96.250"/>
<rect x="872.944" y="616.900" width="1.111" height="96.250"/>
<rect x="974.944" y="616.900" width="1.111" height="96.250"/>
<rect x="1075.945" y="616.900" width="1.111" height="96.250"/>
<rect x="1177.945" y="616.900" width="1.111" height="96.250"/>
<rect x="1279.945" y="616.900" width="1.111" height="96.250"/>
<rect x="1380.945" y="616.900" width="1.111" height="96.250"/>
<rect x="1482.945" y="616.900" width="1.111" height="96.250"/>
<rect x="1584.945" y="616.900" width="1.111" height="96.250"/>
<rect x="1686.945" y="616.900" width="1.111" height="96.250"/>
<rect x="1787.945" y="616.900" width="1.111" height="96.250"/>
<rect x="1889.945" y="616.900" width="1.111" height="96.250"/>
<rect x="974" y="617" width="1.3" height="96"/>
<rect x="258.50" y="616.944" width="5" height="1.111"/>
<rect x="258.50" y="648.944" width="5" height="1.111"/>
<rect x="258.50" y="679.944" width="5" height="1.111"/>
<rect x="258.50" y="711.944" width="5" height="1.111"/>
<rect x="359.50" y="616.944" width="5" height="1.111"/>
<rect x="359.50" y="648.944" width="5" height="1.111"/>
<rect x="359.50" y="679.944" width="5" height="1.111"/>
<rect x="359.50" y="711.944" width="5" height="1.111"/>
<rect x="461.50" y="616.944" width="5" height="1.111"/>
<rect x="461.50" y="648.944" width="5" height="1.111"/>
<rect x="461.50" y="679.944" width="5" height="1.111"/>
<rect x="461.50" y="711.944" width="5" height="1.111"/>
<rect x="563.50" y="616.944" width="5" height="1.111"/>
<rect x="563.50" y="648.944" width="5" height="1.111"/>
<rect x="563.50" y="679.944" width="5" height="1.111"/>
<rect x="563.50" y="711.944" width="5" height="1.111"/>
<rect x="664.50" y="616.944" width="5" height="1.111"/>
<rect x="664.50" y="648.944" width="5" height="1.111"/>
<rect x="664.50" y="679.944" width="5" height="1.111"/>
<rect x="664.50" y="711.944" width="5" height="1.111"/>
<rect x="766.50" y="616.944" width="5" height="1.111"/>
<rect x="766.50" y="648.944" width="5" height="1.111"/>
<rect x="766.50" y="679.944" width="5" height="1.111"/>
<rect x="766.50" y="711.944" width="5" height="1.111"/>
<rect x="868.50" y="616.944" width="5" height="1.111"/>
<rect x="868.50" y="648.944" width="5" height="1.111"/>
<rect x="868.50" y="679.944" width="5" height="1.111"/>
<rect x="868.50" y="711.944" width="5" height="1.111"/>
<rect x="970.50" y="616.944" width="5" height="1.111"/>
<rect x="970.50" y="648.944" width="5" height="1.111"/>
<rect x="970.50" y="679.944" width="5" height="1.111"/>
<rect x="970.50" y="711.944" width="5" height="1.111"/>
<rect x="1071.50" y="616.944" width="5" height="1.111"/>
<rect x="1071.50" y="648.944" width="5" height="1.111"/>
<rect x="1071.50" y="679.944" width="5" height="1.111"/>
<rect x="1071.50" y="711.944" width="5" height="1.111"/>
<rect x="1173.50" y="616.944" width="5" height="1.111"/>
<rect x="1173.50" y="648.944" width="5" height="1.111"/>
<rect x="1173.50" y="679.944" width="5" height="1.111"/>
<rect x="1173.50" y="711.944" width="5" height="1.111"/>
<rect x="1275.50" y="616.944" width="5" height="1.111"/>
<rect x="1275.50" y="648.944" width="5" height="1.111"/>
<rect x="1275.50" y="679.944" width="5" height="1.111"/>
<rect x="1275.50" y="711.944" width="5" height="1.111"/>
<rect x="1376.50" y="616.944" width="5" height="1.111"/>
<rect x="1376.50" y="648.944" width="5" height="1.111"/>
<rect x="1376.50" y="679.944" width="5" height="1.111"/>
<rect x="1376.50" y="711.944" width="5" height="1.111"/>
<rect x="1478.50" y="616.944" width="5" height="1.111"/>
<rect x="1478.50" y="648.944" width="5" height="1.111"/>
<rect x="1478.50" y="679.944" width="5" height="1.111"/>
<rect x="1478.50" y="711.944" width="5" height="1.111"/>
<rect x="1580.50" y="616.944" width="5" height="1.111"/>
<rect x="1580.50" y="648.944" width="5" height="1.111"/>
<rect x="1580.50" y="679.944" width="5" height="1.111"/>
<rect x="1580.50" y="711.944" width="5" height="1.111"/>
<rect x="1682.50" y="616.944" width="5" height="1.111"/>
<rect x="1682.50" y="648.944" width="5" height="1.111"/>
<rect x="1682.50" y="679.944" width="5" height="1.111"/>
<rect x="1682.50" y="711.944" width="5" height="1.111"/>
<rect x="1783.50" y="616.944" width="5" height="1.111"/>
<rect x="1783.50" y="648.944" width="5" height="1.111"/>
<rect x="1783.50" y="679.944" width="5" height="1.111"/>
<rect x="1783.50" y="711.944" width="5" height="1.111"/>
</g>
<g id="txt" opacity="0.999">
<text x="603.25" y="34.00" font-size="24.0" textLength="36.29" lengthAdjust="spacingAndGlyphs">Full</text>
<text x="648.35" y="34.00" font-size="24.0" textLength="39.64" lengthAdjust="spacingAndGlyphs">day</text>
<text x="695.43" y="34.00" font-size="24.0" textLength="81.67" lengthAdjust="spacingAndGlyphs">spectra</text>
<text x="786.27" y="34.00" font-size="24.0" textLength="127.12" lengthAdjust="spacingAndGlyphs">2025/12/22</text>
<text x="921.35" y="34.00" font-size="24.0" textLength="84.18" lengthAdjust="spacingAndGlyphs">station:</text>
<text x="1012.73" y="34.00" font-size="24.0" textLength="257.56" lengthAdjust="spacingAndGlyphs">NORWAY-NY-AALESUND</text>
<text x="1278.38" y="34.00" font-size="24.0" textLength="46.71" lengthAdjust="spacingAndGlyphs">with</text>
<text x="1331.85" y="34.00" font-size="24.0" textLength="128.69" lengthAdjust="spacingAndGlyphs">focus-code:</text>
<text x="1468.74" y="34.00" font-size="24.0" textLength="26.62" lengthAdjust="spacingAndGlyphs">01</text>
<text x="218.60" y="101.60" font-size="14.0" stroke="#000" stroke-width="0.12" textLength="33.34" lengthAdjust="spacingAndGlyphs">1600</text>
<text x="218.72" y="132.60" font-size="14.0" stroke="#000" stroke-width="0.12" textLength="32.92" lengthAdjust="spacingAndGlyphs">1400</text>
<text x="218.72" y="164.60" font-size="14.0" stroke="#000" stroke-width="0.12" textLength="32.92" lengthAdjust="spacingAndGlyphs">1200</text>
<text x="218.72" y="195.60" font-size="14.0" stroke="#000" stroke-width="0.12" textLength="32.92" lengthAdjust="spacingAndGlyphs">1000</text>
<text x="218.60" y="205.60" font-size="14.0" stroke="#000" stroke-width="0.12" textLength="33.34" lengthAdjust="spacingAndGlyphs">1600</text>
<text x="218.72" y="236.60" font-size="14.0" stroke="#000" stroke-width="0.12" textLength="32.92" lengthAdjust="spacingAndGlyphs">1400</text>
<text x="218.72" y="268.60" font-size="14.0" stroke="#000" stroke-width="0.12" textLength="32.92" lengthAdjust="spacingAndGlyphs">1200</text>
<text x="218.72" y="300.60" font-size="14.0" stroke="#000" stroke-width="0.12" textLength="32.92" lengthAdjust="spacingAndGlyphs">1000</text>
<text x="218.60" y="309.60" font-size="14.0" stroke="#000" stroke-width="0.12" textLength="33.34" lengthAdjust="spacingAndGlyphs">1600</text>
<text x="218.72" y="341.60" font-size="14.0" stroke="#000" stroke-width="0.12" textLength="32.92" lengthAdjust="spacingAndGlyphs">1400</text>
<text x="218.72" y="372.60" font-size="14.0" stroke="#000" stroke-width="0.12" textLength="32.92" lengthAdjust="spacingAndGlyphs">1200</text>
<text x="218.72" y="404.60" font-size="14.0" stroke="#000" stroke-width="0.12" textLength="32.92" lengthAdjust="spacingAndGlyphs">1000</text>
<text x="218.60" y="413.60" font-size="14.0" stroke="#000" stroke-width="0.12" textLength="33.34" lengthAdjust="spacingAndGlyphs">1600</text>
<text x="218.72" y="445.60" font-size="14.0" stroke="#000" stroke-width="0.12" textLength="32.92" lengthAdjust="spacingAndGlyphs">1400</text>
<text x="218.72" y="476.60" font-size="14.0" stroke="#000" stroke-width="0.12" textLength="32.92" lengthAdjust="spacingAndGlyphs">1200</text>
<text x="218.72" y="508.60" font-size="14.0" stroke="#000" stroke-width="0.12" textLength="32.92" lengthAdjust="spacingAndGlyphs">1000</text>
<text x="218.60" y="517.60" font-size="14.0" stroke="#000" stroke-width="0.12" textLength="33.34" lengthAdjust="spacingAndGlyphs">1600</text>
<text x="218.72" y="549.60" font-size="14.0" stroke="#000" stroke-width="0.12" textLength="32.92" lengthAdjust="spacingAndGlyphs">1400</text>
<text x="218.72" y="581.60" font-size="14.0" stroke="#000" stroke-width="0.12" textLength="32.92" lengthAdjust="spacingAndGlyphs">1200</text>
<text x="218.72" y="612.60" font-size="14.0" stroke="#000" stroke-width="0.12" textLength="32.92" lengthAdjust="spacingAndGlyphs">1000</text>
<text x="218.60" y="622.60" font-size="14.0" stroke="#000" stroke-width="0.12" textLength="33.34" lengthAdjust="spacingAndGlyphs">1600</text>
<text x="218.72" y="653.60" font-size="14.0" stroke="#000" stroke-width="0.12" textLength="32.92" lengthAdjust="spacingAndGlyphs">1400</text>
<text x="218.72" y="685.60" font-size="14.0" stroke="#000" stroke-width="0.12" textLength="32.92" lengthAdjust="spacingAndGlyphs">1200</text>
<text x="218.72" y="716.60" font-size="14.0" stroke="#000" stroke-width="0.12" textLength="32.92" lengthAdjust="spacingAndGlyphs">1000</text>
<text x="252.20" y="727.90" font-size="14.0" stroke="#000" stroke-width="0.12" textLength="18.53" lengthAdjust="spacingAndGlyphs">00</text>
<text x="353.73" y="727.90" font-size="14.0" stroke="#000" stroke-width="0.12" textLength="18.12" lengthAdjust="spacingAndGlyphs">15</text>
<text x="455.71" y="727.90" font-size="14.0" stroke="#000" stroke-width="0.12" textLength="18.14" lengthAdjust="spacingAndGlyphs">30</text>
<text x="557.57" y="727.90" font-size="14.0" stroke="#000" stroke-width="0.12" textLength="17.94" lengthAdjust="spacingAndGlyphs">45</text>
<text x="659.07" y="727.90" font-size="14.0" stroke="#000" stroke-width="0.12" textLength="18.53" lengthAdjust="spacingAndGlyphs">00</text>
<text x="760.60" y="727.90" font-size="14.0" stroke="#000" stroke-width="0.12" textLength="18.12" lengthAdjust="spacingAndGlyphs">15</text>
<text x="862.58" y="727.90" font-size="14.0" stroke="#000" stroke-width="0.12" textLength="18.14" lengthAdjust="spacingAndGlyphs">30</text>
<text x="964.45" y="727.90" font-size="14.0" stroke="#000" stroke-width="0.12" textLength="17.94" lengthAdjust="spacingAndGlyphs">45</text>
<text x="1065.95" y="727.90" font-size="14.0" stroke="#000" stroke-width="0.12" textLength="18.53" lengthAdjust="spacingAndGlyphs">00</text>
<text x="1167.48" y="727.90" font-size="14.0" stroke="#000" stroke-width="0.12" textLength="18.12" lengthAdjust="spacingAndGlyphs">15</text>
<text x="1269.46" y="727.90" font-size="14.0" stroke="#000" stroke-width="0.12" textLength="18.14" lengthAdjust="spacingAndGlyphs">30</text>
<text x="1371.32" y="727.90" font-size="14.0" stroke="#000" stroke-width="0.12" textLength="17.94" lengthAdjust="spacingAndGlyphs">45</text>
<text x="1472.82" y="727.90" font-size="14.0" stroke="#000" stroke-width="0.12" textLength="18.53" lengthAdjust="spacingAndGlyphs">00</text>
<text x="1574.35" y="727.90" font-size="14.0" stroke="#000" stroke-width="0.12" textLength="18.12" lengthAdjust="spacingAndGlyphs">15</text>
<text x="1676.33" y="727.90" font-size="14.0" stroke="#000" stroke-width="0.12" textLength="18.14" lengthAdjust="spacingAndGlyphs">30</text>
<text x="1778.20" y="727.90" font-size="14.0" stroke="#000" stroke-width="0.12" textLength="17.94" lengthAdjust="spacingAndGlyphs">45</text>
<text x="1911.38" y="134.00" font-size="22.4" stroke="#000" stroke-width="0.18" style="text-rendering:geometricPrecision" textLength="58.51" lengthAdjust="spacingAndGlyphs">00-03</text>
<text x="1970.45" y="134.00" font-size="22.4" stroke="#000" stroke-width="0.18" style="text-rendering:geometricPrecision" textLength="28.82" lengthAdjust="spacingAndGlyphs">UT</text>
<text x="1911.38" y="238.00" font-size="22.4" stroke="#000" stroke-width="0.18" style="text-rendering:geometricPrecision" textLength="58.78" lengthAdjust="spacingAndGlyphs">04-07</text>
<text x="1970.45" y="238.00" font-size="22.4" stroke="#000" stroke-width="0.18" style="text-rendering:geometricPrecision" textLength="28.82" lengthAdjust="spacingAndGlyphs">UT</text>
<text x="1911.38" y="342.00" font-size="22.4" stroke="#000" stroke-width="0.18" style="text-rendering:geometricPrecision" textLength="58.60" lengthAdjust="spacingAndGlyphs">08-11</text>
<text x="1970.45" y="342.00" font-size="22.4" stroke="#000" stroke-width="0.18" style="text-rendering:geometricPrecision" textLength="28.82" lengthAdjust="spacingAndGlyphs">UT</text>
<text x="1911.40" y="447.00" font-size="22.4" stroke="#000" stroke-width="0.18" style="text-rendering:geometricPrecision" textLength="58.45" lengthAdjust="spacingAndGlyphs">12-15</text>
<text x="1970.45" y="447.00" font-size="22.4" stroke="#000" stroke-width="0.18" style="text-rendering:geometricPrecision" textLength="28.82" lengthAdjust="spacingAndGlyphs">UT</text>
<text x="1911.43" y="551.00" font-size="22.4" stroke="#000" stroke-width="0.18" style="text-rendering:geometricPrecision" textLength="58.84" lengthAdjust="spacingAndGlyphs">16-19</text>
<text x="1971.19" y="551.00" font-size="22.4" stroke="#000" stroke-width="0.18" style="text-rendering:geometricPrecision" textLength="28.09" lengthAdjust="spacingAndGlyphs">UT</text>
<text x="1910.90" y="655.00" font-size="22.4" stroke="#000" stroke-width="0.18" style="text-rendering:geometricPrecision" textLength="59.07" lengthAdjust="spacingAndGlyphs">20-23</text>
<text x="1970.45" y="655.00" font-size="22.4" stroke="#000" stroke-width="0.18" style="text-rendering:geometricPrecision" textLength="28.82" lengthAdjust="spacingAndGlyphs">UT</text>
<text transform="translate(213.60,488.61) rotate(-90)" font-size="21.7" textLength="106.70" lengthAdjust="spacingAndGlyphs">Frequency</text>
<text transform="translate(213.60,374.57) rotate(-90)" font-size="21.7" textLength="60.49" lengthAdjust="spacingAndGlyphs">[MHz]</text>
</g>
</svg>
</body></html>
